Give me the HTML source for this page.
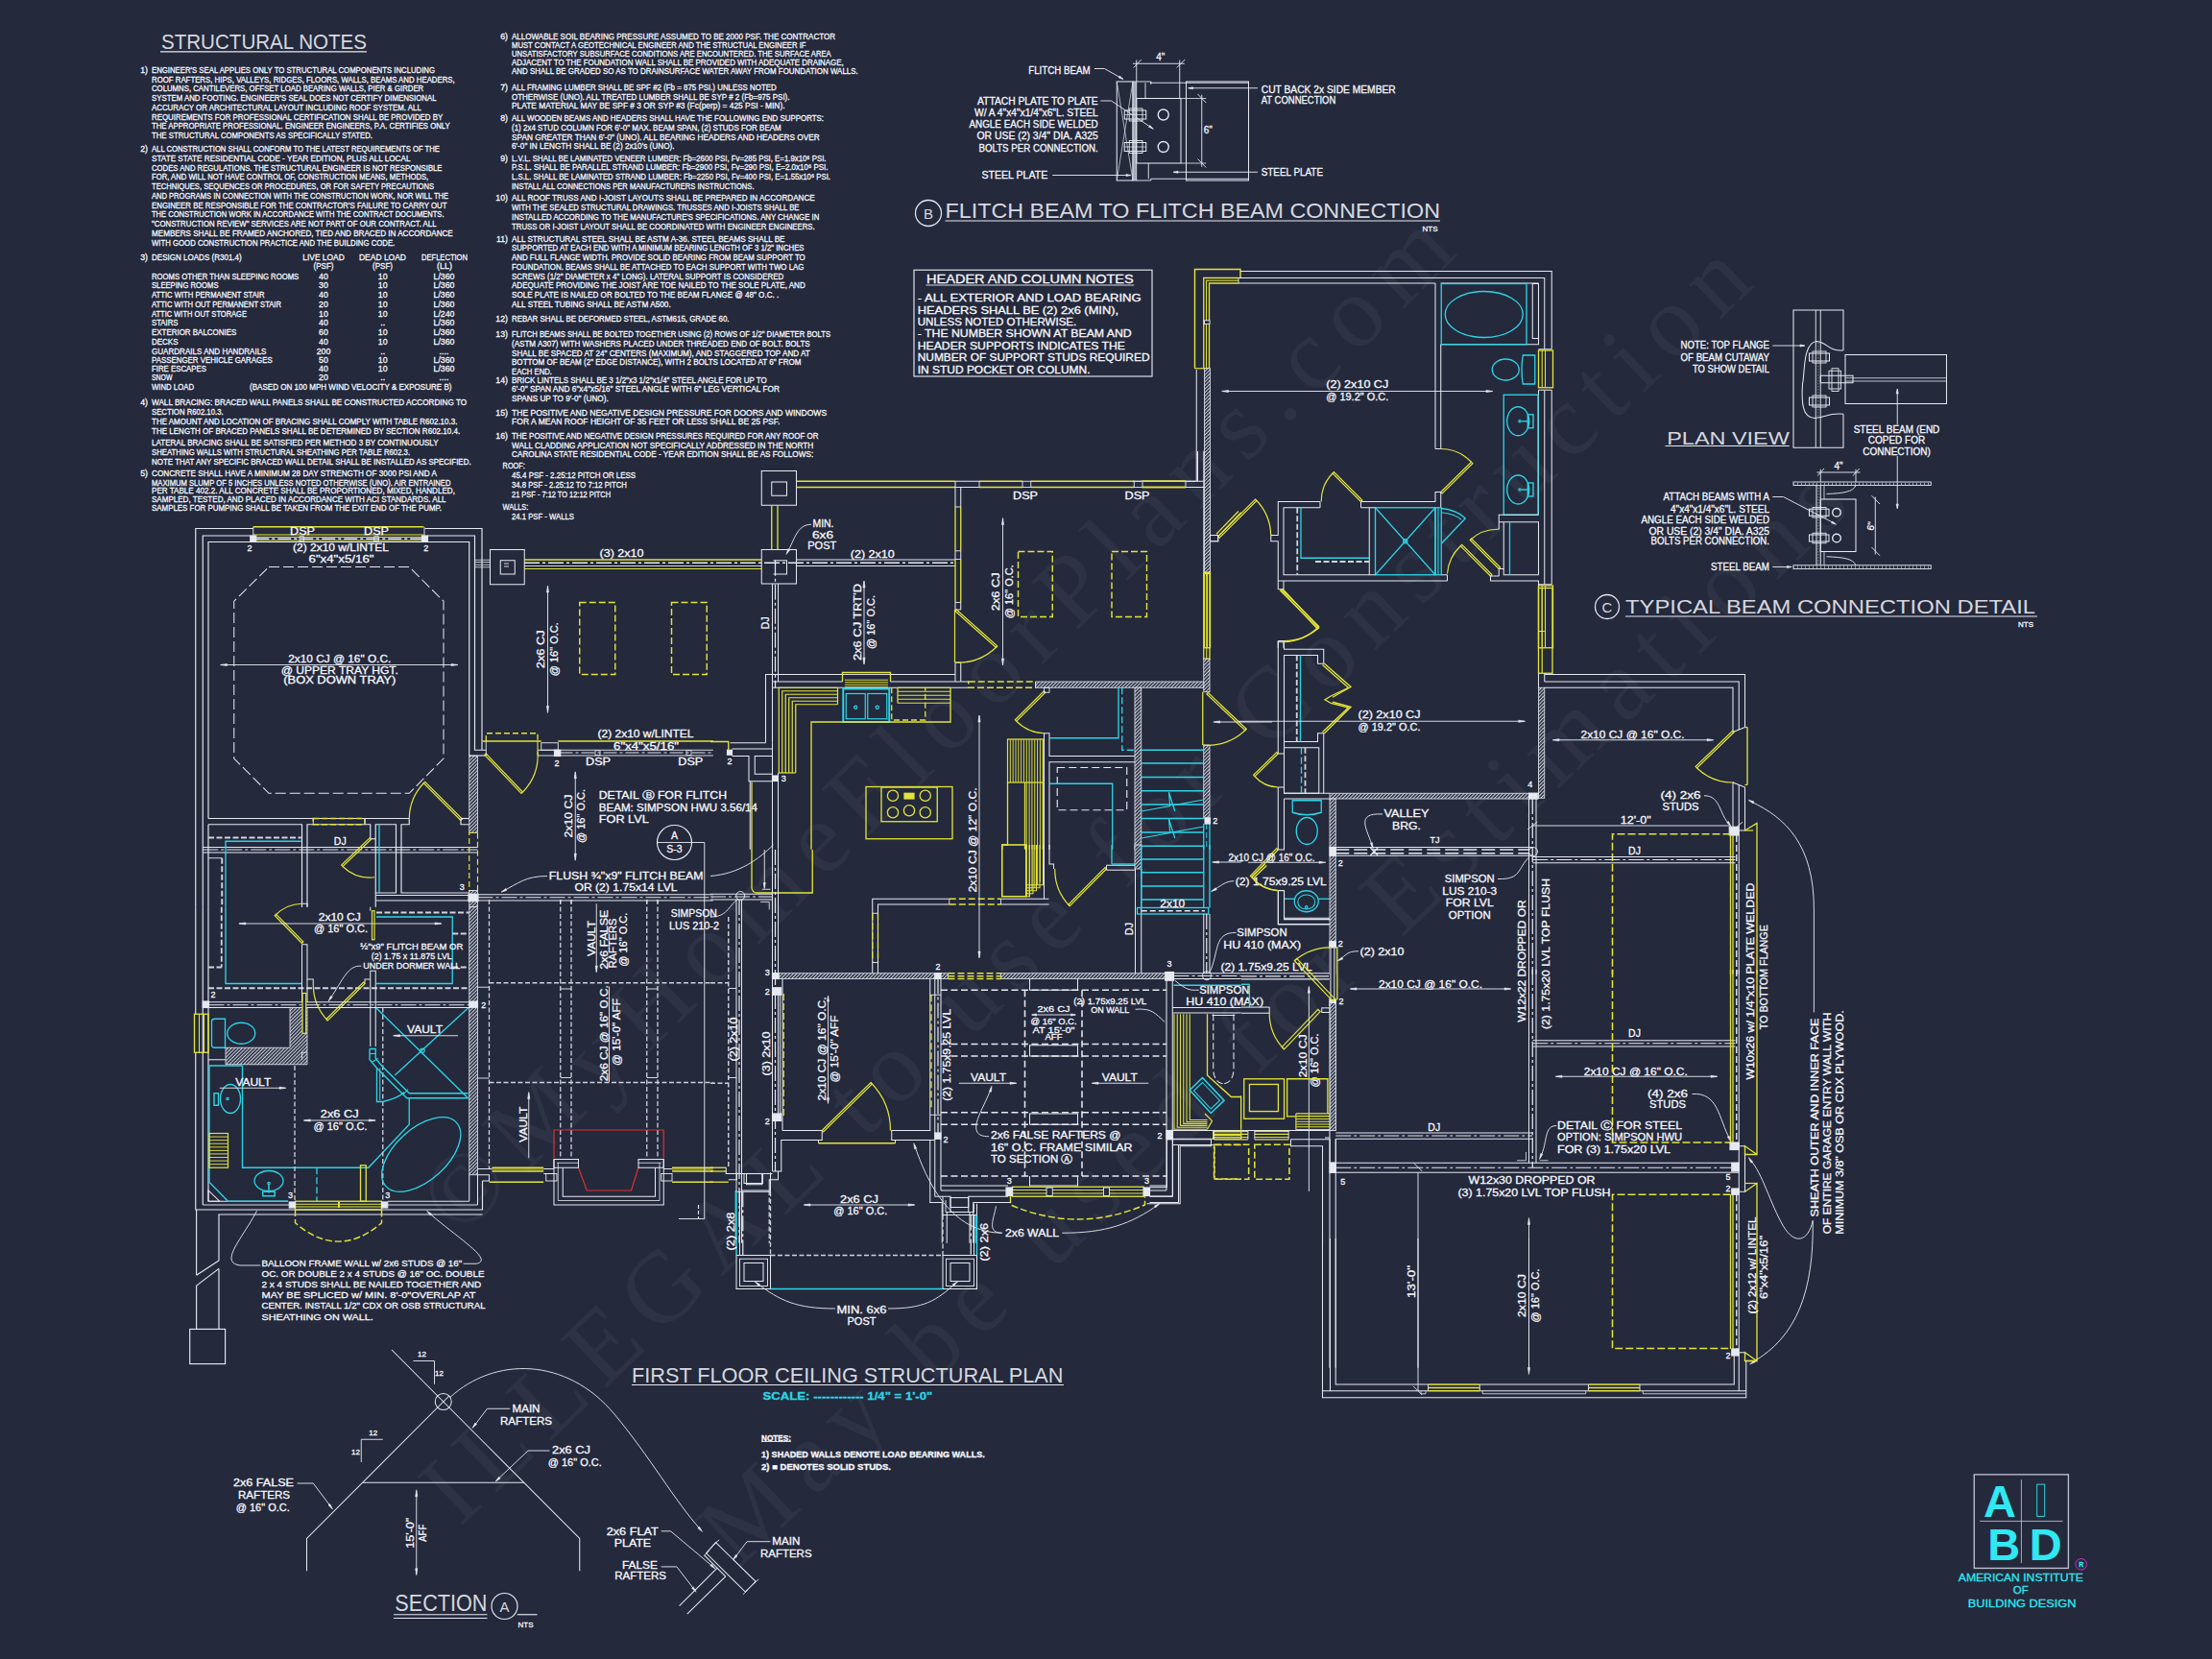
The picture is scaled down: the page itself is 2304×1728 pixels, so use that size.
<!DOCTYPE html>
<html><head><meta charset="utf-8"><title>First Floor Ceiling Structural Plan</title>
<style>
html,body{margin:0;padding:0;background:#24293c;}
body{width:2304px;height:1728px;overflow:hidden;}
svg{display:block;font-family:"Liberation Sans",sans-serif;}
svg line,svg polyline,svg polygon,svg rect,svg circle,svg ellipse,svg path{stroke-linecap:butt;}
</style></head><body>
<svg width="2304" height="1728" viewBox="0 0 2304 1728">
<defs><pattern id="h" width="2.6" height="2.6" patternUnits="userSpaceOnUse" patternTransform="rotate(-45)"><rect width="2.6" height="2.6" fill="#24293c"/><line x1="0" y1="1.3" x2="2.6" y2="1.3" stroke="#d4d8e2" stroke-width="1.05"/></pattern></defs>
<rect x="0" y="0" width="2304" height="1728" fill="#24293c"/>
<text x="479.6" y="1289.9" font-family="Liberation Serif,serif" font-size="106" fill="#ffffff" fill-opacity="0.042" textLength="1460" lengthAdjust="spacing" transform="rotate(-44.58 479.6 1289.9)">©MyHomeFloorPlans.com</text>
<text x="479.2" y="1591.3" font-family="Liberation Serif,serif" font-size="106" fill="#ffffff" fill-opacity="0.042" textLength="1870" lengthAdjust="spacing" transform="rotate(-43.79 479.2 1591.3)">ILLEGAL to use for Construction</text>
<text x="769.1" y="1635.3" font-family="Liberation Serif,serif" font-size="106" fill="#ffffff" fill-opacity="0.042" textLength="1602" lengthAdjust="spacing" transform="rotate(-43.61 769.1 1635.3)">May be used for Estimations</text>
<text x="1071.25" y="76.6" font-size="10" fill="#f7f8fc" stroke="#f7f8fc" stroke-width="0.28" textLength="64.25" lengthAdjust="spacingAndGlyphs">FLITCH BEAM</text>
<polyline points="1140,71.5 1150.5,71.5 1170,82.5" fill="none" stroke="#e6e9f0" stroke-width="0.92"/>
<polygon points="1170,82.5 1165.12,80.9526 1166.22,79.0474" fill="#e6e9f0" stroke="#e6e9f0" stroke-width="0.575"/>
<text x="1143.75" y="109.1" font-size="10" fill="#f7f8fc" stroke="#f7f8fc" stroke-width="0.28" text-anchor="end" textLength="125.75" lengthAdjust="spacingAndGlyphs">ATTACH PLATE TO PLATE</text>
<text x="1143.75" y="120.6" font-size="10" fill="#f7f8fc" stroke="#f7f8fc" stroke-width="0.28" text-anchor="end" textLength="128.75" lengthAdjust="spacingAndGlyphs">W/ A 4"x4"x1/4"x6"L. STEEL</text>
<text x="1143.75" y="132.6" font-size="10" fill="#f7f8fc" stroke="#f7f8fc" stroke-width="0.28" text-anchor="end" textLength="134.25" lengthAdjust="spacingAndGlyphs">ANGLE EACH SIDE WELDED</text>
<text x="1143.75" y="145.1" font-size="10" fill="#f7f8fc" stroke="#f7f8fc" stroke-width="0.28" text-anchor="end" textLength="126.25" lengthAdjust="spacingAndGlyphs">OR USE (2) 3/4" DIA. A325</text>
<text x="1143.75" y="157.85" font-size="10" fill="#f7f8fc" stroke="#f7f8fc" stroke-width="0.28" text-anchor="end" textLength="124.25" lengthAdjust="spacingAndGlyphs">BOLTS PER CONNECTION.</text>
<polyline points="1146.25,105 1157.5,105 1201.25,134.25" fill="none" stroke="#e6e9f0" stroke-width="0.92"/>
<polygon points="1201.25,134.25 1196.49,132.366 1197.72,130.542" fill="#e6e9f0" stroke="#e6e9f0" stroke-width="0.575"/>
<text x="1022.5" y="186.1" font-size="10" fill="#f7f8fc" stroke="#f7f8fc" stroke-width="0.28" textLength="68.75" lengthAdjust="spacingAndGlyphs">STEEL  PLATE</text>
<line x1="1096.25" y1="182.5" x2="1177.5" y2="182.5" stroke="#e6e9f0" stroke-width="0.92"/>
<polygon points="1178,182.5 1173,183.6 1173,181.4" fill="#e6e9f0" stroke="#e6e9f0" stroke-width="0.575"/>
<text x="1313.75" y="96.6" font-size="10" fill="#f7f8fc" stroke="#f7f8fc" stroke-width="0.28" textLength="140" lengthAdjust="spacingAndGlyphs">CUT BACK 2x  SIDE MEMBER</text>
<text x="1313.75" y="107.85" font-size="10" fill="#f7f8fc" stroke="#f7f8fc" stroke-width="0.28" textLength="77.5" lengthAdjust="spacingAndGlyphs">AT CONNECTION</text>
<line x1="1310" y1="91.75" x2="1238" y2="91.75" stroke="#e6e9f0" stroke-width="0.92"/>
<polygon points="1237.5,91.75 1242.5,90.65 1242.5,92.85" fill="#e6e9f0" stroke="#e6e9f0" stroke-width="0.575"/>
<text x="1313.75" y="182.6" font-size="10" fill="#f7f8fc" stroke="#f7f8fc" stroke-width="0.28" textLength="64.25" lengthAdjust="spacingAndGlyphs">STEEL PLATE</text>
<line x1="1310" y1="179.25" x2="1222.5" y2="179.25" stroke="#e6e9f0" stroke-width="0.92"/>
<polygon points="1222,179.25 1227,178.15 1227,180.35" fill="#e6e9f0" stroke="#e6e9f0" stroke-width="0.575"/>
<text x="1208.75" y="63.1" font-size="10" fill="#f7f8fc" stroke="#f7f8fc" stroke-width="0.28" text-anchor="middle">4"</text>
<line x1="1180" y1="66.25" x2="1233.75" y2="66.25" stroke="#e6e9f0" stroke-width="0.92"/>
<line x1="1183.75" y1="62.5" x2="1183.75" y2="85" stroke="#e6e9f0" stroke-width="0.92"/>
<line x1="1228.75" y1="62.5" x2="1228.75" y2="102.5" stroke="#e6e9f0" stroke-width="0.92"/>
<line x1="1180.75" y1="70.5" x2="1188.75" y2="62" stroke="#e6e9f0" stroke-width="0.92"/>
<line x1="1225.75" y1="70.5" x2="1234.25" y2="62" stroke="#e6e9f0" stroke-width="0.92"/>
<rect x="1163.25" y="85" width="16.75" height="103" fill="none" stroke="#e6e9f0" stroke-width="1.035"/>
<line x1="1163.25" y1="85" x2="1180" y2="188" stroke="#e6e9f0" stroke-width="0.69"/>
<line x1="1180" y1="85" x2="1163.25" y2="188" stroke="#e6e9f0" stroke-width="0.69"/>
<rect x="1180" y="85" width="3.75" height="103" fill="#a4a9b8" stroke="#e6e9f0" stroke-width="0.805"/>
<line x1="1181.75" y1="86.25" x2="1181.75" y2="187.5" stroke="#9aa0b0" stroke-width="1.6" stroke-dasharray="0.8 2.2"/>
<rect x="1183.75" y="102.5" width="46.25" height="67.5" fill="none" stroke="#e6e9f0" stroke-width="1.035"/>
<polyline points="1183.75,85 1198.75,85 1198.75,86.25 1300.5,86.25" fill="none" stroke="#e6e9f0" stroke-width="0.92"/>
<line x1="1193" y1="86.25" x2="1193" y2="102.5" stroke="#e6e9f0" stroke-width="0.92"/>
<line x1="1198.75" y1="85" x2="1198.75" y2="88" stroke="#e6e9f0" stroke-width="0.92"/>
<polyline points="1183.75,188 1198.75,188 1198.75,186.25 1300.5,186.25" fill="none" stroke="#e6e9f0" stroke-width="0.92"/>
<line x1="1196.25" y1="170" x2="1196.25" y2="186.25" stroke="#e6e9f0" stroke-width="0.92"/>
<line x1="1230" y1="102.5" x2="1256.25" y2="102.5" stroke="#e6e9f0" stroke-width="0.805"/>
<line x1="1230" y1="170" x2="1256.25" y2="170" stroke="#e6e9f0" stroke-width="0.805"/>
<rect x="1235.5" y="85" width="65" height="103" fill="none" stroke="#e6e9f0" stroke-width="1.035"/>
<circle cx="1211.75" cy="119.5" r="5.5" fill="none" stroke="#e6e9f0" stroke-width="1.38"/>
<rect x="1171.25" y="115" width="22.5" height="9" fill="none" stroke="#e6e9f0" stroke-width="1.035"/>
<rect x="1176.25" y="113" width="13.75" height="13" fill="none" stroke="#e6e9f0" stroke-width="0.92"/>
<line x1="1171.25" y1="119.5" x2="1193.75" y2="119.5" stroke="#e6e9f0" stroke-width="0.69"/>
<circle cx="1211.75" cy="153" r="5.5" fill="none" stroke="#e6e9f0" stroke-width="1.38"/>
<rect x="1171.25" y="148.5" width="22.5" height="9" fill="none" stroke="#e6e9f0" stroke-width="1.035"/>
<rect x="1176.25" y="146.5" width="13.75" height="13" fill="none" stroke="#e6e9f0" stroke-width="0.92"/>
<line x1="1171.25" y1="153" x2="1193.75" y2="153" stroke="#e6e9f0" stroke-width="0.69"/>
<line x1="1251.75" y1="98.75" x2="1251.75" y2="173.75" stroke="#e6e9f0" stroke-width="0.92"/>
<line x1="1247.5" y1="98" x2="1256.25" y2="107" stroke="#e6e9f0" stroke-width="0.92"/>
<line x1="1247.5" y1="165.5" x2="1256.25" y2="174.5" stroke="#e6e9f0" stroke-width="0.92"/>
<text x="1253.75" y="138.6" font-size="10" fill="#f7f8fc" stroke="#f7f8fc" stroke-width="0.28">6"</text>
<circle cx="967" cy="222" r="13.5" fill="none" stroke="#e6e9f0" stroke-width="1.265"/>
<text x="967" y="227.65" font-size="15" fill="#f7f8fc" fill-opacity="0.86" text-anchor="middle">B</text>
<text x="984.5" y="227" font-size="22.5" fill="#f7f8fc" fill-opacity="0.86" textLength="515.5" lengthAdjust="spacingAndGlyphs">FLITCH BEAM TO FLITCH BEAM CONNECTION</text>
<line x1="984.5" y1="230" x2="1500" y2="230" stroke="#e6e9f0" stroke-width="1.15"/>
<text x="1489.5" y="240.88" font-size="8" fill="#f7f8fc" stroke="#f7f8fc" stroke-width="0.28" text-anchor="middle">NTS</text>
<rect x="952" y="281.25" width="248" height="110.75" fill="none" stroke="#e6e9f0" stroke-width="1.15"/>
<text x="965" y="294.82" font-size="12" fill="#f7f8fc" stroke="#f7f8fc" stroke-width="0.28" textLength="215.75" lengthAdjust="spacingAndGlyphs">HEADER AND COLUMN NOTES</text>
<line x1="964.5" y1="297" x2="1181.25" y2="297" stroke="#e6e9f0" stroke-width="0.92"/>
<text x="955.75" y="314.458" font-size="10.3" fill="#f7f8fc" stroke="#f7f8fc" stroke-width="0.28" textLength="233" lengthAdjust="spacingAndGlyphs">- ALL EXTERIOR AND LOAD BEARING</text>
<text x="955.75" y="326.708" font-size="10.3" fill="#f7f8fc" stroke="#f7f8fc" stroke-width="0.28" textLength="209.25" lengthAdjust="spacingAndGlyphs">HEADERS SHALL BE (2) 2x6 (MIN),</text>
<text x="955.75" y="338.958" font-size="10.3" fill="#f7f8fc" stroke="#f7f8fc" stroke-width="0.28" textLength="165.5" lengthAdjust="spacingAndGlyphs">UNLESS NOTED OTHERWISE.</text>
<text x="955.75" y="351.458" font-size="10.3" fill="#f7f8fc" stroke="#f7f8fc" stroke-width="0.28" textLength="223" lengthAdjust="spacingAndGlyphs">- THE NUMBER SHOWN AT BEAM AND</text>
<text x="955.75" y="363.958" font-size="10.3" fill="#f7f8fc" stroke="#f7f8fc" stroke-width="0.28" textLength="216.25" lengthAdjust="spacingAndGlyphs">HEADER SUPPORTS INDICATES THE</text>
<text x="955.75" y="376.208" font-size="10.3" fill="#f7f8fc" stroke="#f7f8fc" stroke-width="0.28" textLength="241.75" lengthAdjust="spacingAndGlyphs">NUMBER OF SUPPORT STUDS REQUIRED</text>
<text x="955.75" y="388.708" font-size="10.3" fill="#f7f8fc" stroke="#f7f8fc" stroke-width="0.28" textLength="179.75" lengthAdjust="spacingAndGlyphs">IN STUD POCKET OR COLUMN.</text>
<text x="1843" y="363.1" font-size="10" fill="#f7f8fc" stroke="#f7f8fc" stroke-width="0.28" text-anchor="end" textLength="92.5" lengthAdjust="spacingAndGlyphs">NOTE: TOP FLANGE</text>
<text x="1843" y="375.6" font-size="10" fill="#f7f8fc" stroke="#f7f8fc" stroke-width="0.28" text-anchor="end" textLength="92.5" lengthAdjust="spacingAndGlyphs">OF BEAM CUTAWAY</text>
<text x="1843" y="388.1" font-size="10" fill="#f7f8fc" stroke="#f7f8fc" stroke-width="0.28" text-anchor="end" textLength="80" lengthAdjust="spacingAndGlyphs">TO SHOW DETAIL</text>
<line x1="1846.25" y1="360" x2="1879.5" y2="360" stroke="#e6e9f0" stroke-width="0.92"/>
<polygon points="1880,360 1875,361.1 1875,358.9" fill="#e6e9f0" stroke="#e6e9f0" stroke-width="0.575"/>
<polyline points="1920,365 1920,323 1868,323 1868,466.25 1920,466.25 1920,431.25" fill="none" stroke="#e6e9f0" stroke-width="1.035"/>
<line x1="1891.25" y1="323" x2="1891.25" y2="466.25" stroke="#e6e9f0" stroke-width="0.92"/>
<line x1="1896.25" y1="323" x2="1896.25" y2="466.25" stroke="#e6e9f0" stroke-width="0.92"/>
<path d="M1920.0,365.0 C1905.0,366.25 1902.5,356.25 1892.5,355.5 C1877.5,356.25 1880.0,390.0 1877.5,400.0 C1876.25,420.0 1877.5,435.0 1890.0,435.5 C1902.5,435.0 1902.5,430.0 1920.0,431.25" fill="none" stroke="#e6e9f0" stroke-width="1.035"/>
<line x1="1893.75" y1="357.5" x2="1893.75" y2="435" stroke="#9aa0b0" stroke-width="1.6" stroke-dasharray="0.8 2.2"/>
<rect x="1922" y="369.5" width="105.5" height="51" fill="none" stroke="#e6e9f0" stroke-width="1.035"/>
<line x1="1922" y1="393.75" x2="2027.5" y2="393.75" stroke="#e6e9f0" stroke-width="0.805"/>
<line x1="1922" y1="397" x2="2027.5" y2="397" stroke="#e6e9f0" stroke-width="0.805"/>
<rect x="1884.5" y="368" width="21" height="8" fill="none" stroke="#e6e9f0" stroke-width="1.035"/>
<rect x="1888" y="366" width="14" height="12" fill="none" stroke="#e6e9f0" stroke-width="0.92"/>
<rect x="1884.5" y="414" width="21" height="8" fill="none" stroke="#e6e9f0" stroke-width="1.035"/>
<rect x="1888" y="412" width="14" height="12" fill="none" stroke="#e6e9f0" stroke-width="0.92"/>
<rect x="1905" y="386.25" width="12.5" height="18.75" fill="none" stroke="#e6e9f0" stroke-width="0.92"/>
<rect x="1908" y="383.75" width="7" height="23.75" fill="none" stroke="#e6e9f0" stroke-width="0.92"/>
<rect x="1896.25" y="391.25" width="33.75" height="7.5" fill="none" stroke="#e6e9f0" stroke-width="1.035"/>
<text x="1736.25" y="462.5" font-size="19" fill="#f7f8fc" fill-opacity="0.86" textLength="127.5" lengthAdjust="spacingAndGlyphs">PLAN VIEW</text>
<line x1="1734.5" y1="464.5" x2="1863.75" y2="464.5" stroke="#e6e9f0" stroke-width="1.15"/>
<text x="1975.5" y="450.6" font-size="10" fill="#f7f8fc" stroke="#f7f8fc" stroke-width="0.28" text-anchor="middle">STEEL BEAM (END</text>
<text x="1975.5" y="462.35" font-size="10" fill="#f7f8fc" stroke="#f7f8fc" stroke-width="0.28" text-anchor="middle">COPED FOR</text>
<text x="1975.5" y="474.35" font-size="10" fill="#f7f8fc" stroke="#f7f8fc" stroke-width="0.28" text-anchor="middle">CONNECTION)</text>
<line x1="1976.25" y1="405.5" x2="1976.25" y2="442.5" stroke="#e6e9f0" stroke-width="0.92"/>
<polygon points="1976.25,405 1977.35,410 1975.15,410" fill="#e6e9f0" stroke="#e6e9f0" stroke-width="0.575"/>
<line x1="1976.25" y1="475" x2="1976.25" y2="529.5" stroke="#e6e9f0" stroke-width="0.92"/>
<polygon points="1976.25,530 1975.15,525 1977.35,525" fill="#e6e9f0" stroke="#e6e9f0" stroke-width="0.575"/>
<rect x="1868" y="502" width="143.25" height="3.5" fill="none" stroke="#e6e9f0" stroke-width="0.92"/>
<line x1="1868" y1="503.75" x2="2011.25" y2="503.75" stroke="#9aa0b0" stroke-width="2.4" stroke-dasharray="1 3"/>
<rect x="1868" y="588.75" width="143.25" height="3.75" fill="none" stroke="#e6e9f0" stroke-width="0.92"/>
<line x1="1868" y1="590.5" x2="2011.25" y2="590.5" stroke="#9aa0b0" stroke-width="2.4" stroke-dasharray="1 3"/>
<line x1="1892" y1="505.5" x2="1892" y2="588.75" stroke="#e6e9f0" stroke-width="1.035"/>
<line x1="1896.25" y1="505.5" x2="1896.25" y2="588.75" stroke="#e6e9f0" stroke-width="1.035"/>
<line x1="1894" y1="505.5" x2="1894" y2="588.75" stroke="#9aa0b0" stroke-width="1.6" stroke-dasharray="0.8 2.2"/>
<rect x="1896.25" y="520" width="36.75" height="54.5" fill="none" stroke="#e6e9f0" stroke-width="1.035"/>
<line x1="1900" y1="505.5" x2="1900" y2="520" stroke="#e6e9f0" stroke-width="0.805"/>
<line x1="1900" y1="574.5" x2="1900" y2="588.75" stroke="#e6e9f0" stroke-width="0.805"/>
<path d="M1933.0,505.5 C1930.0,512.5 1920.0,513.75 1902.5,514.5" fill="none" stroke="#e6e9f0" stroke-width="0.92"/>
<path d="M1933.0,588.75 C1930.0,581.75 1920.0,580.5 1902.5,579.75" fill="none" stroke="#e6e9f0" stroke-width="0.92"/>
<circle cx="1913" cy="533.75" r="4.3" fill="none" stroke="#e6e9f0" stroke-width="1.38"/>
<rect x="1884.5" y="530.25" width="20.5" height="7" fill="none" stroke="#e6e9f0" stroke-width="1.035"/>
<rect x="1888" y="528.5" width="14" height="10.5" fill="none" stroke="#e6e9f0" stroke-width="0.92"/>
<circle cx="1913" cy="560.5" r="4.3" fill="none" stroke="#e6e9f0" stroke-width="1.38"/>
<rect x="1884.5" y="557" width="20.5" height="7" fill="none" stroke="#e6e9f0" stroke-width="1.035"/>
<rect x="1888" y="555.25" width="14" height="10.5" fill="none" stroke="#e6e9f0" stroke-width="0.92"/>
<text x="1915" y="488.6" font-size="10" fill="#f7f8fc" stroke="#f7f8fc" stroke-width="0.28" text-anchor="middle">4"</text>
<line x1="1892.5" y1="492" x2="1937.5" y2="492" stroke="#e6e9f0" stroke-width="0.92"/>
<line x1="1896.25" y1="488.75" x2="1896.25" y2="502" stroke="#e6e9f0" stroke-width="0.92"/>
<line x1="1933" y1="488.75" x2="1933" y2="502" stroke="#e6e9f0" stroke-width="0.92"/>
<line x1="1893.25" y1="495.5" x2="1900" y2="488" stroke="#e6e9f0" stroke-width="0.92"/>
<line x1="1930" y1="495.5" x2="1936.75" y2="488" stroke="#e6e9f0" stroke-width="0.92"/>
<line x1="1953.25" y1="517.5" x2="1953.25" y2="577.5" stroke="#e6e9f0" stroke-width="0.92"/>
<line x1="1949.5" y1="516.25" x2="1958" y2="525" stroke="#e6e9f0" stroke-width="0.92"/>
<line x1="1949.5" y1="570" x2="1958" y2="578.75" stroke="#e6e9f0" stroke-width="0.92"/>
<text x="0" y="3.6" font-size="10" fill="#f7f8fc" stroke="#f7f8fc" stroke-width="0.28" text-anchor="middle" transform="translate(1948.5 548) rotate(-80)">6"</text>
<text x="1843" y="521.1" font-size="10" fill="#f7f8fc" stroke="#f7f8fc" stroke-width="0.28" text-anchor="end" textLength="110.5" lengthAdjust="spacingAndGlyphs">ATTACH BEAMS WITH A</text>
<text x="1843" y="533.6" font-size="10" fill="#f7f8fc" stroke="#f7f8fc" stroke-width="0.28" text-anchor="end" textLength="103" lengthAdjust="spacingAndGlyphs">4"x4"x1/4"x6"L. STEEL</text>
<text x="1843" y="544.85" font-size="10" fill="#f7f8fc" stroke="#f7f8fc" stroke-width="0.28" text-anchor="end" textLength="133.5" lengthAdjust="spacingAndGlyphs">ANGLE EACH SIDE WELDED</text>
<text x="1843" y="556.6" font-size="10" fill="#f7f8fc" stroke="#f7f8fc" stroke-width="0.28" text-anchor="end" textLength="125.5" lengthAdjust="spacingAndGlyphs">OR USE (2) 3/4" DIA. A325</text>
<text x="1843" y="567.35" font-size="10" fill="#f7f8fc" stroke="#f7f8fc" stroke-width="0.28" text-anchor="end" textLength="123.5" lengthAdjust="spacingAndGlyphs">BOLTS PER CONNECTION.</text>
<polyline points="1846.25,517.5 1857.5,517.5 1912,545.75" fill="none" stroke="#e6e9f0" stroke-width="0.92"/>
<polygon points="1912.5,546.25 1907.57,544.874 1908.6,542.931" fill="#e6e9f0" stroke="#e6e9f0" stroke-width="0.575"/>
<text x="1843" y="594.1" font-size="10" fill="#f7f8fc" stroke="#f7f8fc" stroke-width="0.28" text-anchor="end" textLength="61" lengthAdjust="spacingAndGlyphs">STEEL BEAM</text>
<line x1="1846.25" y1="590.5" x2="1865.75" y2="590.5" stroke="#e6e9f0" stroke-width="0.92"/>
<polygon points="1866.25,590.5 1861.25,591.6 1861.25,589.4" fill="#e6e9f0" stroke="#e6e9f0" stroke-width="0.575"/>
<circle cx="1674" cy="632" r="12.5" fill="none" stroke="#e6e9f0" stroke-width="1.265"/>
<text x="1674" y="637.9" font-size="15" fill="#f7f8fc" fill-opacity="0.86" text-anchor="middle">C</text>
<text x="1693" y="638.5" font-size="20.5" fill="#f7f8fc" fill-opacity="0.86" textLength="427" lengthAdjust="spacingAndGlyphs">TYPICAL BEAM CONNECTION DETAIL</text>
<line x1="1693" y1="642" x2="2122" y2="642" stroke="#e6e9f0" stroke-width="1.15"/>
<text x="2110" y="652.88" font-size="8" fill="#f7f8fc" stroke="#f7f8fc" stroke-width="0.28" text-anchor="middle">NTS</text>
<text x="168" y="51" font-size="22" fill="#f7f8fc" fill-opacity="0.86" textLength="214" lengthAdjust="spacingAndGlyphs">STRUCTURAL NOTES</text>
<line x1="167" y1="53.8" x2="382" y2="53.8" stroke="#e6e9f0" stroke-width="1.15"/>
<text x="158" y="75.918" font-size="8.8" fill="#f7f8fc" stroke="#f7f8fc" stroke-width="0.28" textLength="295" lengthAdjust="spacingAndGlyphs">ENGINEER'S SEAL APPLIES ONLY TO STRUCTURAL COMPONENTS INCLUDING</text>
<text x="154" y="75.918" font-size="8.8" fill="#f7f8fc" stroke="#f7f8fc" stroke-width="0.28" text-anchor="end">1)</text>
<text x="158" y="85.668" font-size="8.8" fill="#f7f8fc" stroke="#f7f8fc" stroke-width="0.28" textLength="315.75" lengthAdjust="spacingAndGlyphs">ROOF RAFTERS, HIPS, VALLEYS, RIDGES, FLOORS, WALLS, BEAMS AND HEADERS,</text>
<text x="158" y="95.418" font-size="8.8" fill="#f7f8fc" stroke="#f7f8fc" stroke-width="0.28" textLength="283.25" lengthAdjust="spacingAndGlyphs">COLUMNS, CANTILEVERS, OFFSET LOAD BEARING WALLS, PIER &amp; GIRDER</text>
<text x="158" y="105.168" font-size="8.8" fill="#f7f8fc" stroke="#f7f8fc" stroke-width="0.28" textLength="296.5" lengthAdjust="spacingAndGlyphs">SYSTEM AND FOOTING.  ENGINEER'S SEAL DOES NOT CERTIFY DIMENSIONAL</text>
<text x="158" y="114.918" font-size="8.8" fill="#f7f8fc" stroke="#f7f8fc" stroke-width="0.28" textLength="280.75" lengthAdjust="spacingAndGlyphs">ACCURACY OR ARCHITECTURAL LAYOUT INCLUDING ROOF SYSTEM. ALL</text>
<text x="158" y="124.918" font-size="8.8" fill="#f7f8fc" stroke="#f7f8fc" stroke-width="0.28" textLength="303.25" lengthAdjust="spacingAndGlyphs">REQUIREMENTS FOR PROFESSIONAL CERTIFICATION SHALL BE PROVIDED BY</text>
<text x="158" y="134.418" font-size="8.8" fill="#f7f8fc" stroke="#f7f8fc" stroke-width="0.28" textLength="310.75" lengthAdjust="spacingAndGlyphs">THE APPROPRIATE PROFESSIONAL. ENGINEER ENGINEERS, P.A. CERTIFIES ONLY</text>
<text x="158" y="143.918" font-size="8.8" fill="#f7f8fc" stroke="#f7f8fc" stroke-width="0.28" textLength="230" lengthAdjust="spacingAndGlyphs">THE STRUCTURAL COMPONENTS AS SPECIFICALLY STATED.</text>
<text x="158" y="158.168" font-size="8.8" fill="#f7f8fc" stroke="#f7f8fc" stroke-width="0.28" textLength="300" lengthAdjust="spacingAndGlyphs">ALL CONSTRUCTION SHALL CONFORM TO THE LATEST REQUIREMENTS OF THE</text>
<text x="154" y="158.168" font-size="8.8" fill="#f7f8fc" stroke="#f7f8fc" stroke-width="0.28" text-anchor="end">2)</text>
<text x="158" y="167.918" font-size="8.8" fill="#f7f8fc" stroke="#f7f8fc" stroke-width="0.28" textLength="269.5" lengthAdjust="spacingAndGlyphs">STATE STATE RESIDENTIAL CODE - YEAR EDITION, PLUS ALL LOCAL</text>
<text x="158" y="177.668" font-size="8.8" fill="#f7f8fc" stroke="#f7f8fc" stroke-width="0.28" textLength="302.5" lengthAdjust="spacingAndGlyphs">CODES AND REGULATIONS. THE STRUCTURAL ENGINEER IS NOT RESPONSIBLE</text>
<text x="158" y="187.418" font-size="8.8" fill="#f7f8fc" stroke="#f7f8fc" stroke-width="0.28" textLength="288.25" lengthAdjust="spacingAndGlyphs">FOR, AND WILL NOT HAVE CONTROL OF, CONSTRUCTION MEANS, METHODS,</text>
<text x="158" y="197.168" font-size="8.8" fill="#f7f8fc" stroke="#f7f8fc" stroke-width="0.28" textLength="294" lengthAdjust="spacingAndGlyphs">TECHNIQUES, SEQUENCES OR PROCEDURES, OR FOR SAFETY PRECAUTIONS</text>
<text x="158" y="206.918" font-size="8.8" fill="#f7f8fc" stroke="#f7f8fc" stroke-width="0.28" textLength="309" lengthAdjust="spacingAndGlyphs">AND PROGRAMS IN CONNECTION WITH THE CONSTRUCTION WORK, NOR WILL THE</text>
<text x="158" y="216.668" font-size="8.8" fill="#f7f8fc" stroke="#f7f8fc" stroke-width="0.28" textLength="307.5" lengthAdjust="spacingAndGlyphs">ENGINEER BE RESPONSIBLE FOR THE CONTRACTOR'S FAILURE TO CARRY OUT</text>
<text x="158" y="226.418" font-size="8.8" fill="#f7f8fc" stroke="#f7f8fc" stroke-width="0.28" textLength="304.5" lengthAdjust="spacingAndGlyphs">THE CONSTRUCTION WORK IN ACCORDANCE WITH THE CONTRACT DOCUMENTS.</text>
<text x="158" y="236.168" font-size="8.8" fill="#f7f8fc" stroke="#f7f8fc" stroke-width="0.28" textLength="296.5" lengthAdjust="spacingAndGlyphs">"CONSTRUCTION REVIEW" SERVICES ARE NOT PART OF OUR CONTRACT. ALL</text>
<text x="158" y="245.918" font-size="8.8" fill="#f7f8fc" stroke="#f7f8fc" stroke-width="0.28" textLength="313.75" lengthAdjust="spacingAndGlyphs">MEMBERS SHALL BE FRAMED ANCHORED, TIED AND BRACED IN ACCORDANCE</text>
<text x="158" y="255.668" font-size="8.8" fill="#f7f8fc" stroke="#f7f8fc" stroke-width="0.28" textLength="253.25" lengthAdjust="spacingAndGlyphs">WITH GOOD CONSTRUCTION PRACTICE AND THE BUILDING CODE.</text>
<text x="158" y="271.418" font-size="8.8" fill="#f7f8fc" stroke="#f7f8fc" stroke-width="0.28" textLength="93.75" lengthAdjust="spacingAndGlyphs">DESIGN LOADS (R301.4)</text>
<text x="154" y="271.418" font-size="8.8" fill="#f7f8fc" stroke="#f7f8fc" stroke-width="0.28" text-anchor="end">3)</text>
<text x="337" y="271.418" font-size="8.8" fill="#f7f8fc" stroke="#f7f8fc" stroke-width="0.28" text-anchor="middle" textLength="43.5" lengthAdjust="spacingAndGlyphs">LIVE LOAD</text>
<text x="398.5" y="271.418" font-size="8.8" fill="#f7f8fc" stroke="#f7f8fc" stroke-width="0.28" text-anchor="middle" textLength="49" lengthAdjust="spacingAndGlyphs">DEAD LOAD</text>
<text x="463" y="271.418" font-size="8.8" fill="#f7f8fc" stroke="#f7f8fc" stroke-width="0.28" text-anchor="middle" textLength="48" lengthAdjust="spacingAndGlyphs">DEFLECTION</text>
<text x="337" y="280.418" font-size="8.8" fill="#f7f8fc" stroke="#f7f8fc" stroke-width="0.28" text-anchor="middle" textLength="21" lengthAdjust="spacingAndGlyphs">(PSF)</text>
<text x="398.5" y="280.418" font-size="8.8" fill="#f7f8fc" stroke="#f7f8fc" stroke-width="0.28" text-anchor="middle" textLength="21" lengthAdjust="spacingAndGlyphs">(PSF)</text>
<text x="463" y="280.418" font-size="8.8" fill="#f7f8fc" stroke="#f7f8fc" stroke-width="0.28" text-anchor="middle" textLength="16" lengthAdjust="spacingAndGlyphs">(LL)</text>
<text x="158" y="290.668" font-size="8.8" fill="#f7f8fc" stroke="#f7f8fc" stroke-width="0.28" textLength="153.25" lengthAdjust="spacingAndGlyphs">ROOMS OTHER THAN SLEEPING ROOMS</text>
<text x="337" y="290.668" font-size="8.8" fill="#f7f8fc" stroke="#f7f8fc" stroke-width="0.28" text-anchor="middle">40</text>
<text x="398.75" y="290.668" font-size="8.8" fill="#f7f8fc" stroke="#f7f8fc" stroke-width="0.28" text-anchor="middle">10</text>
<text x="462.5" y="290.668" font-size="8.8" fill="#f7f8fc" stroke="#f7f8fc" stroke-width="0.28" text-anchor="middle">L/360</text>
<text x="158" y="300.418" font-size="8.8" fill="#f7f8fc" stroke="#f7f8fc" stroke-width="0.28" textLength="69.5" lengthAdjust="spacingAndGlyphs">SLEEPING ROOMS</text>
<text x="337" y="300.418" font-size="8.8" fill="#f7f8fc" stroke="#f7f8fc" stroke-width="0.28" text-anchor="middle">30</text>
<text x="398.75" y="300.418" font-size="8.8" fill="#f7f8fc" stroke="#f7f8fc" stroke-width="0.28" text-anchor="middle">10</text>
<text x="462.5" y="300.418" font-size="8.8" fill="#f7f8fc" stroke="#f7f8fc" stroke-width="0.28" text-anchor="middle">L/360</text>
<text x="158" y="310.168" font-size="8.8" fill="#f7f8fc" stroke="#f7f8fc" stroke-width="0.28" textLength="117.5" lengthAdjust="spacingAndGlyphs">ATTIC WITH PERMANENT STAIR</text>
<text x="337" y="310.168" font-size="8.8" fill="#f7f8fc" stroke="#f7f8fc" stroke-width="0.28" text-anchor="middle">40</text>
<text x="398.75" y="310.168" font-size="8.8" fill="#f7f8fc" stroke="#f7f8fc" stroke-width="0.28" text-anchor="middle">10</text>
<text x="462.5" y="310.168" font-size="8.8" fill="#f7f8fc" stroke="#f7f8fc" stroke-width="0.28" text-anchor="middle">L/360</text>
<text x="158" y="319.918" font-size="8.8" fill="#f7f8fc" stroke="#f7f8fc" stroke-width="0.28" textLength="135" lengthAdjust="spacingAndGlyphs">ATTIC WITH OUT PERMANENT STAIR</text>
<text x="337" y="319.918" font-size="8.8" fill="#f7f8fc" stroke="#f7f8fc" stroke-width="0.28" text-anchor="middle">20</text>
<text x="398.75" y="319.918" font-size="8.8" fill="#f7f8fc" stroke="#f7f8fc" stroke-width="0.28" text-anchor="middle">10</text>
<text x="462.5" y="319.918" font-size="8.8" fill="#f7f8fc" stroke="#f7f8fc" stroke-width="0.28" text-anchor="middle">L/360</text>
<text x="158" y="329.668" font-size="8.8" fill="#f7f8fc" stroke="#f7f8fc" stroke-width="0.28" textLength="99" lengthAdjust="spacingAndGlyphs">ATTIC WITH OUT STORAGE</text>
<text x="337" y="329.668" font-size="8.8" fill="#f7f8fc" stroke="#f7f8fc" stroke-width="0.28" text-anchor="middle">10</text>
<text x="398.75" y="329.668" font-size="8.8" fill="#f7f8fc" stroke="#f7f8fc" stroke-width="0.28" text-anchor="middle">10</text>
<text x="462.5" y="329.668" font-size="8.8" fill="#f7f8fc" stroke="#f7f8fc" stroke-width="0.28" text-anchor="middle">L/240</text>
<text x="158" y="339.418" font-size="8.8" fill="#f7f8fc" stroke="#f7f8fc" stroke-width="0.28" textLength="27.5" lengthAdjust="spacingAndGlyphs">STAIRS</text>
<text x="337" y="339.418" font-size="8.8" fill="#f7f8fc" stroke="#f7f8fc" stroke-width="0.28" text-anchor="middle">40</text>
<text x="398.75" y="339.418" font-size="8.8" fill="#f7f8fc" stroke="#f7f8fc" stroke-width="0.28" text-anchor="middle">..</text>
<text x="462.5" y="339.418" font-size="8.8" fill="#f7f8fc" stroke="#f7f8fc" stroke-width="0.28" text-anchor="middle">L/360</text>
<text x="158" y="349.418" font-size="8.8" fill="#f7f8fc" stroke="#f7f8fc" stroke-width="0.28" textLength="88.25" lengthAdjust="spacingAndGlyphs">EXTERIOR BALCONIES</text>
<text x="337" y="349.418" font-size="8.8" fill="#f7f8fc" stroke="#f7f8fc" stroke-width="0.28" text-anchor="middle">60</text>
<text x="398.75" y="349.418" font-size="8.8" fill="#f7f8fc" stroke="#f7f8fc" stroke-width="0.28" text-anchor="middle">10</text>
<text x="462.5" y="349.418" font-size="8.8" fill="#f7f8fc" stroke="#f7f8fc" stroke-width="0.28" text-anchor="middle">L/360</text>
<text x="158" y="359.418" font-size="8.8" fill="#f7f8fc" stroke="#f7f8fc" stroke-width="0.28" textLength="27.5" lengthAdjust="spacingAndGlyphs">DECKS</text>
<text x="337" y="359.418" font-size="8.8" fill="#f7f8fc" stroke="#f7f8fc" stroke-width="0.28" text-anchor="middle">40</text>
<text x="398.75" y="359.418" font-size="8.8" fill="#f7f8fc" stroke="#f7f8fc" stroke-width="0.28" text-anchor="middle">10</text>
<text x="462.5" y="359.418" font-size="8.8" fill="#f7f8fc" stroke="#f7f8fc" stroke-width="0.28" text-anchor="middle">L/360</text>
<text x="158" y="369.418" font-size="8.8" fill="#f7f8fc" stroke="#f7f8fc" stroke-width="0.28" textLength="119.5" lengthAdjust="spacingAndGlyphs">GUARDRAILS AND HANDRAILS</text>
<text x="337" y="369.418" font-size="8.8" fill="#f7f8fc" stroke="#f7f8fc" stroke-width="0.28" text-anchor="middle">200</text>
<text x="398.75" y="369.418" font-size="8.8" fill="#f7f8fc" stroke="#f7f8fc" stroke-width="0.28" text-anchor="middle">..</text>
<text x="462.5" y="369.418" font-size="8.8" fill="#f7f8fc" stroke="#f7f8fc" stroke-width="0.28" text-anchor="middle">....</text>
<text x="158" y="378.168" font-size="8.8" fill="#f7f8fc" stroke="#f7f8fc" stroke-width="0.28" textLength="125.75" lengthAdjust="spacingAndGlyphs">PASSENGER VEHICLE GARAGES</text>
<text x="337" y="378.168" font-size="8.8" fill="#f7f8fc" stroke="#f7f8fc" stroke-width="0.28" text-anchor="middle">50</text>
<text x="398.75" y="378.168" font-size="8.8" fill="#f7f8fc" stroke="#f7f8fc" stroke-width="0.28" text-anchor="middle">10</text>
<text x="462.5" y="378.168" font-size="8.8" fill="#f7f8fc" stroke="#f7f8fc" stroke-width="0.28" text-anchor="middle">L/360</text>
<text x="158" y="386.918" font-size="8.8" fill="#f7f8fc" stroke="#f7f8fc" stroke-width="0.28" textLength="57" lengthAdjust="spacingAndGlyphs">FIRE ESCAPES</text>
<text x="337" y="386.918" font-size="8.8" fill="#f7f8fc" stroke="#f7f8fc" stroke-width="0.28" text-anchor="middle">40</text>
<text x="398.75" y="386.918" font-size="8.8" fill="#f7f8fc" stroke="#f7f8fc" stroke-width="0.28" text-anchor="middle">10</text>
<text x="462.5" y="386.918" font-size="8.8" fill="#f7f8fc" stroke="#f7f8fc" stroke-width="0.28" text-anchor="middle">L/360</text>
<text x="158" y="396.418" font-size="8.8" fill="#f7f8fc" stroke="#f7f8fc" stroke-width="0.28" textLength="21.5" lengthAdjust="spacingAndGlyphs">SNOW</text>
<text x="337" y="396.418" font-size="8.8" fill="#f7f8fc" stroke="#f7f8fc" stroke-width="0.28" text-anchor="middle">20</text>
<text x="398.75" y="396.418" font-size="8.8" fill="#f7f8fc" stroke="#f7f8fc" stroke-width="0.28" text-anchor="middle">..</text>
<text x="462.5" y="396.418" font-size="8.8" fill="#f7f8fc" stroke="#f7f8fc" stroke-width="0.28" text-anchor="middle">....</text>
<text x="158" y="405.668" font-size="8.8" fill="#f7f8fc" stroke="#f7f8fc" stroke-width="0.28" textLength="44" lengthAdjust="spacingAndGlyphs">WIND LOAD</text>
<text x="260" y="405.668" font-size="8.8" fill="#f7f8fc" stroke="#f7f8fc" stroke-width="0.28" textLength="210.5" lengthAdjust="spacingAndGlyphs">(BASED ON 100 MPH WIND VELOCITY &amp; EXPOSURE B)</text>
<text x="158" y="421.918" font-size="8.8" fill="#f7f8fc" stroke="#f7f8fc" stroke-width="0.28" textLength="328.111" lengthAdjust="spacingAndGlyphs">WALL BRACING:  BRACED WALL PANELS SHALL BE CONSTRUCTED ACCORDING TO</text>
<text x="154" y="421.918" font-size="8.8" fill="#f7f8fc" stroke="#f7f8fc" stroke-width="0.28" text-anchor="end">4)</text>
<text x="158" y="431.987" font-size="8.8" fill="#f7f8fc" stroke="#f7f8fc" stroke-width="0.28" textLength="74.6389" lengthAdjust="spacingAndGlyphs">SECTION R602.10.3.</text>
<text x="158" y="442.404" font-size="8.8" fill="#f7f8fc" stroke="#f7f8fc" stroke-width="0.28" textLength="318.389" lengthAdjust="spacingAndGlyphs">THE AMOUNT AND LOCATION OF BRACING SHALL COMPLY WITH TABLE R602.10.3.</text>
<text x="158" y="452.126" font-size="8.8" fill="#f7f8fc" stroke="#f7f8fc" stroke-width="0.28" textLength="321.167" lengthAdjust="spacingAndGlyphs">THE LENGTH OF BRACED PANELS SHALL BE DETERMINED BY SECTION R602.10.4.</text>
<text x="158" y="463.585" font-size="8.8" fill="#f7f8fc" stroke="#f7f8fc" stroke-width="0.28" textLength="298.597" lengthAdjust="spacingAndGlyphs">LATERAL BRACING SHALL BE SATISFIED PER METHOD 3 BY CONTINUOUSLY</text>
<text x="158" y="473.654" font-size="8.8" fill="#f7f8fc" stroke="#f7f8fc" stroke-width="0.28" textLength="269.083" lengthAdjust="spacingAndGlyphs">SHEATHING WALLS WITH STRUCTURAL SHEATHING PER TABLE R602.3.</text>
<text x="158" y="483.724" font-size="8.8" fill="#f7f8fc" stroke="#f7f8fc" stroke-width="0.28" textLength="332.625" lengthAdjust="spacingAndGlyphs">NOTE THAT ANY SPECIFIC BRACED WALL DETAIL SHALL BE INSTALLED AS SPECIFIED.</text>
<text x="158" y="496.224" font-size="8.8" fill="#f7f8fc" stroke="#f7f8fc" stroke-width="0.28" textLength="296.861" lengthAdjust="spacingAndGlyphs">CONCRETE SHALL HAVE A MINIMUM 28 DAY STRENGTH OF 3000 PSI AND A</text>
<text x="154" y="496.224" font-size="8.8" fill="#f7f8fc" stroke="#f7f8fc" stroke-width="0.28" text-anchor="end">5)</text>
<text x="158" y="505.599" font-size="8.8" fill="#f7f8fc" stroke="#f7f8fc" stroke-width="0.28" textLength="311.444" lengthAdjust="spacingAndGlyphs">MAXIMUM SLUMP OF 5 INCHES UNLESS NOTED OTHERWISE (UNO). AIR ENTRAINED</text>
<text x="158" y="514.279" font-size="8.8" fill="#f7f8fc" stroke="#f7f8fc" stroke-width="0.28" textLength="315.958" lengthAdjust="spacingAndGlyphs">PER TABLE 402.2. ALL CONCRETE SHALL BE PROPORTIONED, MIXED, HANDLED,</text>
<text x="158" y="522.96" font-size="8.8" fill="#f7f8fc" stroke="#f7f8fc" stroke-width="0.28" textLength="306.583" lengthAdjust="spacingAndGlyphs">SAMPLED, TESTED, AND PLACED IN ACCORDANCE WITH ACI STANDARDS. ALL</text>
<text x="158" y="531.987" font-size="8.8" fill="#f7f8fc" stroke="#f7f8fc" stroke-width="0.28" textLength="302.069" lengthAdjust="spacingAndGlyphs">SAMPLES FOR PUMPING SHALL BE TAKEN FROM THE EXIT END OF THE PUMP.</text>
<text x="533" y="41.418" font-size="8.8" fill="#f7f8fc" stroke="#f7f8fc" stroke-width="0.28" textLength="337" lengthAdjust="spacingAndGlyphs">ALLOWABLE SOIL BEARING PRESSURE ASSUMED TO BE 2000 PSF. THE CONTRACTOR</text>
<text x="529" y="41.418" font-size="8.8" fill="#f7f8fc" stroke="#f7f8fc" stroke-width="0.28" text-anchor="end">6)</text>
<text x="533" y="50.168" font-size="8.8" fill="#f7f8fc" stroke="#f7f8fc" stroke-width="0.28" textLength="306.5" lengthAdjust="spacingAndGlyphs">MUST CONTACT A GEOTECHNICAL ENGINEER AND THE STRUCTUAL ENGINEER IF</text>
<text x="533" y="59.168" font-size="8.8" fill="#f7f8fc" stroke="#f7f8fc" stroke-width="0.28" textLength="332.75" lengthAdjust="spacingAndGlyphs">UNSATISFACTORY SUBSURFACE CONDITIONS ARE ENCOUNTERED. THE SURFACE AREA</text>
<text x="533" y="68.168" font-size="8.8" fill="#f7f8fc" stroke="#f7f8fc" stroke-width="0.28" textLength="345.75" lengthAdjust="spacingAndGlyphs">ADJACENT TO THE FOUNDATION WALL SHALL BE PROVIDED WITH ADEQUATE DRAINAGE,</text>
<text x="533" y="76.918" font-size="8.8" fill="#f7f8fc" stroke="#f7f8fc" stroke-width="0.28" textLength="360.75" lengthAdjust="spacingAndGlyphs">AND SHALL BE GRADED SO AS TO DRAINSURFACE WATER AWAY FROM FOUNDATION WALLS.</text>
<text x="533" y="93.918" font-size="8.8" fill="#f7f8fc" stroke="#f7f8fc" stroke-width="0.28" textLength="275.75" lengthAdjust="spacingAndGlyphs">ALL FRAMING LUMBER SHALL BE SPF #2 (Fb = 875 PSI.) UNLESS NOTED</text>
<text x="529" y="93.918" font-size="8.8" fill="#f7f8fc" stroke="#f7f8fc" stroke-width="0.28" text-anchor="end">7)</text>
<text x="533" y="103.918" font-size="8.8" fill="#f7f8fc" stroke="#f7f8fc" stroke-width="0.28" textLength="289.5" lengthAdjust="spacingAndGlyphs">OTHERWISE (UNO). ALL TREATED LUMBER SHALL BE SYP # 2 (Fb=975 PSI).</text>
<text x="533" y="113.168" font-size="8.8" fill="#f7f8fc" stroke="#f7f8fc" stroke-width="0.28" textLength="284.5" lengthAdjust="spacingAndGlyphs">PLATE MATERIAL MAY BE SPF # 3 OR SYP #3 (Fc(perp) = 425 PSI - MIN).</text>
<text x="533" y="126.418" font-size="8.8" fill="#f7f8fc" stroke="#f7f8fc" stroke-width="0.28" textLength="325" lengthAdjust="spacingAndGlyphs">ALL WOODEN BEAMS AND HEADERS SHALL HAVE THE FOLLOWING END SUPPORTS:</text>
<text x="529" y="126.418" font-size="8.8" fill="#f7f8fc" stroke="#f7f8fc" stroke-width="0.28" text-anchor="end">8)</text>
<text x="533" y="135.918" font-size="8.8" fill="#f7f8fc" stroke="#f7f8fc" stroke-width="0.28" textLength="280.75" lengthAdjust="spacingAndGlyphs">(1) 2x4 STUD COLUMN FOR 6'-0" MAX. BEAM SPAN, (2) STUDS FOR BEAM</text>
<text x="533" y="145.918" font-size="8.8" fill="#f7f8fc" stroke="#f7f8fc" stroke-width="0.28" textLength="320.75" lengthAdjust="spacingAndGlyphs">SPAN GREATER THAN 6'-0" (UNO).  ALL BEARING HEADERS AND HEADERS OVER</text>
<text x="533" y="155.418" font-size="8.8" fill="#f7f8fc" stroke="#f7f8fc" stroke-width="0.28" textLength="169.5" lengthAdjust="spacingAndGlyphs">6'-0" IN LENGTH SHALL BE (2) 2x10's (UNO).</text>
<text x="533" y="168.168" font-size="8.8" fill="#f7f8fc" stroke="#f7f8fc" stroke-width="0.28" textLength="327.5" lengthAdjust="spacingAndGlyphs">L.V.L.  SHALL BE LAMINATED VENEER LUMBER: Fb=2600 PSI, Fv=285 PSI, E=1.9x10⁶ PSI.</text>
<text x="529" y="168.168" font-size="8.8" fill="#f7f8fc" stroke="#f7f8fc" stroke-width="0.28" text-anchor="end">9)</text>
<text x="533" y="177.418" font-size="8.8" fill="#f7f8fc" stroke="#f7f8fc" stroke-width="0.28" textLength="329.5" lengthAdjust="spacingAndGlyphs">P.S.L.  SHALL BE PARALLEL STRAND LUMBER: Fb=2900 PSI, Fv=290 PSI, E=2.0x10⁶ PSI.</text>
<text x="533" y="186.918" font-size="8.8" fill="#f7f8fc" stroke="#f7f8fc" stroke-width="0.28" textLength="332" lengthAdjust="spacingAndGlyphs">L.S.L.  SHALL BE LAMINATED STRAND LUMBER: Fb=2250 PSI, Fv=400 PSI, E=1.55x10⁶ PSI.</text>
<text x="533" y="196.918" font-size="8.8" fill="#f7f8fc" stroke="#f7f8fc" stroke-width="0.28" textLength="252.5" lengthAdjust="spacingAndGlyphs">INSTALL ALL CONNECTIONS PER MANUFACTURERS INSTRUCTIONS.</text>
<text x="533" y="209.168" font-size="8.8" fill="#f7f8fc" stroke="#f7f8fc" stroke-width="0.28" textLength="315.75" lengthAdjust="spacingAndGlyphs">ALL ROOF TRUSS AND I-JOIST LAYOUTS SHALL BE PREPARED IN ACCORDANCE</text>
<text x="529" y="209.168" font-size="8.8" fill="#f7f8fc" stroke="#f7f8fc" stroke-width="0.28" text-anchor="end">10)</text>
<text x="533" y="218.918" font-size="8.8" fill="#f7f8fc" stroke="#f7f8fc" stroke-width="0.28" textLength="299.5" lengthAdjust="spacingAndGlyphs">WITH THE SEALED STRUCTURAL DRAWINGS. TRUSSES AND I-JOISTS SHALL BE</text>
<text x="533" y="228.918" font-size="8.8" fill="#f7f8fc" stroke="#f7f8fc" stroke-width="0.28" textLength="320.25" lengthAdjust="spacingAndGlyphs">INSTALLED ACCORDING TO THE MANUFACTURE'S SPECIFICATIONS. ANY CHANGE IN</text>
<text x="533" y="238.668" font-size="8.8" fill="#f7f8fc" stroke="#f7f8fc" stroke-width="0.28" textLength="315.75" lengthAdjust="spacingAndGlyphs">TRUSS OR I-JOIST LAYOUT SHALL BE COORDINATED WITH ENGINEER ENGINEERS.</text>
<text x="533" y="251.668" font-size="8.8" fill="#f7f8fc" stroke="#f7f8fc" stroke-width="0.28" textLength="284.5" lengthAdjust="spacingAndGlyphs">ALL STRUCTURAL STEEL SHALL BE ASTM A-36. STEEL BEAMS SHALL BE</text>
<text x="529" y="251.668" font-size="8.8" fill="#f7f8fc" stroke="#f7f8fc" stroke-width="0.28" text-anchor="end">11)</text>
<text x="533" y="261.168" font-size="8.8" fill="#f7f8fc" stroke="#f7f8fc" stroke-width="0.28" textLength="304.5" lengthAdjust="spacingAndGlyphs">SUPPORTED AT EACH END WITH A MINIMUM BEARING LENGTH OF 3 1/2" INCHES</text>
<text x="533" y="271.168" font-size="8.8" fill="#f7f8fc" stroke="#f7f8fc" stroke-width="0.28" textLength="305.75" lengthAdjust="spacingAndGlyphs">AND FULL FLANGE WIDTH. PROVIDE SOLID BEARING FROM BEAM SUPPORT TO</text>
<text x="533" y="280.918" font-size="8.8" fill="#f7f8fc" stroke="#f7f8fc" stroke-width="0.28" textLength="304.5" lengthAdjust="spacingAndGlyphs">FOUNDATION.  BEAMS SHALL BE ATTACHED TO EACH SUPPORT WITH TWO LAG</text>
<text x="533" y="290.668" font-size="8.8" fill="#f7f8fc" stroke="#f7f8fc" stroke-width="0.28" textLength="283.25" lengthAdjust="spacingAndGlyphs">SCREWS (1/2" DIAMETER x 4" LONG). LATERAL SUPPORT IS CONSIDERED</text>
<text x="533" y="300.418" font-size="8.8" fill="#f7f8fc" stroke="#f7f8fc" stroke-width="0.28" textLength="305.75" lengthAdjust="spacingAndGlyphs">ADEQUATE PROVIDING THE JOIST ARE TOE NAILED TO THE SOLE PLATE, AND</text>
<text x="533" y="310.168" font-size="8.8" fill="#f7f8fc" stroke="#f7f8fc" stroke-width="0.28" textLength="278.25" lengthAdjust="spacingAndGlyphs">SOLE PLATE IS NAILED OR BOLTED TO THE BEAM FLANGE @ 48" O.C. .</text>
<text x="533" y="319.918" font-size="8.8" fill="#f7f8fc" stroke="#f7f8fc" stroke-width="0.28" textLength="165.75" lengthAdjust="spacingAndGlyphs">ALL STEEL TUBING SHALL BE ASTM A500.</text>
<text x="533" y="335.418" font-size="8.8" fill="#f7f8fc" stroke="#f7f8fc" stroke-width="0.28" textLength="226.5" lengthAdjust="spacingAndGlyphs">REBAR SHALL BE DEFORMED STEEL, ASTM615, GRADE 60.</text>
<text x="529" y="335.418" font-size="8.8" fill="#f7f8fc" stroke="#f7f8fc" stroke-width="0.28" text-anchor="end">12)</text>
<text x="533" y="351.168" font-size="8.8" fill="#f7f8fc" stroke="#f7f8fc" stroke-width="0.28" textLength="332" lengthAdjust="spacingAndGlyphs">FLITCH BEAMS SHALL BE BOLTED TOGETHER USING (2) ROWS OF 1/2" DIAMETER BOLTS</text>
<text x="529" y="351.168" font-size="8.8" fill="#f7f8fc" stroke="#f7f8fc" stroke-width="0.28" text-anchor="end">13)</text>
<text x="533" y="360.918" font-size="8.8" fill="#f7f8fc" stroke="#f7f8fc" stroke-width="0.28" textLength="310.75" lengthAdjust="spacingAndGlyphs">(ASTM A307) WITH WASHERS PLACED UNDER THREADED END OF BOLT.  BOLTS</text>
<text x="533" y="370.668" font-size="8.8" fill="#f7f8fc" stroke="#f7f8fc" stroke-width="0.28" textLength="310.75" lengthAdjust="spacingAndGlyphs">SHALL BE SPACED AT 24" CENTERS (MAXIMUM), AND STAGGERED TOP AND AT</text>
<text x="533" y="380.418" font-size="8.8" fill="#f7f8fc" stroke="#f7f8fc" stroke-width="0.28" textLength="301.5" lengthAdjust="spacingAndGlyphs">BOTTOM OF BEAM (2" EDGE DISTANCE), WITH 2 BOLTS LOCATED AT 6" FROM</text>
<text x="533" y="390.168" font-size="8.8" fill="#f7f8fc" stroke="#f7f8fc" stroke-width="0.28" textLength="42" lengthAdjust="spacingAndGlyphs">EACH END.</text>
<text x="533" y="398.918" font-size="8.8" fill="#f7f8fc" stroke="#f7f8fc" stroke-width="0.28" textLength="265.75" lengthAdjust="spacingAndGlyphs">BRICK LINTELS SHALL BE 3 1/2"x3 1/2"x1/4" STEEL ANGLE FOR UP TO</text>
<text x="529" y="398.918" font-size="8.8" fill="#f7f8fc" stroke="#f7f8fc" stroke-width="0.28" text-anchor="end">14)</text>
<text x="533" y="408.418" font-size="8.8" fill="#f7f8fc" stroke="#f7f8fc" stroke-width="0.28" textLength="279" lengthAdjust="spacingAndGlyphs">6'-0" SPAN AND 6"x4"x5/16" STEEL ANGLE WITH 6" LEG VERTICAL FOR</text>
<text x="533" y="418.446" font-size="8.8" fill="#f7f8fc" stroke="#f7f8fc" stroke-width="0.28" textLength="100.681" lengthAdjust="spacingAndGlyphs">SPANS UP TO 9'-0" (UNO).</text>
<text x="533" y="432.682" font-size="8.8" fill="#f7f8fc" stroke="#f7f8fc" stroke-width="0.28" textLength="328.111" lengthAdjust="spacingAndGlyphs">THE POSITIVE AND NEGATIVE DESIGN PRESSURE FOR DOORS AND WINDOWS</text>
<text x="529" y="432.682" font-size="8.8" fill="#f7f8fc" stroke="#f7f8fc" stroke-width="0.28" text-anchor="end">15)</text>
<text x="533" y="441.71" font-size="8.8" fill="#f7f8fc" stroke="#f7f8fc" stroke-width="0.28" textLength="279.5" lengthAdjust="spacingAndGlyphs">FOR A MEAN ROOF HEIGHT OF 35 FEET OR LESS SHALL BE 25 PSF.</text>
<text x="533" y="457.335" font-size="8.8" fill="#f7f8fc" stroke="#f7f8fc" stroke-width="0.28" textLength="319.431" lengthAdjust="spacingAndGlyphs">THE POSITIVE AND NEGATIVE DESIGN PRESSURES REQUIRED FOR ANY ROOF OR</text>
<text x="529" y="457.335" font-size="8.8" fill="#f7f8fc" stroke="#f7f8fc" stroke-width="0.28" text-anchor="end">16)</text>
<text x="533" y="466.71" font-size="8.8" fill="#f7f8fc" stroke="#f7f8fc" stroke-width="0.28" textLength="314.222" lengthAdjust="spacingAndGlyphs">WALL CLADDING APPLICATION NOT SPECIFICALLY ADDRESSED IN THE NORTH</text>
<text x="533" y="476.085" font-size="8.8" fill="#f7f8fc" stroke="#f7f8fc" stroke-width="0.28" textLength="314.222" lengthAdjust="spacingAndGlyphs">CAROLINA STATE RESIDENTIAL CODE - YEAR EDITION SHALL BE AS FOLLOWS:</text>
<text x="523.6" y="488.237" font-size="8.8" fill="#f7f8fc" stroke="#f7f8fc" stroke-width="0.28" textLength="23.275" lengthAdjust="spacingAndGlyphs">ROOF:</text>
<text x="533" y="497.96" font-size="8.8" fill="#f7f8fc" stroke="#f7f8fc" stroke-width="0.28" textLength="129.153" lengthAdjust="spacingAndGlyphs">45.4 PSF - 2.25:12 PITCH OR LESS</text>
<text x="533" y="507.682" font-size="8.8" fill="#f7f8fc" stroke="#f7f8fc" stroke-width="0.28" textLength="119.778" lengthAdjust="spacingAndGlyphs">34.8 PSF - 2.25:12 TO 7:12 PITCH</text>
<text x="533" y="517.751" font-size="8.8" fill="#f7f8fc" stroke="#f7f8fc" stroke-width="0.28" textLength="103.111" lengthAdjust="spacingAndGlyphs">21 PSF - 7:12 TO 12:12 PITCH</text>
<text x="523.6" y="530.599" font-size="8.8" fill="#f7f8fc" stroke="#f7f8fc" stroke-width="0.28" textLength="26.7472" lengthAdjust="spacingAndGlyphs">WALLS:</text>
<text x="533" y="541.015" font-size="8.8" fill="#f7f8fc" stroke="#f7f8fc" stroke-width="0.28" textLength="64.9167" lengthAdjust="spacingAndGlyphs">24.1 PSF - WALLS</text>
<polyline points="263.75,550.5 203.75,550.5 203.75,944.75" fill="none" stroke="#e6e9f0" stroke-width="1.15"/>
<polyline points="442.5,550.5 502,550.5 502,781.25" fill="none" stroke="#e6e9f0" stroke-width="1.15"/>
<polyline points="261.25,558 211.25,558 211.25,944.75" fill="none" stroke="#e6e9f0" stroke-width="1.15"/>
<polyline points="445,558 494.5,558 494.5,781.25 506.25,781.25" fill="none" stroke="#e6e9f0" stroke-width="1.15"/>
<polyline points="217,852.5 217,564.5 488.75,564.5 488.75,787.5" fill="none" stroke="#e6e9f0" stroke-width="1.15"/>
<line x1="488.75" y1="787" x2="506.25" y2="787" stroke="#e6e9f0" stroke-width="1.15"/>
<line x1="263.75" y1="548.75" x2="441.25" y2="548.75" stroke="#e2e43a" stroke-width="1.44"/>
<line x1="263.75" y1="557" x2="441.25" y2="557" stroke="#e2e43a" stroke-width="1.2"/>
<line x1="266.25" y1="559.5" x2="440" y2="559.5" stroke="#e2e43a" stroke-width="0.96"/>
<line x1="266.25" y1="563" x2="440" y2="563" stroke="#e2e43a" stroke-width="0.96"/>
<line x1="266.25" y1="561.25" x2="440" y2="561.25" stroke="#e6e9f0" stroke-width="1.5525" stroke-dasharray="14 3 3 3"/>
<rect x="260.75" y="558" width="6" height="6" fill="#e6e9f0" stroke="#e6e9f0" stroke-width="1.15"/>
<rect x="439.5" y="558" width="6" height="6" fill="#e6e9f0" stroke="#e6e9f0" stroke-width="1.15"/>
<rect x="312" y="558.75" width="4.5" height="5" fill="none" stroke="#e6e9f0" stroke-width="0.805"/>
<rect x="389.75" y="558.75" width="4.5" height="5" fill="none" stroke="#e6e9f0" stroke-width="0.805"/>
<line x1="263.75" y1="548.75" x2="263.75" y2="558" stroke="#e6e9f0" stroke-width="0.92"/>
<line x1="442" y1="548.75" x2="442" y2="558" stroke="#e6e9f0" stroke-width="0.92"/>
<text x="315" y="557.03" font-size="10.5" fill="#f7f8fc" stroke="#f7f8fc" stroke-width="0.28" text-anchor="middle" textLength="26" lengthAdjust="spacingAndGlyphs">DSP</text>
<text x="392" y="557.03" font-size="10.5" fill="#f7f8fc" stroke="#f7f8fc" stroke-width="0.28" text-anchor="middle" textLength="26" lengthAdjust="spacingAndGlyphs">DSP</text>
<text x="260" y="573.99" font-size="9" fill="#f7f8fc" stroke="#f7f8fc" stroke-width="0.28" text-anchor="middle">2</text>
<text x="443.75" y="573.99" font-size="9" fill="#f7f8fc" stroke="#f7f8fc" stroke-width="0.28" text-anchor="middle">2</text>
<text x="355" y="573.78" font-size="10.5" fill="#f7f8fc" stroke="#f7f8fc" stroke-width="0.28" text-anchor="middle" textLength="100" lengthAdjust="spacingAndGlyphs">(2) 2x10 w/LINTEL</text>
<text x="355.5" y="586.28" font-size="10.5" fill="#f7f8fc" stroke="#f7f8fc" stroke-width="0.28" text-anchor="middle" textLength="68" lengthAdjust="spacingAndGlyphs">6"x4"x5/16"</text>
<polygon points="280,590.5 426.25,590.5 462,626.25 462,790 426.25,826.25 280,826.25 243.75,790 243.75,626.25" fill="none" stroke="#e6e9f0" stroke-width="1.035" stroke-dasharray="11 4"/>
<line x1="230" y1="692.5" x2="476.5" y2="692.5" stroke="#e6e9f0" stroke-width="0.92"/>
<polygon points="229.5,692.5 236.5,691.4 236.5,693.6" fill="#e6e9f0" stroke="#e6e9f0" stroke-width="0.575"/>
<polygon points="477,692.5 470,693.6 470,691.4" fill="#e6e9f0" stroke="#e6e9f0" stroke-width="0.575"/>
<text x="353.75" y="690.03" font-size="10.5" fill="#f7f8fc" stroke="#f7f8fc" stroke-width="0.28" text-anchor="middle" textLength="107" lengthAdjust="spacingAndGlyphs">2x10 CJ @ 16" O.C.</text>
<text x="353.75" y="701.78" font-size="10.5" fill="#f7f8fc" stroke="#f7f8fc" stroke-width="0.28" text-anchor="middle" textLength="122" lengthAdjust="spacingAndGlyphs">@ UPPER TRAY HGT.</text>
<text x="353.75" y="712.28" font-size="10.5" fill="#f7f8fc" stroke="#f7f8fc" stroke-width="0.28" text-anchor="middle" textLength="117" lengthAdjust="spacingAndGlyphs">(BOX DOWN TRAY)</text>
<polyline points="217,852.5 426.25,852.5" fill="none" stroke="#e6e9f0" stroke-width="1.15"/>
<polyline points="217,858.75 314.5,858.75 314.5,944.75" fill="none" stroke="#e6e9f0" stroke-width="1.15"/>
<line x1="217" y1="858.75" x2="217" y2="944.75" stroke="#e6e9f0" stroke-width="1.15"/>
<polyline points="320,944.75 320,858.75 385.75,858.75 385.75,873.75" fill="none" stroke="#e6e9f0" stroke-width="1.15"/>
<polyline points="391.25,944.75 391.25,858.75 412.5,858.75 412.5,930 391.25,930" fill="none" stroke="#e6e9f0" stroke-width="1.15"/>
<polyline points="426.25,852.5 426.25,858.75 418,858.75 418,930 488.75,930" fill="none" stroke="#e6e9f0" stroke-width="1.15"/>
<line x1="385.75" y1="873.75" x2="391.25" y2="873.75" stroke="#e6e9f0" stroke-width="1.15"/>
<rect x="326.25" y="852.5" width="53.75" height="6.25" fill="none" stroke="#e2e43a" stroke-width="1.32" stroke-dasharray="6 3"/>
<line x1="326.25" y1="852.5" x2="326.25" y2="858.75" stroke="#e6e9f0" stroke-width="0.92"/>
<line x1="380" y1="852.5" x2="380" y2="858.75" stroke="#e6e9f0" stroke-width="0.92"/>
<text x="354.25" y="879.53" font-size="10.5" fill="#f7f8fc" stroke="#f7f8fc" stroke-width="0.28" text-anchor="middle">DJ</text>
<line x1="211.25" y1="882.5" x2="497.5" y2="882.5" stroke="#e6e9f0" stroke-width="1.035"/>
<line x1="211.25" y1="888" x2="497.5" y2="888" stroke="#e6e9f0" stroke-width="1.035"/>
<line x1="211.25" y1="885" x2="497.5" y2="885" stroke="#e6e9f0" stroke-width="1.242" stroke-dasharray="16 3 3 3"/>
<line x1="217" y1="872.5" x2="313.75" y2="872.5" stroke="#cfd3dd" stroke-width="1.92" stroke-dasharray="6 2.5"/>
<polyline points="313.75,876.25 235,876.25 235,944.75" fill="none" stroke="#2cd6e6" stroke-width="1.32"/>
<line x1="231.25" y1="893.75" x2="231.25" y2="944.75" stroke="#cfd3dd" stroke-width="1.92" stroke-dasharray="6 2.5"/>
<line x1="217" y1="893.75" x2="231.25" y2="893.75" stroke="#e6e9f0" stroke-width="0.92"/>
<line x1="395" y1="858.75" x2="395" y2="930" stroke="#2cd6e6" stroke-width="1.32"/>
<polygon points="480,854.5 441.25,815.75 442.664,814.336 481.414,853.086" fill="none" stroke="#e2e43a" stroke-width="1.2"/>
<path d="M441.25,815.75 A54.8008,54.8008 0 0 0 426.25,852.5" fill="none" stroke="#e2e43a" stroke-width="1.2"/>
<polyline points="480,852.5 488.75,852.5" fill="none" stroke="#e6e9f0" stroke-width="1.15"/>
<polyline points="480,852.5 480,858.75 488.75,858.75" fill="none" stroke="#e6e9f0" stroke-width="1.15"/>
<polygon points="386.25,874.5 357,902.5 355.617,901.055 384.867,873.055" fill="none" stroke="#e2e43a" stroke-width="1.2"/>
<path d="M357,902.5 A40.4915,40.4915 0 0 0 390,913.75" fill="none" stroke="#e2e43a" stroke-width="1.2"/>
<rect x="488.75" y="787.5" width="8.75" height="80" fill="url(#h)" stroke="#e6e9f0" stroke-width="0.805"/>
<rect x="488.75" y="867.5" width="8.75" height="60" fill="none" stroke="#e2e43a" stroke-width="1.2" stroke-dasharray="6 3"/>
<rect x="488.75" y="927.5" width="8.75" height="17.25" fill="url(#h)" stroke="#e6e9f0" stroke-width="0.805"/>
<rect x="488" y="931.25" width="10" height="7.5" fill="#e6e9f0" stroke="#e6e9f0" stroke-width="1.15"/>
<text x="481.25" y="926.99" font-size="9" fill="#f7f8fc" stroke="#f7f8fc" stroke-width="0.28" text-anchor="middle">3</text>
<rect x="510.5" y="572.5" width="35.75" height="36.25" fill="none" stroke="#e6e9f0" stroke-width="1.035"/>
<rect x="521.25" y="583.75" width="15" height="14.25" fill="none" stroke="#e6e9f0" stroke-width="1.035"/>
<line x1="525" y1="587" x2="530" y2="587" stroke="#e6e9f0" stroke-width="0.92"/>
<line x1="525" y1="590" x2="530" y2="590" stroke="#e6e9f0" stroke-width="0.92"/>
<line x1="494.5" y1="583.25" x2="510.5" y2="583.25" stroke="#e6e9f0" stroke-width="0.805"/>
<line x1="494.5" y1="585.5" x2="510.5" y2="585.5" stroke="#e6e9f0" stroke-width="0.805"/>
<line x1="494.5" y1="588.25" x2="510.5" y2="588.25" stroke="#e6e9f0" stroke-width="0.805"/>
<line x1="494.5" y1="590.75" x2="510.5" y2="590.75" stroke="#e6e9f0" stroke-width="0.805"/>
<text x="647.5" y="580.03" font-size="10.5" fill="#f7f8fc" stroke="#f7f8fc" stroke-width="0.28" text-anchor="middle" textLength="46" lengthAdjust="spacingAndGlyphs">(3) 2x10</text>
<line x1="570.5" y1="610.5" x2="570.5" y2="742" stroke="#e6e9f0" stroke-width="0.92"/>
<polygon points="570.5,610 571.6,617 569.4,617" fill="#e6e9f0" stroke="#e6e9f0" stroke-width="0.575"/>
<polygon points="570.5,742.5 569.4,735.5 571.6,735.5" fill="#e6e9f0" stroke="#e6e9f0" stroke-width="0.575"/>
<text x="0" y="3.78" font-size="10.5" fill="#f7f8fc" stroke="#f7f8fc" stroke-width="0.28" text-anchor="middle" transform="translate(563.5 676.25) rotate(-90)" textLength="40" lengthAdjust="spacingAndGlyphs">2x6 CJ</text>
<text x="0" y="3.78" font-size="10.5" fill="#f7f8fc" stroke="#f7f8fc" stroke-width="0.28" text-anchor="middle" transform="translate(576.75 676.25) rotate(-90)" textLength="56" lengthAdjust="spacingAndGlyphs">@ 16" O.C.</text>
<rect x="603.75" y="627.5" width="37" height="75" fill="none" stroke="#e2e43a" stroke-width="1.44" stroke-dasharray="7 3"/>
<rect x="699.5" y="627.5" width="36.75" height="75" fill="none" stroke="#e2e43a" stroke-width="1.44" stroke-dasharray="7 3"/>
<polyline points="506.25,772 506.25,763.75 560,763.75 560,772" fill="none" stroke="#e2e43a" stroke-width="1.32" stroke-dasharray="6 3"/>
<line x1="502.5" y1="772" x2="563.75" y2="772" stroke="#e2e43a" stroke-width="1.32"/>
<polygon points="506.25,785 544.5,825 543.055,826.382 504.805,786.382" fill="none" stroke="#e2e43a" stroke-width="1.2"/>
<path d="M544.5,825 A55.3449,55.3449 0 0 0 560,782.5" fill="none" stroke="#e2e43a" stroke-width="1.2"/>
<line x1="506.25" y1="772" x2="506.25" y2="787" stroke="#e6e9f0" stroke-width="0.92"/>
<line x1="560" y1="772" x2="560" y2="787" stroke="#e2e43a" stroke-width="1.08"/>
<rect x="563.75" y="773.75" width="17.5" height="7.5" fill="none" stroke="#e6e9f0" stroke-width="0.92"/>
<line x1="560" y1="781.25" x2="742.75" y2="781.25" stroke="#e6e9f0" stroke-width="0.92"/>
<line x1="560" y1="787" x2="742.75" y2="787" stroke="#e6e9f0" stroke-width="0.92"/>
<line x1="581.25" y1="772" x2="742.75" y2="772" stroke="#e2e43a" stroke-width="1.32"/>
<line x1="582.5" y1="784" x2="742.75" y2="784" stroke="#e6e9f0" stroke-width="1.242" stroke-dasharray="14 3 3 3"/>
<rect x="577.5" y="781.25" width="6.25" height="6.25" fill="#e6e9f0" stroke="#e6e9f0" stroke-width="1.15"/>
<rect x="620" y="781.75" width="5" height="5" fill="none" stroke="#e6e9f0" stroke-width="0.805"/>
<rect x="715" y="781.75" width="5" height="5" fill="none" stroke="#e6e9f0" stroke-width="0.805"/>
<text x="672.5" y="768.28" font-size="10.5" fill="#f7f8fc" stroke="#f7f8fc" stroke-width="0.28" text-anchor="middle" textLength="100" lengthAdjust="spacingAndGlyphs">(2) 2x10 w/LINTEL</text>
<text x="673" y="781.28" font-size="10.5" fill="#f7f8fc" stroke="#f7f8fc" stroke-width="0.28" text-anchor="middle" textLength="68" lengthAdjust="spacingAndGlyphs">6"x4"x5/16"</text>
<text x="580" y="797.74" font-size="9" fill="#f7f8fc" stroke="#f7f8fc" stroke-width="0.28" text-anchor="middle">2</text>
<text x="623" y="797.03" font-size="10.5" fill="#f7f8fc" stroke="#f7f8fc" stroke-width="0.28" text-anchor="middle" textLength="26" lengthAdjust="spacingAndGlyphs">DSP</text>
<text x="719.25" y="797.03" font-size="10.5" fill="#f7f8fc" stroke="#f7f8fc" stroke-width="0.28" text-anchor="middle" textLength="26" lengthAdjust="spacingAndGlyphs">DSP</text>
<line x1="599.25" y1="804.25" x2="599.25" y2="895.75" stroke="#e6e9f0" stroke-width="0.92"/>
<polygon points="599.25,803.75 600.35,810.75 598.15,810.75" fill="#e6e9f0" stroke="#e6e9f0" stroke-width="0.575"/>
<polygon points="599.25,896.25 598.15,889.25 600.35,889.25" fill="#e6e9f0" stroke="#e6e9f0" stroke-width="0.575"/>
<text x="0" y="3.78" font-size="10.5" fill="#f7f8fc" stroke="#f7f8fc" stroke-width="0.28" text-anchor="middle" transform="translate(592.5 850) rotate(-90)" textLength="45" lengthAdjust="spacingAndGlyphs">2x10 CJ</text>
<text x="0" y="3.78" font-size="10.5" fill="#f7f8fc" stroke="#f7f8fc" stroke-width="0.28" text-anchor="middle" transform="translate(605.5 850) rotate(-90)" textLength="56" lengthAdjust="spacingAndGlyphs">@ 16" O.C.</text>
<text x="623.75" y="831.78" font-size="10.5" fill="#f7f8fc" stroke="#f7f8fc" stroke-width="0.28" textLength="133.25" lengthAdjust="spacingAndGlyphs">DETAIL Ⓑ FOR FLITCH</text>
<text x="623.75" y="844.53" font-size="10.5" fill="#f7f8fc" stroke="#f7f8fc" stroke-width="0.28" textLength="165.25" lengthAdjust="spacingAndGlyphs">BEAM: SIMPSON HWU 3.56/14</text>
<text x="623.75" y="857.03" font-size="10.5" fill="#f7f8fc" stroke="#f7f8fc" stroke-width="0.28" textLength="52" lengthAdjust="spacingAndGlyphs">FOR LVL</text>
<circle cx="702.5" cy="877.5" r="18" fill="none" stroke="#e6e9f0" stroke-width="1.15"/>
<polyline points="684.5,877.5 733.75,877.5 733.75,944.75" fill="none" stroke="#e6e9f0" stroke-width="0.92"/>
<text x="702.5" y="874.28" font-size="10.5" fill="#f7f8fc" stroke="#f7f8fc" stroke-width="0.28" text-anchor="middle">A</text>
<text x="702.5" y="888.28" font-size="10.5" fill="#f7f8fc" stroke="#f7f8fc" stroke-width="0.28" text-anchor="middle">S-3</text>
<text x="571.75" y="915.78" font-size="10.5" fill="#f7f8fc" stroke="#f7f8fc" stroke-width="0.28" textLength="160.75" lengthAdjust="spacingAndGlyphs">FLUSH ¾"x9" FLITCH BEAM</text>
<text x="652" y="928.28" font-size="10.5" fill="#f7f8fc" stroke="#f7f8fc" stroke-width="0.28" text-anchor="middle" textLength="107" lengthAdjust="spacingAndGlyphs">OR (2) 1.75x14 LVL</text>
<path d="M570.0,912.5 C547.5,912.5 540.0,920.0 523.75,928.25" fill="none" stroke="#e6e9f0" stroke-width="0.92"/>
<polygon points="522,929.25 526.781,925.462 527.814,927.404" fill="#e6e9f0" stroke="#e6e9f0" stroke-width="0.575"/>
<line x1="392" y1="932.5" x2="488.75" y2="932.5" stroke="#e6e9f0" stroke-width="1.15"/>
<line x1="392" y1="938" x2="488.75" y2="938" stroke="#e6e9f0" stroke-width="1.15"/>
<line x1="497.5" y1="931.75" x2="742.75" y2="931.75" stroke="#e6e9f0" stroke-width="1.035"/>
<line x1="497.5" y1="938" x2="742.75" y2="938" stroke="#e6e9f0" stroke-width="1.035"/>
<line x1="497.5" y1="934.75" x2="742.75" y2="934.75" stroke="#e6e9f0" stroke-width="1.242" stroke-dasharray="16 3 3 3"/>
<rect x="793.25" y="490.5" width="36.25" height="35.75" fill="none" stroke="#e6e9f0" stroke-width="1.035"/>
<rect x="803.75" y="502" width="15.75" height="14.25" fill="none" stroke="#e6e9f0" stroke-width="1.035"/>
<rect x="793.25" y="572.5" width="36.25" height="35.5" fill="none" stroke="#e6e9f0" stroke-width="1.035"/>
<polyline points="805.5,583.75 819.5,583.75 819.5,598 805.5,598" fill="none" stroke="#e6e9f0" stroke-width="1.035"/>
<line x1="803.75" y1="526.25" x2="803.75" y2="572.5" stroke="#e2e43a" stroke-width="1.32"/>
<line x1="810" y1="526.25" x2="810" y2="572.5" stroke="#e2e43a" stroke-width="1.32"/>
<line x1="829.5" y1="501.25" x2="995" y2="501.25" stroke="#e2e43a" stroke-width="1.32"/>
<line x1="995" y1="501.25" x2="1020" y2="501.25" stroke="#e6e9f0" stroke-width="1.035"/>
<line x1="1020" y1="501.25" x2="1065" y2="501.25" stroke="#e2e43a" stroke-width="1.32"/>
<line x1="1073.75" y1="501.25" x2="1181.25" y2="501.25" stroke="#e2e43a" stroke-width="1.32"/>
<line x1="1190" y1="501.25" x2="1235" y2="501.25" stroke="#e2e43a" stroke-width="1.32"/>
<line x1="1235" y1="501.25" x2="1253.75" y2="501.25" stroke="#e6e9f0" stroke-width="1.035"/>
<line x1="829.5" y1="507.5" x2="995" y2="507.5" stroke="#e2e43a" stroke-width="1.32"/>
<line x1="995" y1="507.5" x2="1020" y2="507.5" stroke="#e6e9f0" stroke-width="1.035"/>
<line x1="1020" y1="507.5" x2="1065" y2="507.5" stroke="#e2e43a" stroke-width="1.32"/>
<line x1="1073.75" y1="507.5" x2="1181.25" y2="507.5" stroke="#e2e43a" stroke-width="1.32"/>
<line x1="1190" y1="507.5" x2="1235" y2="507.5" stroke="#e2e43a" stroke-width="1.32"/>
<line x1="1235" y1="507.5" x2="1253.75" y2="507.5" stroke="#e6e9f0" stroke-width="1.035"/>
<rect x="1065" y="501.25" width="8.75" height="6.25" fill="none" stroke="#e6e9f0" stroke-width="0.92"/>
<rect x="1181.25" y="501.25" width="8.75" height="6.25" fill="none" stroke="#e6e9f0" stroke-width="0.92"/>
<line x1="1020" y1="501.25" x2="1020" y2="507.5" stroke="#e6e9f0" stroke-width="0.92"/>
<line x1="1235" y1="501.25" x2="1235" y2="507.5" stroke="#e6e9f0" stroke-width="0.92"/>
<line x1="546" y1="583" x2="793.25" y2="583" stroke="#e2e43a" stroke-width="1.32"/>
<line x1="546" y1="592.5" x2="793.25" y2="592.5" stroke="#e2e43a" stroke-width="1.2"/>
<line x1="546" y1="586.25" x2="995" y2="586.25" stroke="#e6e9f0" stroke-width="1.39725" stroke-dasharray="16 3 3 3"/>
<line x1="546" y1="589.5" x2="793.25" y2="589.5" stroke="#e6e9f0" stroke-width="0.92"/>
<line x1="829.5" y1="583" x2="995" y2="583" stroke="#e6e9f0" stroke-width="1.035"/>
<line x1="829.5" y1="589.5" x2="995" y2="589.5" stroke="#e6e9f0" stroke-width="1.035"/>
<line x1="804.5" y1="608" x2="804.5" y2="710" stroke="#e6e9f0" stroke-width="1.035"/>
<line x1="810.5" y1="608" x2="810.5" y2="710" stroke="#e6e9f0" stroke-width="1.035"/>
<line x1="807.5" y1="583.75" x2="807.5" y2="716.25" stroke="#e6e9f0" stroke-width="1.242" stroke-dasharray="16 3 3 3"/>
<text x="0" y="3.78" font-size="10.5" fill="#f7f8fc" stroke="#f7f8fc" stroke-width="0.28" text-anchor="middle" transform="translate(797.5 648.75) rotate(-90)">DJ</text>
<text x="857.5" y="548.78" font-size="10.5" fill="#f7f8fc" stroke="#f7f8fc" stroke-width="0.28" text-anchor="middle" textLength="22" lengthAdjust="spacingAndGlyphs">MIN.</text>
<text x="857" y="560.53" font-size="10.5" fill="#f7f8fc" stroke="#f7f8fc" stroke-width="0.28" text-anchor="middle" textLength="22" lengthAdjust="spacingAndGlyphs">6x6</text>
<text x="856.25" y="572.03" font-size="10.5" fill="#f7f8fc" stroke="#f7f8fc" stroke-width="0.28" text-anchor="middle" textLength="30" lengthAdjust="spacingAndGlyphs">POST</text>
<path d="M845.0,546.25 C830.0,546.25 827.5,562.5 820.0,575.5" fill="none" stroke="#e6e9f0" stroke-width="0.92"/>
<polygon points="819,577.5 820.846,571.686 822.788,572.719" fill="#e6e9f0" stroke="#e6e9f0" stroke-width="0.575"/>
<text x="908.75" y="580.53" font-size="10.5" fill="#f7f8fc" stroke="#f7f8fc" stroke-width="0.28" text-anchor="middle" textLength="46" lengthAdjust="spacingAndGlyphs">(2) 2x10</text>
<line x1="995" y1="501.25" x2="995" y2="528" stroke="#e6e9f0" stroke-width="1.035"/>
<line x1="995" y1="528" x2="995" y2="573.75" stroke="#e2e43a" stroke-width="1.32"/>
<line x1="995" y1="573.75" x2="995" y2="582.5" stroke="#e6e9f0" stroke-width="1.035"/>
<line x1="995" y1="582.5" x2="995" y2="627.5" stroke="#e2e43a" stroke-width="1.32"/>
<line x1="995" y1="627.5" x2="995" y2="635" stroke="#e6e9f0" stroke-width="1.035"/>
<line x1="995" y1="690" x2="995" y2="710" stroke="#e6e9f0" stroke-width="1.035"/>
<line x1="1000.75" y1="507.5" x2="1000.75" y2="528" stroke="#e6e9f0" stroke-width="1.035"/>
<line x1="1000.75" y1="528" x2="1000.75" y2="573.75" stroke="#e2e43a" stroke-width="1.32"/>
<line x1="1000.75" y1="573.75" x2="1000.75" y2="582.5" stroke="#e6e9f0" stroke-width="1.035"/>
<line x1="1000.75" y1="582.5" x2="1000.75" y2="627.5" stroke="#e2e43a" stroke-width="1.32"/>
<line x1="1000.75" y1="627.5" x2="1000.75" y2="635" stroke="#e6e9f0" stroke-width="1.035"/>
<line x1="1000.75" y1="690" x2="1000.75" y2="710" stroke="#e6e9f0" stroke-width="1.035"/>
<line x1="995" y1="528" x2="1000.75" y2="528" stroke="#e6e9f0" stroke-width="0.92"/>
<line x1="995" y1="573.75" x2="1000.75" y2="573.75" stroke="#e6e9f0" stroke-width="0.92"/>
<line x1="995" y1="582.5" x2="1000.75" y2="582.5" stroke="#e6e9f0" stroke-width="0.92"/>
<line x1="995" y1="627.5" x2="1000.75" y2="627.5" stroke="#e6e9f0" stroke-width="0.92"/>
<line x1="995" y1="635" x2="1000.75" y2="635" stroke="#e6e9f0" stroke-width="0.92"/>
<line x1="995" y1="690" x2="1000.75" y2="690" stroke="#e6e9f0" stroke-width="0.92"/>
<polygon points="996.25,635 1038.75,673 1037.42,674.491 994.917,636.491" fill="none" stroke="#e2e43a" stroke-width="1.2"/>
<path d="M1038.75,673 A57.011,57.011 0 0 1 995,690" fill="none" stroke="#e2e43a" stroke-width="1.2"/>
<line x1="994.5" y1="635" x2="994.5" y2="690" stroke="#e2e43a" stroke-width="1.2"/>
<line x1="900" y1="605.5" x2="900" y2="691.5" stroke="#e6e9f0" stroke-width="0.92"/>
<polygon points="900,605 901.1,612 898.9,612" fill="#e6e9f0" stroke="#e6e9f0" stroke-width="0.575"/>
<polygon points="900,692 898.9,685 901.1,685" fill="#e6e9f0" stroke="#e6e9f0" stroke-width="0.575"/>
<text x="0" y="3.78" font-size="10.5" fill="#f7f8fc" stroke="#f7f8fc" stroke-width="0.28" text-anchor="middle" transform="translate(893 648) rotate(-90)" textLength="80" lengthAdjust="spacingAndGlyphs">2x6 CJ TRT'D</text>
<text x="0" y="3.78" font-size="10.5" fill="#f7f8fc" stroke="#f7f8fc" stroke-width="0.28" text-anchor="middle" transform="translate(906.75 648) rotate(-90)" textLength="56" lengthAdjust="spacingAndGlyphs">@ 16" O.C.</text>
<text x="1068" y="520.03" font-size="10.5" fill="#f7f8fc" stroke="#f7f8fc" stroke-width="0.28" text-anchor="middle" textLength="26" lengthAdjust="spacingAndGlyphs">DSP</text>
<text x="1184.5" y="519.53" font-size="10.5" fill="#f7f8fc" stroke="#f7f8fc" stroke-width="0.28" text-anchor="middle" textLength="26" lengthAdjust="spacingAndGlyphs">DSP</text>
<line x1="1044.5" y1="540" x2="1044.5" y2="692.5" stroke="#e6e9f0" stroke-width="0.92"/>
<polygon points="1044.5,539.5 1045.6,546.5 1043.4,546.5" fill="#e6e9f0" stroke="#e6e9f0" stroke-width="0.575"/>
<polygon points="1044.5,693 1043.4,686 1045.6,686" fill="#e6e9f0" stroke="#e6e9f0" stroke-width="0.575"/>
<text x="0" y="3.78" font-size="10.5" fill="#f7f8fc" stroke="#f7f8fc" stroke-width="0.28" text-anchor="middle" transform="translate(1037.5 616.25) rotate(-90)" textLength="40" lengthAdjust="spacingAndGlyphs">2x6 CJ</text>
<text x="0" y="3.78" font-size="10.5" fill="#f7f8fc" stroke="#f7f8fc" stroke-width="0.28" text-anchor="middle" transform="translate(1051.25 616.25) rotate(-90)" textLength="56" lengthAdjust="spacingAndGlyphs">@ 16" O.C.</text>
<rect x="1060.5" y="574.5" width="35.75" height="68" fill="none" stroke="#e2e43a" stroke-width="1.44" stroke-dasharray="7 3"/>
<rect x="1158" y="574.5" width="36.5" height="68" fill="none" stroke="#e2e43a" stroke-width="1.44" stroke-dasharray="7 3"/>
<rect x="1253.75" y="470" width="6.25" height="127.5" fill="url(#h)" stroke="#e6e9f0" stroke-width="0.805"/>
<rect x="1253.75" y="597.5" width="6.25" height="88.75" fill="none" stroke="#e2e43a" stroke-width="1.32"/>
<line x1="1256.75" y1="597.5" x2="1256.75" y2="686.25" stroke="#e2e43a" stroke-width="1.08"/>
<rect x="1253.75" y="686.25" width="6.25" height="34.5" fill="url(#h)" stroke="#e6e9f0" stroke-width="0.805"/>
<rect x="1253.75" y="776" width="6.25" height="76" fill="url(#h)" stroke="#e6e9f0" stroke-width="0.805"/>
<line x1="1253.75" y1="858" x2="1253.75" y2="884.75" stroke="#2cd6e6" stroke-width="1.32"/>
<line x1="1260" y1="858" x2="1260" y2="884.75" stroke="#2cd6e6" stroke-width="1.32"/>
<line x1="1256.75" y1="858" x2="1256.75" y2="884.75" stroke="#2cd6e6" stroke-width="0.96" stroke-dasharray="6 3"/>
<polyline points="797.5,773.75 797.5,702.5 877.5,702.5" fill="none" stroke="#e6e9f0" stroke-width="1.035"/>
<polyline points="804.5,773.75 804.5,710 877.5,710" fill="none" stroke="#e6e9f0" stroke-width="1.035"/>
<line x1="927.5" y1="702.5" x2="995" y2="702.5" stroke="#e6e9f0" stroke-width="1.035"/>
<line x1="927.5" y1="710" x2="1000.75" y2="710" stroke="#e6e9f0" stroke-width="1.035"/>
<polyline points="877.5,710 877.5,700.5 927.5,700.5 927.5,710" fill="none" stroke="#e2e43a" stroke-width="1.32"/>
<line x1="877.5" y1="702.5" x2="927.5" y2="702.5" stroke="#e6e9f0" stroke-width="0.92"/>
<line x1="880" y1="708.25" x2="925" y2="708.25" stroke="#e2e43a" stroke-width="0.96"/>
<line x1="880" y1="710.75" x2="925" y2="710.75" stroke="#e2e43a" stroke-width="0.96"/>
<line x1="880" y1="713.25" x2="925" y2="713.25" stroke="#e2e43a" stroke-width="0.96"/>
<line x1="880" y1="715.75" x2="925" y2="715.75" stroke="#e2e43a" stroke-width="0.96"/>
<line x1="804.5" y1="716.25" x2="1008.75" y2="716.25" stroke="#e6e9f0" stroke-width="1.035"/>
<line x1="1000.75" y1="710" x2="1008.75" y2="710" stroke="#e6e9f0" stroke-width="1.035"/>
<rect x="1008.75" y="710" width="70" height="6.25" fill="none" stroke="#e2e43a" stroke-width="1.44" stroke-dasharray="7 3"/>
<rect x="1078.75" y="710" width="175" height="6.25" fill="url(#h)" stroke="#e6e9f0" stroke-width="0.805"/>
<polyline points="811.25,805 811.25,716.25 872.5,716.25" fill="none" stroke="#e2e43a" stroke-width="1.2"/>
<polyline points="814.75,805 814.75,719.75 872.5,719.75" fill="none" stroke="#e2e43a" stroke-width="1.2"/>
<polyline points="818.25,805 818.25,723.25 872.5,723.25" fill="none" stroke="#e2e43a" stroke-width="1.2"/>
<polyline points="821.75,805 821.75,726.75 872.5,726.75" fill="none" stroke="#e2e43a" stroke-width="1.2"/>
<polyline points="825.25,805 825.25,730.25 872.5,730.25" fill="none" stroke="#e2e43a" stroke-width="1.2"/>
<polyline points="828.75,805 828.75,733.75 872.5,733.75" fill="none" stroke="#e2e43a" stroke-width="1.2"/>
<line x1="811.25" y1="805" x2="828.75" y2="805" stroke="#e2e43a" stroke-width="1.2"/>
<line x1="872.5" y1="716.25" x2="872.5" y2="733.75" stroke="#e2e43a" stroke-width="1.2"/>
<rect x="878.25" y="717.5" width="48" height="34.5" fill="none" stroke="#2cd6e6" stroke-width="1.92"/>
<rect x="881.25" y="722.5" width="20" height="26.25" fill="none" stroke="#2cd6e6" stroke-width="1.2"/>
<rect x="903.75" y="722.5" width="20" height="26.25" fill="none" stroke="#2cd6e6" stroke-width="1.2"/>
<circle cx="891.25" cy="736.75" r="1.6" fill="none" stroke="#2cd6e6" stroke-width="1.2"/>
<circle cx="913.75" cy="736.75" r="1.6" fill="none" stroke="#2cd6e6" stroke-width="1.2"/>
<line x1="935" y1="716.25" x2="990" y2="716.25" stroke="#e2e43a" stroke-width="1.2"/>
<line x1="935" y1="720.25" x2="990" y2="720.25" stroke="#e2e43a" stroke-width="1.2"/>
<line x1="935" y1="724.25" x2="990" y2="724.25" stroke="#e2e43a" stroke-width="1.2"/>
<line x1="935" y1="728.25" x2="990" y2="728.25" stroke="#e2e43a" stroke-width="1.2"/>
<line x1="935" y1="732.25" x2="990" y2="732.25" stroke="#e2e43a" stroke-width="1.2"/>
<line x1="935" y1="716.25" x2="935" y2="732.5" stroke="#e2e43a" stroke-width="1.2"/>
<polyline points="928.75,716.25 928.75,750 963.75,750 963.75,716.25" fill="none" stroke="#e2e43a" stroke-width="1.32" stroke-dasharray="6 3"/>
<polyline points="990,716.25 990,752 845,752 845,884.75" fill="none" stroke="#e2e43a" stroke-width="1.32"/>
<rect x="902" y="819.5" width="90" height="54.25" fill="none" stroke="#e2e43a" stroke-width="1.32"/>
<rect x="918" y="820" width="58.25" height="35.75" fill="none" stroke="#e2e43a" stroke-width="1.32"/>
<circle cx="930" cy="828.75" r="5.6" fill="none" stroke="#e2e43a" stroke-width="1.32"/>
<circle cx="963.75" cy="828.75" r="5.6" fill="none" stroke="#e2e43a" stroke-width="1.32"/>
<circle cx="930" cy="846.25" r="5.6" fill="none" stroke="#e2e43a" stroke-width="1.32"/>
<circle cx="947" cy="844.25" r="5.6" fill="none" stroke="#e2e43a" stroke-width="1.32"/>
<circle cx="963.75" cy="846.25" r="5.6" fill="none" stroke="#e2e43a" stroke-width="1.32"/>
<rect x="942" y="826.25" width="10" height="5.75" fill="#e2e43a" stroke="#e2e43a" stroke-width="1.2"/>
<line x1="1020" y1="745.5" x2="1020" y2="884.75" stroke="#e6e9f0" stroke-width="0.92"/>
<polygon points="1020,745 1021.1,752 1018.9,752" fill="#e6e9f0" stroke="#e6e9f0" stroke-width="0.575"/>
<text x="0" y="3.78" font-size="10.5" fill="#f7f8fc" stroke="#f7f8fc" stroke-width="0.28" text-anchor="middle" transform="translate(1013 875) rotate(-90)" textLength="109" lengthAdjust="spacingAndGlyphs">2x10 CJ @ 12" O.C.</text>
<polygon points="1088.75,721.25 1058.75,751.25 1057.34,749.836 1087.34,719.836" fill="none" stroke="#e2e43a" stroke-width="1.2"/>
<path d="M1058.75,751.25 A42.4264,42.4264 0 0 0 1087.5,763.75" fill="none" stroke="#e2e43a" stroke-width="1.2"/>
<rect x="1087.5" y="716.25" width="5.5" height="5" fill="none" stroke="#e6e9f0" stroke-width="0.92"/>
<polyline points="1087.5,884.75 1087.5,763.75 1093,763.75 1093,787.5 1182,787.5" fill="none" stroke="#e6e9f0" stroke-width="1.035"/>
<polyline points="1093,884.75 1093,793.75 1182,793.75" fill="none" stroke="#e6e9f0" stroke-width="1.035"/>
<rect x="1101.25" y="799.5" width="72.5" height="44.25" fill="none" stroke="#e6e9f0" stroke-width="1.15" stroke-dasharray="8 4"/>
<polyline points="1093,768.75 1165,768.75 1165,716.25" fill="none" stroke="#2cd6e6" stroke-width="1.32"/>
<polyline points="1168.75,716.25 1168.75,781.25 1182,781.25" fill="none" stroke="#2cd6e6" stroke-width="1.32" stroke-dasharray="7 3"/>
<polyline points="1093,816.25 1158.75,816.25 1158.75,884.75" fill="none" stroke="#2cd6e6" stroke-width="1.32"/>
<rect x="1049.5" y="770" width="36.75" height="45" fill="none" stroke="#e2e43a" stroke-width="1.2"/>
<line x1="1052.33" y1="770" x2="1052.33" y2="815" stroke="#e2e43a" stroke-width="0.96"/>
<line x1="1055.15" y1="770" x2="1055.15" y2="815" stroke="#e2e43a" stroke-width="0.96"/>
<line x1="1057.97" y1="770" x2="1057.97" y2="815" stroke="#e2e43a" stroke-width="0.96"/>
<line x1="1060.8" y1="770" x2="1060.8" y2="815" stroke="#e2e43a" stroke-width="0.96"/>
<line x1="1063.62" y1="770" x2="1063.62" y2="815" stroke="#e2e43a" stroke-width="0.96"/>
<line x1="1066.45" y1="770" x2="1066.45" y2="815" stroke="#e2e43a" stroke-width="0.96"/>
<line x1="1069.28" y1="770" x2="1069.28" y2="815" stroke="#e2e43a" stroke-width="0.96"/>
<line x1="1072.1" y1="770" x2="1072.1" y2="815" stroke="#e2e43a" stroke-width="0.96"/>
<line x1="1074.92" y1="770" x2="1074.92" y2="815" stroke="#e2e43a" stroke-width="0.96"/>
<line x1="1077.75" y1="770" x2="1077.75" y2="815" stroke="#e2e43a" stroke-width="0.96"/>
<line x1="1080.58" y1="770" x2="1080.58" y2="815" stroke="#e2e43a" stroke-width="0.96"/>
<line x1="1083.4" y1="770" x2="1083.4" y2="815" stroke="#e2e43a" stroke-width="0.96"/>
<polyline points="1049.5,815 1049.5,880 1043.75,880 1043.75,884.75" fill="none" stroke="#e2e43a" stroke-width="1.32"/>
<line x1="1069.28" y1="815" x2="1069.28" y2="884.75" stroke="#e2e43a" stroke-width="0.96"/>
<line x1="1072.1" y1="815" x2="1072.1" y2="884.75" stroke="#e2e43a" stroke-width="0.96"/>
<line x1="1074.92" y1="815" x2="1074.92" y2="884.75" stroke="#e2e43a" stroke-width="0.96"/>
<line x1="1077.75" y1="815" x2="1077.75" y2="884.75" stroke="#e2e43a" stroke-width="0.96"/>
<line x1="1080.58" y1="815" x2="1080.58" y2="884.75" stroke="#e2e43a" stroke-width="0.96"/>
<line x1="1083.4" y1="815" x2="1083.4" y2="884.75" stroke="#e2e43a" stroke-width="0.96"/>
<polyline points="1067.5,815 1067.5,884.75" fill="none" stroke="#e2e43a" stroke-width="1.32"/>
<line x1="1086.25" y1="815" x2="1086.25" y2="884.75" stroke="#e2e43a" stroke-width="1.32"/>
<rect x="1182" y="716.25" width="6.75" height="168.5" fill="url(#h)" stroke="#e6e9f0" stroke-width="0.805"/>
<line x1="1188.75" y1="781.25" x2="1253.75" y2="781.25" stroke="#2cd6e6" stroke-width="1.32"/>
<line x1="1188.75" y1="795" x2="1253.75" y2="795" stroke="#2cd6e6" stroke-width="1.32"/>
<line x1="1188.75" y1="809.5" x2="1253.75" y2="809.5" stroke="#2cd6e6" stroke-width="1.32"/>
<line x1="1188.75" y1="823.75" x2="1253.75" y2="823.75" stroke="#2cd6e6" stroke-width="1.32"/>
<line x1="1188.75" y1="838" x2="1253.75" y2="838" stroke="#2cd6e6" stroke-width="1.32"/>
<line x1="1188.75" y1="852.5" x2="1253.75" y2="852.5" stroke="#2cd6e6" stroke-width="1.32"/>
<line x1="1188.75" y1="867" x2="1253.75" y2="867" stroke="#2cd6e6" stroke-width="1.32"/>
<line x1="1188.75" y1="881.25" x2="1253.75" y2="881.25" stroke="#2cd6e6" stroke-width="1.32"/>
<polyline points="1188.75,845 1218.75,839.5 1217.5,825 1223.75,845 1222,838.75 1253.75,833" fill="none" stroke="#2cd6e6" stroke-width="1.2"/>
<polyline points="1188.75,873 1218.75,867.5 1217.5,853 1223.75,873 1222,866.75 1253.75,861" fill="none" stroke="#2cd6e6" stroke-width="1.2"/>
<polygon points="1258.25,721.5 1298.25,759.25 1296.88,760.705 1256.88,722.955" fill="none" stroke="#e2e43a" stroke-width="1.2"/>
<path d="M1298.25,759.25 A55.0006,55.0006 0 0 1 1252.75,776" fill="none" stroke="#e2e43a" stroke-width="1.2"/>
<line x1="1252.75" y1="720.75" x2="1252.75" y2="776" stroke="#e2e43a" stroke-width="1.32"/>
<line x1="1265" y1="752" x2="1325" y2="752" stroke="#e6e9f0" stroke-width="0.92"/>
<polygon points="1263.75,752 1270.75,750.9 1270.75,753.1" fill="#e6e9f0" stroke="#e6e9f0" stroke-width="0.575"/>
<line x1="1270" y1="557.5" x2="1292.75" y2="533.75" stroke="#e2e43a" stroke-width="1.32"/>
<line x1="1267" y1="556.25" x2="1290" y2="532.5" stroke="#e2e43a" stroke-width="1.32"/>
<rect x="1260" y="557.5" width="8.75" height="6.25" fill="none" stroke="#e6e9f0" stroke-width="0.92"/>
<line x1="1247.5" y1="470" x2="1247.5" y2="501.25" stroke="#e6e9f0" stroke-width="1.035"/>
<rect x="1255" y="852" width="5.5" height="6" fill="#e6e9f0" stroke="#e6e9f0" stroke-width="1.15"/>
<text x="1265.75" y="858.24" font-size="9" fill="#f7f8fc" stroke="#f7f8fc" stroke-width="0.28" text-anchor="middle">2</text>
<rect x="757.5" y="781.25" width="5" height="5" fill="#e6e9f0" stroke="#e6e9f0" stroke-width="1.15"/>
<text x="760" y="796.49" font-size="9" fill="#f7f8fc" stroke="#f7f8fc" stroke-width="0.28" text-anchor="middle">2</text>
<rect x="804.5" y="808" width="5.5" height="5.5" fill="#e6e9f0" stroke="#e6e9f0" stroke-width="1.15"/>
<text x="816.25" y="814.49" font-size="9" fill="#f7f8fc" stroke="#f7f8fc" stroke-width="0.28" text-anchor="middle">3</text>
<rect x="786.25" y="787.5" width="18.25" height="18.75" fill="none" stroke="#e6e9f0" stroke-width="1.035"/>
<polyline points="740,772.5 758.75,772.5 758.75,781.25" fill="none" stroke="#e2e43a" stroke-width="1.32"/>
<polyline points="760.5,773.75 797.5,773.75" fill="none" stroke="#e6e9f0" stroke-width="1.035"/>
<line x1="762.5" y1="780" x2="804.5" y2="780" stroke="#e6e9f0" stroke-width="1.035"/>
<polyline points="762.5,787.5 780,787.5 780,813.75 804.5,813.75" fill="none" stroke="#e6e9f0" stroke-width="1.035"/>
<line x1="781.25" y1="813.75" x2="781.25" y2="884.75" stroke="#e6e9f0" stroke-width="1.035"/>
<line x1="804.5" y1="773.75" x2="804.5" y2="884.75" stroke="#e6e9f0" stroke-width="1.035"/>
<line x1="810.5" y1="805" x2="810.5" y2="884.75" stroke="#e6e9f0" stroke-width="1.035"/>
<polyline points="203.75,944.75 203.75,1056.25" fill="none" stroke="#e6e9f0" stroke-width="1.15"/>
<polyline points="203.75,1096.25 203.75,1260 502.5,1260 502.5,1230" fill="none" stroke="#e6e9f0" stroke-width="1.15"/>
<line x1="211.25" y1="944.75" x2="211.25" y2="1255" stroke="#e6e9f0" stroke-width="1.15"/>
<line x1="217" y1="944.75" x2="217" y2="1251.25" stroke="#e6e9f0" stroke-width="1.15"/>
<polyline points="217,1251.25 300,1251.25" fill="none" stroke="#e6e9f0" stroke-width="1.15"/>
<polyline points="403.75,1251.25 488.75,1251.25" fill="none" stroke="#e6e9f0" stroke-width="1.15"/>
<line x1="211.25" y1="1255" x2="301.25" y2="1255" stroke="#e6e9f0" stroke-width="0.92"/>
<line x1="403.75" y1="1255" x2="497.5" y2="1255" stroke="#e6e9f0" stroke-width="0.92"/>
<polyline points="502.5,1265 227.5,1265" fill="none" stroke="#e6e9f0" stroke-width="1.15"/>
<line x1="204.6" y1="1260" x2="204.6" y2="1328.3" stroke="#e6e9f0" stroke-width="1.15"/>
<line x1="204.6" y1="1339.1" x2="204.6" y2="1384.4" stroke="#e6e9f0" stroke-width="1.15"/>
<line x1="228" y1="1265" x2="228" y2="1313" stroke="#e6e9f0" stroke-width="1.15"/>
<line x1="228" y1="1321.4" x2="228" y2="1384.4" stroke="#e6e9f0" stroke-width="1.15"/>
<line x1="228" y1="1313" x2="204.6" y2="1328.3" stroke="#e6e9f0" stroke-width="1.15"/>
<line x1="228" y1="1321.4" x2="204.6" y2="1339.1" stroke="#e6e9f0" stroke-width="1.15"/>
<rect x="197.7" y="1384.4" width="36.9" height="36.2" fill="none" stroke="#e6e9f0" stroke-width="1.15"/>
<polyline points="235,944.75 235,1024.5 314.5,1024.5" fill="none" stroke="#2cd6e6" stroke-width="1.32"/>
<line x1="230.75" y1="944.75" x2="230.75" y2="1007.5" stroke="#cfd3dd" stroke-width="1.8" stroke-dasharray="6 2.5"/>
<line x1="217" y1="1007.5" x2="230.75" y2="1007.5" stroke="#cfd3dd" stroke-width="1.8" stroke-dasharray="6 2.5"/>
<line x1="217" y1="1029.25" x2="488.75" y2="1029.25" stroke="#cfd3dd" stroke-width="1.8" stroke-dasharray="6 2.5"/>
<polyline points="314.5,944.75 314.5,941.25 320,941.25 320,944.75" fill="none" stroke="#e6e9f0" stroke-width="1.035"/>
<polyline points="314.5,983.75 320,983.75 320,1020 326.25,1020 326.25,1025" fill="none" stroke="#e6e9f0" stroke-width="1.035"/>
<line x1="314.5" y1="983.75" x2="314.5" y2="1043.75" stroke="#e6e9f0" stroke-width="1.035"/>
<line x1="320" y1="1020" x2="320" y2="1043.75" stroke="#e6e9f0" stroke-width="1.035"/>
<polygon points="314.5,982.5 286.25,953.75 287.677,952.348 315.927,981.098" fill="none" stroke="#e2e43a" stroke-width="1.2"/>
<path d="M286.25,953.75 A40.3066,40.3066 0 0 1 314.5,941.25" fill="none" stroke="#e2e43a" stroke-width="1.2"/>
<line x1="249.25" y1="962" x2="459.5" y2="962" stroke="#e6e9f0" stroke-width="0.92"/>
<polygon points="248.75,962 255.75,960.9 255.75,963.1" fill="#e6e9f0" stroke="#e6e9f0" stroke-width="0.575"/>
<polygon points="460,962 453,963.1 453,960.9" fill="#e6e9f0" stroke="#e6e9f0" stroke-width="0.575"/>
<text x="353.75" y="958.78" font-size="10.5" fill="#f7f8fc" stroke="#f7f8fc" stroke-width="0.28" text-anchor="middle" textLength="44" lengthAdjust="spacingAndGlyphs">2x10 CJ</text>
<text x="355" y="971.28" font-size="10.5" fill="#f7f8fc" stroke="#f7f8fc" stroke-width="0.28" text-anchor="middle" textLength="56" lengthAdjust="spacingAndGlyphs">@ 16" O.C.</text>
<rect x="387.5" y="948.75" width="2.5" height="30" fill="none" stroke="#e2e43a" stroke-width="1.2"/>
<line x1="392" y1="950.5" x2="488.75" y2="950.5" stroke="#cfd3dd" stroke-width="1.8" stroke-dasharray="6 2.5"/>
<polyline points="392,955 471.25,955 471.25,1024.5 392,1024.5" fill="none" stroke="#2cd6e6" stroke-width="1.32"/>
<line x1="471.25" y1="972.5" x2="488.75" y2="972.5" stroke="#cfd3dd" stroke-width="1.8" stroke-dasharray="6 2.5"/>
<line x1="471.25" y1="1007.5" x2="488.75" y2="1007.5" stroke="#cfd3dd" stroke-width="1.8" stroke-dasharray="6 2.5"/>
<polyline points="385.75,944.75 385.75,948.75" fill="none" stroke="#e6e9f0" stroke-width="1.035"/>
<polyline points="385.75,1090 385.75,1011.25 391.25,1011.25 391.25,1090" fill="none" stroke="#e6e9f0" stroke-width="1.035"/>
<polyline points="385.75,1020 380,1020 380,1024.5" fill="none" stroke="#e6e9f0" stroke-width="1.035"/>
<text x="428.75" y="989.49" font-size="9" fill="#f7f8fc" stroke="#f7f8fc" stroke-width="0.28" text-anchor="middle" textLength="107" lengthAdjust="spacingAndGlyphs">½"x9" FLITCH BEAM OR</text>
<text x="428.75" y="998.99" font-size="9" fill="#f7f8fc" stroke="#f7f8fc" stroke-width="0.28" text-anchor="middle" textLength="84" lengthAdjust="spacingAndGlyphs">(2) 1.75 x 11.875 LVL</text>
<text x="428.75" y="1009.49" font-size="9" fill="#f7f8fc" stroke="#f7f8fc" stroke-width="0.28" text-anchor="middle" textLength="101" lengthAdjust="spacingAndGlyphs">UNDER DORMER WALL</text>
<path d="M376.25,1006.25 C362.5,1005.0 357.5,1020.0 343.75,1040.5" fill="none" stroke="#e6e9f0" stroke-width="0.92"/>
<polygon points="342,1043 344.443,1037.41 346.267,1038.64" fill="#e6e9f0" stroke="#e6e9f0" stroke-width="0.575"/>
<polygon points="380,1024.5 341.25,1063 339.84,1061.58 378.59,1023.08" fill="none" stroke="#e2e43a" stroke-width="1.2"/>
<path d="M341.25,1063 A54.6243,54.6243 0 0 1 326.25,1025" fill="none" stroke="#e2e43a" stroke-width="1.2"/>
<line x1="211.25" y1="1043.75" x2="497.5" y2="1043.75" stroke="#e6e9f0" stroke-width="1.035"/>
<line x1="211.25" y1="1049.5" x2="497.5" y2="1049.5" stroke="#e6e9f0" stroke-width="1.035"/>
<line x1="217.5" y1="1046.75" x2="488.75" y2="1046.75" stroke="#e6e9f0" stroke-width="1.242" stroke-dasharray="16 3 3 3"/>
<rect x="211.25" y="1043" width="6.25" height="6.5" fill="#e6e9f0" stroke="#e6e9f0" stroke-width="1.15"/>
<rect x="488.75" y="1043" width="8.75" height="6.5" fill="#e6e9f0" stroke="#e6e9f0" stroke-width="1.15"/>
<text x="222" y="1039.49" font-size="9" fill="#f7f8fc" stroke="#f7f8fc" stroke-width="0.28" text-anchor="middle">2</text>
<text x="503.75" y="1050.24" font-size="9" fill="#f7f8fc" stroke="#f7f8fc" stroke-width="0.28" text-anchor="middle">2</text>
<rect x="202.5" y="1056.25" width="14.5" height="40" fill="none" stroke="#e2e43a" stroke-width="1.32"/>
<line x1="207.5" y1="1056.25" x2="207.5" y2="1096.25" stroke="#e2e43a" stroke-width="1.08"/>
<line x1="212.5" y1="1056.25" x2="212.5" y2="1096.25" stroke="#e2e43a" stroke-width="1.08"/>
<path d="M220.5,1063.75 Q220.5,1061.25 223.75,1061.25 L234.5,1061.25 L234.5,1091.25 L223.75,1091.25 Q220.5,1091.25 220.5,1088.75 Z" fill="none" stroke="#2cd6e6" stroke-width="1.32"/>
<ellipse cx="251.25" cy="1076.25" rx="14.5" ry="11" fill="none" stroke="#2cd6e6" stroke-width="1.32"/>
<polygon points="302,1049.5 302,1091.25 235,1091.25 235,1108.75 320,1108.75 320,1049.5" fill="url(#h)" stroke="#e6e9f0" stroke-width="0.805"/>
<line x1="217" y1="1103.75" x2="235" y2="1103.75" stroke="#e6e9f0" stroke-width="1.035"/>
<rect x="315" y="1034.5" width="3.75" height="41.75" fill="#24293c" stroke="#e2e43a" stroke-width="1.2"/>
<polyline points="314.5,1103.75 314.5,1096.25 320,1096.25" fill="none" stroke="#e6e9f0" stroke-width="0.805"/>
<polyline points="252.5,1110 252.5,1216.25 383.75,1216.25 426.25,1171.25 426.25,1143.75" fill="none" stroke="#2cd6e6" stroke-width="1.32"/>
<polyline points="252.5,1110 218,1110 218,1231.25 237.5,1251.25 300,1251.25" fill="none" stroke="#2cd6e6" stroke-width="1.32"/>
<ellipse cx="240" cy="1144.5" rx="10.5" ry="15" fill="none" stroke="#2cd6e6" stroke-width="1.32"/>
<ellipse cx="280" cy="1230" rx="15" ry="10.5" fill="none" stroke="#2cd6e6" stroke-width="1.32"/>
<rect x="223" y="1138.75" width="4.5" height="12.5" fill="none" stroke="#2cd6e6" stroke-width="1.44"/>
<circle cx="237" cy="1144.5" r="1.2" fill="none" stroke="#2cd6e6" stroke-width="1.2"/>
<rect x="273.75" y="1241.25" width="12.5" height="4.5" fill="none" stroke="#2cd6e6" stroke-width="1.44"/>
<circle cx="280" cy="1232.5" r="1.2" fill="none" stroke="#2cd6e6" stroke-width="1.2"/>
<line x1="280" y1="1233.75" x2="280" y2="1242.5" stroke="#2cd6e6" stroke-width="1.44"/>
<rect x="218" y="1180.5" width="19.5" height="35.75" fill="none" stroke="#e2e43a" stroke-width="1.2"/>
<line x1="218" y1="1184.08" x2="237.5" y2="1184.08" stroke="#e2e43a" stroke-width="0.96"/>
<line x1="218" y1="1187.65" x2="237.5" y2="1187.65" stroke="#e2e43a" stroke-width="0.96"/>
<line x1="218" y1="1191.22" x2="237.5" y2="1191.22" stroke="#e2e43a" stroke-width="0.96"/>
<line x1="218" y1="1194.8" x2="237.5" y2="1194.8" stroke="#e2e43a" stroke-width="0.96"/>
<line x1="218" y1="1198.38" x2="237.5" y2="1198.38" stroke="#e2e43a" stroke-width="0.96"/>
<line x1="218" y1="1201.95" x2="237.5" y2="1201.95" stroke="#e2e43a" stroke-width="0.96"/>
<line x1="218" y1="1205.53" x2="237.5" y2="1205.53" stroke="#e2e43a" stroke-width="0.96"/>
<line x1="218" y1="1209.1" x2="237.5" y2="1209.1" stroke="#e2e43a" stroke-width="0.96"/>
<line x1="218" y1="1212.67" x2="237.5" y2="1212.67" stroke="#e2e43a" stroke-width="0.96"/>
<polygon points="217,1240 217,1251.25 228.75,1251.25" fill="none" stroke="#e6e9f0" stroke-width="1.035"/>
<text x="263.75" y="1130.78" font-size="10.5" fill="#f7f8fc" stroke="#f7f8fc" stroke-width="0.28" text-anchor="middle" textLength="37" lengthAdjust="spacingAndGlyphs">VAULT</text>
<line x1="228.75" y1="1133.25" x2="297" y2="1133.25" stroke="#e6e9f0" stroke-width="0.92"/>
<polygon points="298,1133.25 291,1134.35 291,1132.15" fill="#e6e9f0" stroke="#e6e9f0" stroke-width="0.575"/>
<line x1="307" y1="1110" x2="307" y2="1251.25" stroke="#cfd3dd" stroke-width="1.32" stroke-dasharray="5 2.5"/>
<line x1="398.75" y1="1049.5" x2="398.75" y2="1251.25" stroke="#cfd3dd" stroke-width="1.32" stroke-dasharray="5 2.5"/>
<text x="353.75" y="1164.28" font-size="10.5" fill="#f7f8fc" stroke="#f7f8fc" stroke-width="0.28" text-anchor="middle" textLength="40" lengthAdjust="spacingAndGlyphs">2x6 CJ</text>
<text x="354.5" y="1177.03" font-size="10.5" fill="#f7f8fc" stroke="#f7f8fc" stroke-width="0.28" text-anchor="middle" textLength="56" lengthAdjust="spacingAndGlyphs">@ 16" O.C.</text>
<line x1="316.75" y1="1167" x2="390.75" y2="1167" stroke="#e6e9f0" stroke-width="0.92"/>
<polygon points="316.25,1167 323.25,1165.9 323.25,1168.1" fill="#e6e9f0" stroke="#e6e9f0" stroke-width="0.575"/>
<polygon points="391.25,1167 384.25,1168.1 384.25,1165.9" fill="#e6e9f0" stroke="#e6e9f0" stroke-width="0.575"/>
<line x1="330" y1="1216.25" x2="330" y2="1251.25" stroke="#2cd6e6" stroke-width="1.32" stroke-dasharray="7 3"/>
<rect x="375.5" y="1213.75" width="5.75" height="37.5" fill="none" stroke="#e2e43a" stroke-width="1.32"/>
<line x1="392" y1="1050" x2="487.5" y2="1143.75" stroke="#2cd6e6" stroke-width="1.32"/>
<line x1="487.5" y1="1050" x2="411.25" y2="1120" stroke="#2cd6e6" stroke-width="1.32"/>
<circle cx="440" cy="1094.25" r="2.2" fill="none" stroke="#2cd6e6" stroke-width="1.2"/>
<text x="442.5" y="1076.28" font-size="10.5" fill="#f7f8fc" stroke="#f7f8fc" stroke-width="0.28" text-anchor="middle" textLength="37" lengthAdjust="spacingAndGlyphs">VAULT</text>
<line x1="410.5" y1="1078.75" x2="477" y2="1078.75" stroke="#e6e9f0" stroke-width="0.92"/>
<polygon points="409.5,1078.75 416.5,1077.65 416.5,1079.85" fill="#e6e9f0" stroke="#e6e9f0" stroke-width="0.575"/>
<polyline points="385,1092.5 391.25,1092.5 391.25,1102.5 397.5,1110 426.25,1138.75 487.5,1138.75" fill="none" stroke="#2cd6e6" stroke-width="1.32"/>
<polyline points="385,1092.5 385,1103.75 392.5,1112.5 423.75,1143.75 487.5,1143.75" fill="none" stroke="#2cd6e6" stroke-width="1.32"/>
<polyline points="392.5,1112.5 392.5,1147.5 398.75,1147.5" fill="none" stroke="#2cd6e6" stroke-width="1.32"/>
<path d="M398.75,1147.5 Q415.0,1143.75 421.25,1137.5" fill="none" stroke="#2cd6e6" stroke-width="1.32"/>
<line x1="395.75" y1="1112.5" x2="395.75" y2="1146.25" stroke="#2cd6e6" stroke-width="1.08"/>
<line x1="385" y1="1097.5" x2="391.25" y2="1097.5" stroke="#2cd6e6" stroke-width="1.08"/>
<line x1="387.5" y1="1106.25" x2="393.75" y2="1102.5" stroke="#2cd6e6" stroke-width="1.08"/>
<line x1="420" y1="1140" x2="425" y2="1134.5" stroke="#2cd6e6" stroke-width="1.08"/>
<ellipse cx="438.75" cy="1202.5" rx="49.5" ry="27" fill="none" stroke="#2cd6e6" stroke-width="1.32" transform="rotate(-42 438.75 1202.5)"/>
<rect x="488.75" y="944.75" width="8.75" height="98.25" fill="url(#h)" stroke="#e6e9f0" stroke-width="0.805"/>
<rect x="488.75" y="1049.5" width="8.75" height="174.25" fill="url(#h)" stroke="#e6e9f0" stroke-width="0.805"/>
<polyline points="488.75,1223.75 488.75,1251.25" fill="none" stroke="#e6e9f0" stroke-width="1.035"/>
<polyline points="497.5,1223.75 497.5,1255" fill="none" stroke="#e6e9f0" stroke-width="1.035"/>
<rect x="307.5" y="1251.25" width="90" height="8.75" fill="none" stroke="#e2e43a" stroke-width="1.32"/>
<line x1="307.5" y1="1254.25" x2="397.5" y2="1254.25" stroke="#e2e43a" stroke-width="1.2"/>
<line x1="307.5" y1="1257" x2="397.5" y2="1257" stroke="#e2e43a" stroke-width="1.2"/>
<line x1="353" y1="1252" x2="353" y2="1258" stroke="#e2e43a" stroke-width="1.92"/>
<rect x="301.25" y="1252" width="6.25" height="6" fill="#e6e9f0" stroke="#e6e9f0" stroke-width="1.15"/>
<rect x="397.5" y="1252" width="6.25" height="6" fill="#e6e9f0" stroke="#e6e9f0" stroke-width="1.15"/>
<text x="302.5" y="1248.24" font-size="9" fill="#f7f8fc" stroke="#f7f8fc" stroke-width="0.28" text-anchor="middle">3</text>
<text x="403.75" y="1248.24" font-size="9" fill="#f7f8fc" stroke="#f7f8fc" stroke-width="0.28" text-anchor="middle">3</text>
<path d="M307.5,1260.0 L307.5,1273.75 Q352.5,1312.5 397.5,1273.75 L397.5,1260.0" fill="none" stroke="#e2e43a" stroke-width="1.44" stroke-dasharray="7 3"/>
<text x="272.5" y="1318.86" font-size="9.6" fill="#f7f8fc" stroke="#f7f8fc" stroke-width="0.28" textLength="208.75" lengthAdjust="spacingAndGlyphs">BALLOON FRAME WALL w/ 2x6 STUDS @ 16"</text>
<text x="272.5" y="1330.01" font-size="9.6" fill="#f7f8fc" stroke="#f7f8fc" stroke-width="0.28" textLength="232" lengthAdjust="spacingAndGlyphs">OC. OR DOUBLE 2 x 4 STUDS @ 16" OC. DOUBLE</text>
<text x="272.5" y="1341.16" font-size="9.6" fill="#f7f8fc" stroke="#f7f8fc" stroke-width="0.28" textLength="228.75" lengthAdjust="spacingAndGlyphs">2 x 4 STUDS SHALL BE NAILED TOGETHER AND</text>
<text x="272.5" y="1352.31" font-size="9.6" fill="#f7f8fc" stroke="#f7f8fc" stroke-width="0.28" textLength="223" lengthAdjust="spacingAndGlyphs">MAY BE SPLICED w/ MIN. 8'-0"OVERLAP AT</text>
<text x="272.5" y="1363.46" font-size="9.6" fill="#f7f8fc" stroke="#f7f8fc" stroke-width="0.28" textLength="233" lengthAdjust="spacingAndGlyphs">CENTER. INSTALL 1/2" CDX OR OSB STRUCTURAL</text>
<text x="272.5" y="1374.61" font-size="9.6" fill="#f7f8fc" stroke="#f7f8fc" stroke-width="0.28" textLength="116.25" lengthAdjust="spacingAndGlyphs">SHEATHING ON WALL.</text>
<path d="M271.25,1318.0 L250.0,1318.0 C227.5,1315.0 252.5,1290.0 267.5,1261.25" fill="none" stroke="#e6e9f0" stroke-width="0.92"/>
<path d="M482.5,1316.25 L496.25,1316.25 C515.0,1312.5 477.5,1290.0 446.25,1263.0" fill="none" stroke="#e6e9f0" stroke-width="0.92"/>
<polygon points="444.5,1261.25 449.695,1264.45 448.223,1266.08" fill="#e6e9f0" stroke="#e6e9f0" stroke-width="0.575"/>
<line x1="509.5" y1="937" x2="509.5" y2="1217.5" stroke="#cfd3dd" stroke-width="1.32" stroke-dasharray="5 2.5"/>
<line x1="583.75" y1="937" x2="583.75" y2="1207.5" stroke="#cfd3dd" stroke-width="1.32" stroke-dasharray="5 2.5"/>
<line x1="595" y1="937" x2="595" y2="1207.5" stroke="#cfd3dd" stroke-width="1.32" stroke-dasharray="5 2.5"/>
<line x1="673.75" y1="937" x2="673.75" y2="1207.5" stroke="#cfd3dd" stroke-width="1.32" stroke-dasharray="5 2.5"/>
<line x1="685" y1="937" x2="685" y2="1207.5" stroke="#cfd3dd" stroke-width="1.32" stroke-dasharray="5 2.5"/>
<line x1="509.5" y1="1023.75" x2="742.75" y2="1023.75" stroke="#cfd3dd" stroke-width="1.32" stroke-dasharray="5 2.5"/>
<line x1="497.5" y1="1028.25" x2="509.5" y2="1028.25" stroke="#e6e9f0" stroke-width="0.92"/>
<polyline points="583.75,1030 595,1030" fill="none" stroke="#e6e9f0" stroke-width="0.92"/>
<polyline points="673.75,1030 685,1030" fill="none" stroke="#e6e9f0" stroke-width="0.92"/>
<line x1="509.5" y1="1127.5" x2="742.75" y2="1127.5" stroke="#cfd3dd" stroke-width="1.32" stroke-dasharray="5 2.5"/>
<line x1="497.5" y1="1123" x2="509.5" y2="1123" stroke="#e6e9f0" stroke-width="0.92"/>
<polyline points="583.75,1122.5 595,1122.5" fill="none" stroke="#e6e9f0" stroke-width="0.92"/>
<polyline points="673.75,1122.5 685,1122.5" fill="none" stroke="#e6e9f0" stroke-width="0.92"/>
<line x1="583.75" y1="937" x2="583.75" y2="941.25" stroke="#e6e9f0" stroke-width="0.92"/>
<line x1="595" y1="937" x2="595" y2="941.25" stroke="#e6e9f0" stroke-width="0.92"/>
<line x1="673.75" y1="937" x2="673.75" y2="941.25" stroke="#e6e9f0" stroke-width="0.92"/>
<line x1="685" y1="937" x2="685" y2="941.25" stroke="#e6e9f0" stroke-width="0.92"/>
<text x="0" y="3.78" font-size="10.5" fill="#f7f8fc" stroke="#f7f8fc" stroke-width="0.28" text-anchor="middle" transform="translate(616.25 977.5) rotate(-90)" textLength="37" lengthAdjust="spacingAndGlyphs">VAULT</text>
<line x1="621.25" y1="941.25" x2="621.25" y2="1012" stroke="#e6e9f0" stroke-width="0.92"/>
<polygon points="621.25,1013 620.15,1006 622.35,1006" fill="#e6e9f0" stroke="#e6e9f0" stroke-width="0.575"/>
<text x="0" y="3.78" font-size="10.5" fill="#f7f8fc" stroke="#f7f8fc" stroke-width="0.28" text-anchor="middle" transform="translate(629.25 978.75) rotate(-90)" textLength="62" lengthAdjust="spacingAndGlyphs">2x6 FALSE</text>
<text x="0" y="3.78" font-size="10.5" fill="#f7f8fc" stroke="#f7f8fc" stroke-width="0.28" text-anchor="middle" transform="translate(638.25 982.5) rotate(-90)" textLength="52" lengthAdjust="spacingAndGlyphs">RAFTERS</text>
<text x="0" y="3.78" font-size="10.5" fill="#f7f8fc" stroke="#f7f8fc" stroke-width="0.28" text-anchor="middle" transform="translate(649.25 978.75) rotate(-90)" textLength="56" lengthAdjust="spacingAndGlyphs">@ 16" O.C.</text>
<text x="0" y="3.78" font-size="10.5" fill="#f7f8fc" stroke="#f7f8fc" stroke-width="0.28" text-anchor="middle" transform="translate(629.25 1076.25) rotate(-90)" textLength="100" lengthAdjust="spacingAndGlyphs">2x6 CJ @ 16" O.C.</text>
<text x="0" y="3.78" font-size="10.5" fill="#f7f8fc" stroke="#f7f8fc" stroke-width="0.28" text-anchor="middle" transform="translate(641.75 1075) rotate(-90)" textLength="70" lengthAdjust="spacingAndGlyphs">@ 15'-0" AFF</text>
<line x1="634.5" y1="1027.5" x2="634.5" y2="1127" stroke="#e6e9f0" stroke-width="0.92"/>
<text x="0" y="3.78" font-size="10.5" fill="#f7f8fc" stroke="#f7f8fc" stroke-width="0.28" text-anchor="middle" transform="translate(545 1171.25) rotate(-90)" textLength="37" lengthAdjust="spacingAndGlyphs">VAULT</text>
<line x1="550.75" y1="1138.5" x2="550.75" y2="1206.25" stroke="#e6e9f0" stroke-width="0.92"/>
<polygon points="550.75,1137.5 551.85,1144.5 549.65,1144.5" fill="#e6e9f0" stroke="#e6e9f0" stroke-width="0.575"/>
<text x="698.75" y="955.03" font-size="10.5" fill="#f7f8fc" stroke="#f7f8fc" stroke-width="0.28" textLength="48" lengthAdjust="spacingAndGlyphs">SIMPSON</text>
<text x="697" y="967.53" font-size="10.5" fill="#f7f8fc" stroke="#f7f8fc" stroke-width="0.28" textLength="52" lengthAdjust="spacingAndGlyphs">LUS 210-2</text>
<polyline points="577,1206.25 577,1177 691.25,1177 691.25,1206.25" fill="none" stroke="#e03030" stroke-width="1.2"/>
<polyline points="602.5,1216.25 611.25,1240 657.5,1240 665,1216.25" fill="none" stroke="#e03030" stroke-width="1.2"/>
<polyline points="577,1207.5 577,1255 691.25,1255 691.25,1207.5" fill="none" stroke="#e6e9f0" stroke-width="1.035"/>
<polyline points="586.25,1216.25 586.25,1246.25 682.5,1246.25 682.5,1216.25" fill="none" stroke="#e6e9f0" stroke-width="1.035"/>
<polyline points="581.25,1211.25 581.25,1250.5 687,1250.5 687,1211.25" fill="none" stroke="#e6e9f0" stroke-width="0.805"/>
<rect x="577" y="1207.5" width="25.5" height="8.75" fill="none" stroke="#e6e9f0" stroke-width="1.035"/>
<rect x="665" y="1207.5" width="26.25" height="8.75" fill="none" stroke="#e6e9f0" stroke-width="1.035"/>
<line x1="580" y1="1211.25" x2="602.5" y2="1211.25" stroke="#e6e9f0" stroke-width="0.805"/>
<line x1="665" y1="1211.25" x2="688.75" y2="1211.25" stroke="#e6e9f0" stroke-width="0.805"/>
<rect x="568.75" y="1222.5" width="11.25" height="7.5" fill="none" stroke="#e6e9f0" stroke-width="0.92"/>
<rect x="688.75" y="1222.5" width="11.25" height="7.5" fill="none" stroke="#e6e9f0" stroke-width="0.92"/>
<polyline points="497.5,1217.5 512.5,1217.5" fill="none" stroke="#e6e9f0" stroke-width="1.035"/>
<polyline points="497.5,1223.75 509.5,1223.75 509.5,1230 502.5,1230" fill="none" stroke="#e6e9f0" stroke-width="1.035"/>
<line x1="512.5" y1="1216.25" x2="566.25" y2="1216.25" stroke="#e2e43a" stroke-width="1.32"/>
<line x1="512.5" y1="1220" x2="566.25" y2="1220" stroke="#e2e43a" stroke-width="1.32"/>
<line x1="509.5" y1="1231.25" x2="566.25" y2="1231.25" stroke="#e2e43a" stroke-width="1.32"/>
<line x1="512.5" y1="1218" x2="566.25" y2="1218" stroke="#e2e43a" stroke-width="0.96"/>
<line x1="700" y1="1216.25" x2="742.75" y2="1216.25" stroke="#e2e43a" stroke-width="1.32"/>
<line x1="700" y1="1220" x2="742.75" y2="1220" stroke="#e2e43a" stroke-width="1.32"/>
<line x1="700" y1="1231.25" x2="742.75" y2="1231.25" stroke="#e2e43a" stroke-width="1.32"/>
<line x1="700" y1="1218" x2="742.75" y2="1218" stroke="#e2e43a" stroke-width="0.96"/>
<line x1="566.25" y1="1217.5" x2="577" y2="1217.5" stroke="#e6e9f0" stroke-width="1.035"/>
<line x1="566.25" y1="1222.5" x2="577" y2="1222.5" stroke="#e6e9f0" stroke-width="1.035"/>
<line x1="691.25" y1="1217.5" x2="700" y2="1217.5" stroke="#e6e9f0" stroke-width="1.035"/>
<polyline points="707,1269.5 733.75,1269.5 733.75,944.75" fill="none" stroke="#e6e9f0" stroke-width="0.92"/>
<line x1="727.5" y1="1255" x2="727.5" y2="1269.5" stroke="#e6e9f0" stroke-width="1.08675" stroke-dasharray="4 2"/>
<path d="M783.0,814.5 L783.0,925.0 Q783.75,930.0 788.75,930.0 L846.25,930.0 L846.25,885.0" fill="none" stroke="#e2e43a" stroke-width="1.32"/>
<line x1="804.5" y1="885" x2="804.5" y2="1015" stroke="#e6e9f0" stroke-width="1.035"/>
<line x1="810.5" y1="885" x2="810.5" y2="1015" stroke="#e6e9f0" stroke-width="1.035"/>
<line x1="807.5" y1="885" x2="807.5" y2="1220" stroke="#e6e9f0" stroke-width="1.242" stroke-dasharray="16 3 3 3"/>
<path d="M740.0,912.5 C770.0,910.0 790.0,895.0 805.5,880.0" fill="none" stroke="#e6e9f0" stroke-width="0.92"/>
<line x1="796.25" y1="885" x2="796.25" y2="924.5" stroke="#e6e9f0" stroke-width="0.92"/>
<polygon points="796.25,925.5 795.15,919.5 797.35,919.5" fill="#e6e9f0" stroke="#e6e9f0" stroke-width="0.575"/>
<line x1="793.75" y1="926.25" x2="802.5" y2="926.25" stroke="#e6e9f0" stroke-width="0.92"/>
<circle cx="771.25" cy="933" r="4.5" fill="none" stroke="#e6e9f0" stroke-width="0.92"/>
<line x1="740" y1="931.25" x2="804.5" y2="931.25" stroke="#e6e9f0" stroke-width="1.035"/>
<line x1="740" y1="937" x2="804.5" y2="937" stroke="#e6e9f0" stroke-width="1.035"/>
<line x1="740" y1="934" x2="804.5" y2="934" stroke="#e6e9f0" stroke-width="1.242" stroke-dasharray="16 3 3 3"/>
<line x1="767" y1="937" x2="767" y2="1222.5" stroke="#e6e9f0" stroke-width="1.035"/>
<line x1="772.5" y1="937" x2="772.5" y2="1222.5" stroke="#e6e9f0" stroke-width="1.035"/>
<line x1="770" y1="937" x2="770" y2="1294.75" stroke="#e6e9f0" stroke-width="1.242" stroke-dasharray="16 3 3 3"/>
<text x="0" y="3.78" font-size="10.5" fill="#f7f8fc" stroke="#f7f8fc" stroke-width="0.28" text-anchor="middle" transform="translate(763.75 1082.5) rotate(-90)" textLength="46" lengthAdjust="spacingAndGlyphs">(2) 2x10</text>
<line x1="758.75" y1="955" x2="758.75" y2="1215" stroke="#cfd3dd" stroke-width="1.44" stroke-dasharray="5 2.5"/>
<line x1="740" y1="1023.75" x2="758.75" y2="1023.75" stroke="#cfd3dd" stroke-width="1.44" stroke-dasharray="5 2.5"/>
<line x1="740" y1="1128.25" x2="758.75" y2="1128.25" stroke="#cfd3dd" stroke-width="1.44" stroke-dasharray="5 2.5"/>
<line x1="758.75" y1="1029.5" x2="767" y2="1029.5" stroke="#e6e9f0" stroke-width="0.92"/>
<line x1="758.75" y1="1122.5" x2="767" y2="1122.5" stroke="#e6e9f0" stroke-width="0.92"/>
<path d="M740.0,955.0 C757.5,955.0 757.5,945.0 768.0,937.0" fill="none" stroke="#e6e9f0" stroke-width="0.92"/>
<text x="0" y="3.78" font-size="10.5" fill="#f7f8fc" stroke="#f7f8fc" stroke-width="0.28" text-anchor="middle" transform="translate(798 1097.5) rotate(-90)" textLength="46" lengthAdjust="spacingAndGlyphs">(3) 2x10</text>
<line x1="792" y1="939.5" x2="801.25" y2="939.5" stroke="#e6e9f0" stroke-width="0.805"/>
<line x1="801.25" y1="939.5" x2="801.25" y2="947.5" stroke="#e6e9f0" stroke-width="0.805"/>
<line x1="804.5" y1="1020" x2="804.5" y2="1220" stroke="#e6e9f0" stroke-width="1.035"/>
<line x1="810.5" y1="1036.25" x2="810.5" y2="1160" stroke="#e6e9f0" stroke-width="1.035"/>
<line x1="815" y1="1020" x2="815" y2="1177.5" stroke="#e6e9f0" stroke-width="1.035"/>
<line x1="816.25" y1="1035" x2="816.25" y2="1162.5" stroke="#e2e43a" stroke-width="1.32" stroke-dasharray="7 3"/>
<line x1="812.5" y1="1036.25" x2="812.5" y2="1160" stroke="#e6e9f0" stroke-width="0.92"/>
<rect x="804.5" y="1028.75" width="9.25" height="7.5" fill="#e6e9f0" stroke="#e6e9f0" stroke-width="1.15"/>
<rect x="804.5" y="1160" width="9.25" height="7.5" fill="#e6e9f0" stroke="#e6e9f0" stroke-width="1.15"/>
<text x="799.25" y="1035.74" font-size="9" fill="#f7f8fc" stroke="#f7f8fc" stroke-width="0.28" text-anchor="middle">2</text>
<text x="799.25" y="1170.74" font-size="9" fill="#f7f8fc" stroke="#f7f8fc" stroke-width="0.28" text-anchor="middle">2</text>
<text x="799.25" y="1015.74" font-size="9" fill="#f7f8fc" stroke="#f7f8fc" stroke-width="0.28" text-anchor="middle">3</text>
<rect x="804.5" y="1013.75" width="183" height="5.75" fill="url(#h)" stroke="#e6e9f0" stroke-width="0.805"/>
<rect x="1042.5" y="1013.75" width="180" height="5.75" fill="url(#h)" stroke="#e6e9f0" stroke-width="0.805"/>
<line x1="987.5" y1="1013.75" x2="1042.5" y2="1013.75" stroke="#e2e43a" stroke-width="1.32" stroke-dasharray="7 3"/>
<line x1="987.5" y1="1016.75" x2="1042.5" y2="1016.75" stroke="#e2e43a" stroke-width="1.32" stroke-dasharray="7 3"/>
<line x1="987.5" y1="1019.5" x2="1042.5" y2="1019.5" stroke="#e2e43a" stroke-width="1.32" stroke-dasharray="7 3"/>
<rect x="804.5" y="1013.75" width="6.75" height="5.75" fill="#e6e9f0" stroke="#e6e9f0" stroke-width="1.15"/>
<rect x="973.75" y="1013.75" width="6.25" height="5.75" fill="#e6e9f0" stroke="#e6e9f0" stroke-width="1.15"/>
<rect x="1213.75" y="1012.5" width="8.75" height="8.75" fill="#e6e9f0" stroke="#e6e9f0" stroke-width="1.15"/>
<text x="977" y="1010.24" font-size="9" fill="#f7f8fc" stroke="#f7f8fc" stroke-width="0.28" text-anchor="middle">2</text>
<text x="1218" y="1007.49" font-size="9" fill="#f7f8fc" stroke="#f7f8fc" stroke-width="0.28" text-anchor="middle">3</text>
<polyline points="815,1177.5 856.25,1177.5 856.25,1187.5 852.5,1187.5 852.5,1190.75" fill="none" stroke="#e6e9f0" stroke-width="1.035"/>
<polyline points="968.75,1020 968.75,1177.5 928.75,1177.5 928.75,1187.5 932.5,1187.5 932.5,1190.75" fill="none" stroke="#e6e9f0" stroke-width="1.035"/>
<polyline points="804.5,1220 813.75,1220 813.75,1187.5 852.5,1187.5" fill="none" stroke="#e6e9f0" stroke-width="1.035"/>
<line x1="932.5" y1="1187.5" x2="973.75" y2="1187.5" stroke="#e6e9f0" stroke-width="1.035"/>
<line x1="970" y1="1036.25" x2="970" y2="1155" stroke="#e2e43a" stroke-width="1.32" stroke-dasharray="7 3"/>
<line x1="968.75" y1="1036.25" x2="980" y2="1036.25" stroke="#e6e9f0" stroke-width="0.92"/>
<line x1="968.75" y1="1161.25" x2="980" y2="1161.25" stroke="#e6e9f0" stroke-width="0.92"/>
<polygon points="856.25,1177.5 907,1127.5 908.404,1128.92 857.654,1178.92" fill="none" stroke="#e2e43a" stroke-width="1.2"/>
<path d="M907,1127.5 A71.243,71.243 0 0 1 927.5,1177.5" fill="none" stroke="#e2e43a" stroke-width="1.2"/>
<line x1="852.5" y1="1190.75" x2="932.5" y2="1190.75" stroke="#e2e43a" stroke-width="1.32"/>
<text x="0" y="3.78" font-size="10.5" fill="#f7f8fc" stroke="#f7f8fc" stroke-width="0.28" text-anchor="middle" transform="translate(856.25 1092.5) rotate(-90)" textLength="108" lengthAdjust="spacingAndGlyphs">2x10 CJ @ 16" O.C.</text>
<text x="0" y="3.78" font-size="10.5" fill="#f7f8fc" stroke="#f7f8fc" stroke-width="0.28" text-anchor="middle" transform="translate(869.25 1092.5) rotate(-90)" textLength="70" lengthAdjust="spacingAndGlyphs">@ 15'-0" AFF</text>
<line x1="862.5" y1="1037.5" x2="862.5" y2="1148.75" stroke="#e6e9f0" stroke-width="0.92"/>
<polygon points="862.5,1037 863.6,1043 861.4,1043" fill="#e6e9f0" stroke="#e6e9f0" stroke-width="0.575"/>
<polygon points="862.5,1149.5 861.4,1143.5 863.6,1143.5" fill="#e6e9f0" stroke="#e6e9f0" stroke-width="0.575"/>
<line x1="973.75" y1="1019.5" x2="973.75" y2="1246.25" stroke="#e6e9f0" stroke-width="1.035"/>
<line x1="980" y1="1019.5" x2="980" y2="1240" stroke="#e6e9f0" stroke-width="1.035"/>
<line x1="977" y1="1019.5" x2="977" y2="1180" stroke="#e6e9f0" stroke-width="1.242" stroke-dasharray="16 3 3 3"/>
<text x="0" y="3.78" font-size="10.5" fill="#f7f8fc" stroke="#f7f8fc" stroke-width="0.28" text-anchor="middle" transform="translate(986.25 1098.75) rotate(-90)" textLength="96" lengthAdjust="spacingAndGlyphs">(2) 1.75x9.25 LVL</text>
<line x1="980" y1="1031.25" x2="1215" y2="1031.25" stroke="#e6e9f0" stroke-width="1.5525" stroke-dasharray="7 3.5"/>
<line x1="980" y1="1087.5" x2="1215" y2="1087.5" stroke="#e6e9f0" stroke-width="1.5525" stroke-dasharray="7 3.5"/>
<line x1="980" y1="1100" x2="1215" y2="1100" stroke="#e6e9f0" stroke-width="1.5525" stroke-dasharray="7 3.5"/>
<line x1="980" y1="1158.75" x2="1215" y2="1158.75" stroke="#e6e9f0" stroke-width="1.5525" stroke-dasharray="7 3.5"/>
<line x1="980" y1="1171.25" x2="1215" y2="1171.25" stroke="#e6e9f0" stroke-width="1.5525" stroke-dasharray="7 3.5"/>
<line x1="980" y1="1225" x2="1215" y2="1225" stroke="#e6e9f0" stroke-width="1.5525" stroke-dasharray="7 3.5"/>
<line x1="1067.5" y1="1031.25" x2="1067.5" y2="1225" stroke="#e6e9f0" stroke-width="1.5525" stroke-dasharray="7 3.5"/>
<line x1="1127" y1="1031.25" x2="1127" y2="1225" stroke="#e6e9f0" stroke-width="1.5525" stroke-dasharray="7 3.5"/>
<polyline points="1072.5,1020 1072.5,1031.25 1122.5,1031.25 1122.5,1020" fill="none" stroke="#e6e9f0" stroke-width="1.035"/>
<polygon points="1072.5,1088.75 1072.5,1100 1122.5,1100 1122.5,1088.75" fill="none" stroke="#e6e9f0" stroke-width="1.035"/>
<polygon points="1072.5,1160 1072.5,1171.25 1122.5,1171.25 1122.5,1160" fill="none" stroke="#e6e9f0" stroke-width="1.035"/>
<polyline points="1072.5,1225 1072.5,1235 1122.5,1235 1122.5,1225" fill="none" stroke="#e6e9f0" stroke-width="1.035"/>
<text x="1097.5" y="1054.49" font-size="9" fill="#f7f8fc" stroke="#f7f8fc" stroke-width="0.28" text-anchor="middle" textLength="34" lengthAdjust="spacingAndGlyphs">2x6 CJ</text>
<line x1="1075" y1="1057" x2="1120" y2="1057" stroke="#e6e9f0" stroke-width="0.92"/>
<polygon points="1074.5,1057 1079.5,1055.9 1079.5,1058.1" fill="#e6e9f0" stroke="#e6e9f0" stroke-width="0.575"/>
<polygon points="1120.5,1057 1115.5,1058.1 1115.5,1055.9" fill="#e6e9f0" stroke="#e6e9f0" stroke-width="0.575"/>
<text x="1097.5" y="1066.99" font-size="9" fill="#f7f8fc" stroke="#f7f8fc" stroke-width="0.28" text-anchor="middle" textLength="48" lengthAdjust="spacingAndGlyphs">@ 16" O.C.</text>
<text x="1097.5" y="1075.74" font-size="9" fill="#f7f8fc" stroke="#f7f8fc" stroke-width="0.28" text-anchor="middle" textLength="44" lengthAdjust="spacingAndGlyphs">AT 15'-0"</text>
<text x="1097.5" y="1083.24" font-size="9" fill="#f7f8fc" stroke="#f7f8fc" stroke-width="0.28" text-anchor="middle" textLength="18" lengthAdjust="spacingAndGlyphs">AFF</text>
<text x="1156.25" y="1045.74" font-size="9" fill="#f7f8fc" stroke="#f7f8fc" stroke-width="0.28" text-anchor="middle" textLength="76" lengthAdjust="spacingAndGlyphs">(2) 1.75x9.25 LVL</text>
<text x="1156.25" y="1055.24" font-size="9" fill="#f7f8fc" stroke="#f7f8fc" stroke-width="0.28" text-anchor="middle" textLength="40" lengthAdjust="spacingAndGlyphs">ON WALL</text>
<path d="M1182.5,1051.25 C1200.0,1050.0 1202.5,1055.0 1213.25,1064.5" fill="none" stroke="#e6e9f0" stroke-width="0.92"/>
<text x="1029.5" y="1125.53" font-size="10.5" fill="#f7f8fc" stroke="#f7f8fc" stroke-width="0.28" text-anchor="middle" textLength="37" lengthAdjust="spacingAndGlyphs">VAULT</text>
<line x1="998.75" y1="1128.25" x2="1058" y2="1128.25" stroke="#e6e9f0" stroke-width="0.92"/>
<polygon points="1059,1128.25 1052,1129.35 1052,1127.15" fill="#e6e9f0" stroke="#e6e9f0" stroke-width="0.575"/>
<text x="1166.25" y="1125.53" font-size="10.5" fill="#f7f8fc" stroke="#f7f8fc" stroke-width="0.28" text-anchor="middle" textLength="37" lengthAdjust="spacingAndGlyphs">VAULT</text>
<line x1="1138" y1="1128.25" x2="1196.25" y2="1128.25" stroke="#e6e9f0" stroke-width="0.92"/>
<polygon points="1137,1128.25 1144,1127.15 1144,1129.35" fill="#e6e9f0" stroke="#e6e9f0" stroke-width="0.575"/>
<path d="M1030.0,1183.75 C1002.5,1183.75 1025.0,1155.0 1032.5,1133.0" fill="none" stroke="#e6e9f0" stroke-width="0.92"/>
<polygon points="1033,1131.25 1032.51,1137.33 1030.38,1136.76" fill="#e6e9f0" stroke="#e6e9f0" stroke-width="0.575"/>
<text x="1032" y="1186.28" font-size="10.5" fill="#f7f8fc" stroke="#f7f8fc" stroke-width="0.28" textLength="135.5" lengthAdjust="spacingAndGlyphs">2x6 FALSE RAFTERS @</text>
<text x="1032" y="1198.78" font-size="10.5" fill="#f7f8fc" stroke="#f7f8fc" stroke-width="0.28" textLength="147.5" lengthAdjust="spacingAndGlyphs">16" O.C. FRAME SIMILAR</text>
<text x="1032" y="1211.28" font-size="10.5" fill="#f7f8fc" stroke="#f7f8fc" stroke-width="0.28" textLength="85.5" lengthAdjust="spacingAndGlyphs">TO SECTION Ⓐ</text>
<line x1="1215" y1="1021.25" x2="1215" y2="1240" stroke="#e6e9f0" stroke-width="1.035"/>
<line x1="1221.25" y1="1021.25" x2="1221.25" y2="1235" stroke="#e6e9f0" stroke-width="1.035"/>
<rect x="1215" y="1177.5" width="6.25" height="8.75" fill="#e6e9f0" stroke="#e6e9f0" stroke-width="1.15"/>
<rect x="973.75" y="1180" width="6.25" height="6.25" fill="#e6e9f0" stroke="#e6e9f0" stroke-width="1.15"/>
<text x="1208" y="1185.74" font-size="9" fill="#f7f8fc" stroke="#f7f8fc" stroke-width="0.28" text-anchor="middle">2</text>
<text x="985" y="1190.24" font-size="9" fill="#f7f8fc" stroke="#f7f8fc" stroke-width="0.28" text-anchor="middle">2</text>
<line x1="980" y1="1235" x2="1050" y2="1235" stroke="#e6e9f0" stroke-width="1.035"/>
<line x1="980" y1="1240" x2="1050" y2="1240" stroke="#e6e9f0" stroke-width="1.035"/>
<line x1="1197.5" y1="1235" x2="1215" y2="1235" stroke="#e6e9f0" stroke-width="1.035"/>
<line x1="1197.5" y1="1240" x2="1215" y2="1240" stroke="#e6e9f0" stroke-width="1.035"/>
<rect x="1054.5" y="1236.25" width="136.75" height="10" fill="none" stroke="#e2e43a" stroke-width="1.32"/>
<line x1="1054.5" y1="1239.5" x2="1191.25" y2="1239.5" stroke="#e2e43a" stroke-width="1.2"/>
<line x1="1054.5" y1="1243" x2="1191.25" y2="1243" stroke="#e2e43a" stroke-width="1.2"/>
<rect x="1090" y="1237" width="6.25" height="8.5" fill="#24293c" stroke="#e6e9f0" stroke-width="0.92"/>
<rect x="1149.5" y="1237" width="6" height="8.5" fill="#24293c" stroke="#e6e9f0" stroke-width="0.92"/>
<rect x="1048" y="1237" width="6.5" height="8.5" fill="#e6e9f0" stroke="#e6e9f0" stroke-width="1.15"/>
<rect x="1191.25" y="1237" width="6.25" height="8.5" fill="#e6e9f0" stroke="#e6e9f0" stroke-width="1.15"/>
<text x="1051.25" y="1232.74" font-size="9" fill="#f7f8fc" stroke="#f7f8fc" stroke-width="0.28" text-anchor="middle">3</text>
<text x="1194.5" y="1232.74" font-size="9" fill="#f7f8fc" stroke="#f7f8fc" stroke-width="0.28" text-anchor="middle">3</text>
<path d="M1052.5,1246.25 L1052.5,1255.0 Q1122.5,1285.0 1192.5,1255.0 L1192.5,1246.25" fill="none" stroke="#e2e43a" stroke-width="1.44" stroke-dasharray="7 3"/>
<polyline points="1221.25,1186.25 1263.75,1186.25 1263.75,1177.5" fill="none" stroke="#e6e9f0" stroke-width="1.035"/>
<polyline points="1221.25,1192.5 1227.5,1192.5 1227.5,1252.5 1197.5,1252.5" fill="none" stroke="#e6e9f0" stroke-width="1.035"/>
<polyline points="1221.25,1235 1221.25,1246.25 1197.5,1246.25" fill="none" stroke="#e6e9f0" stroke-width="1.035"/>
<line x1="1227.5" y1="1192.5" x2="1263.75" y2="1192.5" stroke="#e6e9f0" stroke-width="1.035"/>
<polyline points="973.75,1246.25 990,1246.25 990,1262.5 1008.75,1262.5 1008.75,1246.25 1050,1246.25" fill="none" stroke="#e6e9f0" stroke-width="1.035"/>
<polyline points="968.75,1187.5 968.75,1252.5 981.25,1252.5 981.25,1294.75" fill="none" stroke="#e6e9f0" stroke-width="1.035"/>
<polyline points="1013.75,1294.75 1013.75,1252.5 1052.5,1252.5" fill="none" stroke="#e6e9f0" stroke-width="1.035"/>
<line x1="986.25" y1="1262.5" x2="986.25" y2="1294.75" stroke="#e6e9f0" stroke-width="1.035"/>
<line x1="1010" y1="1262.5" x2="1010" y2="1294.75" stroke="#e6e9f0" stroke-width="1.035"/>
<line x1="1016.25" y1="1265" x2="1016.25" y2="1294.75" stroke="#2cd6e6" stroke-width="1.32"/>
<text x="1075" y="1288.03" font-size="10.5" fill="#f7f8fc" stroke="#f7f8fc" stroke-width="0.28" text-anchor="middle" textLength="56" lengthAdjust="spacingAndGlyphs">2x6 WALL</text>
<path d="M1043.75,1284.25 C1027.5,1284.25 1035.0,1270.0 1037.5,1256.25" fill="none" stroke="#e6e9f0" stroke-width="0.92"/>
<path d="M1106.25,1284.25 C1152.5,1284.25 1177.5,1275.0 1207.0,1254.5" fill="none" stroke="#e6e9f0" stroke-width="0.92"/>
<polygon points="1208,1253.5 1203.72,1257.84 1202.45,1256.04" fill="#e6e9f0" stroke="#e6e9f0" stroke-width="0.575"/>
<path d="M1043.75,1284.25 C990.0,1284.25 965.0,1230.0 952.5,1192.5" fill="none" stroke="#e6e9f0" stroke-width="0.92"/>
<polygon points="951.75,1190.75 954.65,1196.12 952.558,1196.8" fill="#e6e9f0" stroke="#e6e9f0" stroke-width="0.575"/>
<text x="895" y="1252.53" font-size="10.5" fill="#f7f8fc" stroke="#f7f8fc" stroke-width="0.28" text-anchor="middle" textLength="40" lengthAdjust="spacingAndGlyphs">2x6 CJ</text>
<text x="896.25" y="1265.03" font-size="10.5" fill="#f7f8fc" stroke="#f7f8fc" stroke-width="0.28" text-anchor="middle" textLength="56" lengthAdjust="spacingAndGlyphs">@ 16" O.C.</text>
<line x1="838" y1="1255" x2="952" y2="1255" stroke="#e6e9f0" stroke-width="0.92"/>
<polygon points="837,1255 844,1253.9 844,1256.1" fill="#e6e9f0" stroke="#e6e9f0" stroke-width="0.575"/>
<polygon points="953,1255 946,1256.1 946,1253.9" fill="#e6e9f0" stroke="#e6e9f0" stroke-width="0.575"/>
<line x1="740" y1="1216.25" x2="756.25" y2="1216.25" stroke="#e2e43a" stroke-width="1.32"/>
<line x1="740" y1="1220" x2="756.25" y2="1220" stroke="#e2e43a" stroke-width="1.32"/>
<line x1="740" y1="1231.25" x2="758.75" y2="1231.25" stroke="#e2e43a" stroke-width="1.32"/>
<polyline points="756.25,1216.25 756.25,1222.5 804.5,1222.5" fill="none" stroke="#e6e9f0" stroke-width="1.035"/>
<polyline points="758.75,1228.75 767.5,1228.75 767.5,1222.5" fill="none" stroke="#e6e9f0" stroke-width="1.035"/>
<rect x="777.5" y="1222.5" width="16.25" height="11.25" fill="none" stroke="#e6e9f0" stroke-width="1.035"/>
<polyline points="772.5,1222.5 772.5,1240 801.25,1240 801.25,1228.75 810.5,1228.75 810.5,1220" fill="none" stroke="#e6e9f0" stroke-width="1.035"/>
<line x1="766.25" y1="1240" x2="766.25" y2="1294.75" stroke="#2cd6e6" stroke-width="1.32"/>
<line x1="772.5" y1="1240" x2="772.5" y2="1294.75" stroke="#e6e9f0" stroke-width="1.035"/>
<line x1="801.25" y1="1240" x2="801.25" y2="1294.75" stroke="#cfd3dd" stroke-width="1.32" stroke-dasharray="5 2.5"/>
<rect x="1043.75" y="880" width="25" height="53.75" fill="none" stroke="#e2e43a" stroke-width="1.56"/>
<line x1="1069.28" y1="880" x2="1069.28" y2="933.75" stroke="#e2e43a" stroke-width="0.96"/>
<line x1="1072.1" y1="880" x2="1072.1" y2="933.75" stroke="#e2e43a" stroke-width="0.96"/>
<line x1="1074.92" y1="880" x2="1074.92" y2="927.75" stroke="#e2e43a" stroke-width="0.96"/>
<line x1="1077.75" y1="880" x2="1077.75" y2="924.75" stroke="#e2e43a" stroke-width="0.96"/>
<line x1="1080.58" y1="880" x2="1080.58" y2="921.75" stroke="#e2e43a" stroke-width="0.96"/>
<line x1="1083.4" y1="880" x2="1083.4" y2="918.75" stroke="#e2e43a" stroke-width="0.96"/>
<polyline points="1072.5,880 1072.5,933.75 1068.75,933.75" fill="none" stroke="#e2e43a" stroke-width="1.08"/>
<polyline points="1076,880 1076,930.75 1068.75,930.75" fill="none" stroke="#e2e43a" stroke-width="1.08"/>
<polyline points="1079.5,880 1079.5,927.75 1068.75,927.75" fill="none" stroke="#e2e43a" stroke-width="1.08"/>
<polyline points="1083,880 1083,924.75 1068.75,924.75" fill="none" stroke="#e2e43a" stroke-width="1.08"/>
<polyline points="1086.5,880 1086.5,921.75 1068.75,921.75" fill="none" stroke="#e2e43a" stroke-width="1.08"/>
<polyline points="1087.5,880 1087.5,936.25" fill="none" stroke="#e6e9f0" stroke-width="1.035"/>
<polyline points="1093,880 1093,900 1097.5,900 1097.5,905" fill="none" stroke="#e6e9f0" stroke-width="1.035"/>
<polygon points="1152.5,905 1114.25,943.75 1112.83,942.345 1151.08,903.595" fill="none" stroke="#e2e43a" stroke-width="1.2"/>
<path d="M1114.25,943.75 A54.4484,54.4484 0 0 1 1098.75,905" fill="none" stroke="#e2e43a" stroke-width="1.2"/>
<polyline points="1152.5,901.25 1182.5,901.25" fill="none" stroke="#e6e9f0" stroke-width="1.035"/>
<line x1="1152.5" y1="906.25" x2="1182.5" y2="906.25" stroke="#e6e9f0" stroke-width="1.035"/>
<line x1="1152.5" y1="901.25" x2="1152.5" y2="906.25" stroke="#e6e9f0" stroke-width="1.035"/>
<polyline points="908.75,1013.75 908.75,936.25 988.75,936.25" fill="none" stroke="#e6e9f0" stroke-width="1.035"/>
<polyline points="914.5,1013.75 914.5,942 988.75,942" fill="none" stroke="#e6e9f0" stroke-width="1.035"/>
<line x1="988.75" y1="936.25" x2="988.75" y2="942" stroke="#e6e9f0" stroke-width="0.92"/>
<line x1="1042.5" y1="936.25" x2="1042.5" y2="942" stroke="#e6e9f0" stroke-width="0.92"/>
<line x1="988.75" y1="936.25" x2="1042.5" y2="936.25" stroke="#e2e43a" stroke-width="1.32" stroke-dasharray="7 3"/>
<line x1="988.75" y1="942" x2="1042.5" y2="942" stroke="#e2e43a" stroke-width="1.32" stroke-dasharray="7 3"/>
<line x1="1042.5" y1="936.25" x2="1092.5" y2="936.25" stroke="#e6e9f0" stroke-width="1.035"/>
<line x1="1042.5" y1="942" x2="1092.5" y2="942" stroke="#e6e9f0" stroke-width="1.035"/>
<line x1="908.75" y1="951.25" x2="914.5" y2="951.25" stroke="#e6e9f0" stroke-width="0.92"/>
<line x1="908.75" y1="1002.5" x2="914.5" y2="1002.5" stroke="#e6e9f0" stroke-width="0.92"/>
<line x1="908.75" y1="951.25" x2="908.75" y2="1002.5" stroke="#e2e43a" stroke-width="1.32" stroke-dasharray="7 3"/>
<line x1="914.5" y1="951.25" x2="914.5" y2="1002.5" stroke="#e2e43a" stroke-width="1.32" stroke-dasharray="7 3"/>
<line x1="1020" y1="885" x2="1020" y2="997" stroke="#e6e9f0" stroke-width="0.92"/>
<polygon points="1020,998 1018.9,991 1021.1,991" fill="#e6e9f0" stroke="#e6e9f0" stroke-width="0.575"/>
<line x1="1182.5" y1="885" x2="1182.5" y2="1013.75" stroke="#e6e9f0" stroke-width="1.035"/>
<line x1="1188.75" y1="905" x2="1188.75" y2="1013.75" stroke="#e6e9f0" stroke-width="1.035"/>
<rect x="1182" y="880" width="6.75" height="25" fill="url(#h)" stroke="#e6e9f0" stroke-width="0.805"/>
<text x="0" y="3.78" font-size="10.5" fill="#f7f8fc" stroke="#f7f8fc" stroke-width="0.28" text-anchor="middle" transform="translate(1176.25 967.5) rotate(-90)">DJ</text>
<line x1="1188.75" y1="895" x2="1253.75" y2="895" stroke="#2cd6e6" stroke-width="1.32"/>
<line x1="1188.75" y1="908.75" x2="1253.75" y2="908.75" stroke="#2cd6e6" stroke-width="1.32"/>
<line x1="1188.75" y1="923" x2="1253.75" y2="923" stroke="#2cd6e6" stroke-width="1.32"/>
<line x1="1188.75" y1="937" x2="1253.75" y2="937" stroke="#2cd6e6" stroke-width="1.32"/>
<rect x="1184.5" y="945.5" width="74.25" height="6.5" fill="none" stroke="#2cd6e6" stroke-width="1.32"/>
<line x1="1188.75" y1="948.75" x2="1255" y2="948.75" stroke="#e6e9f0" stroke-width="1.39725" stroke-dasharray="6 3"/>
<line x1="1188.75" y1="880" x2="1188.75" y2="945.5" stroke="#2cd6e6" stroke-width="1.32"/>
<line x1="1253.75" y1="880" x2="1253.75" y2="945.5" stroke="#2cd6e6" stroke-width="1.32"/>
<line x1="1158" y1="880" x2="1158" y2="900" stroke="#2cd6e6" stroke-width="1.32"/>
<line x1="1158" y1="900" x2="1182.5" y2="900" stroke="#2cd6e6" stroke-width="1.32"/>
<text x="1221.25" y="944.53" font-size="10.5" fill="#f7f8fc" stroke="#f7f8fc" stroke-width="0.28" text-anchor="middle" textLength="26" lengthAdjust="spacingAndGlyphs">2x10</text>
<line x1="1253.75" y1="952" x2="1253.75" y2="1013.75" stroke="#e6e9f0" stroke-width="1.035"/>
<line x1="1260" y1="880" x2="1260" y2="945.5" stroke="#2cd6e6" stroke-width="1.32"/>
<line x1="1260" y1="952" x2="1260" y2="1013.75" stroke="#e6e9f0" stroke-width="1.035"/>
<line x1="1256.75" y1="952" x2="1256.75" y2="1013.75" stroke="#e6e9f0" stroke-width="1.242" stroke-dasharray="16 3 3 3"/>
<circle cx="1257" cy="1016.25" r="4.5" fill="none" stroke="#e6e9f0" stroke-width="0.92"/>
<line x1="1222.5" y1="1013.75" x2="1292.75" y2="1013.75" stroke="#e6e9f0" stroke-width="1.035"/>
<line x1="1222.5" y1="1019.5" x2="1292.75" y2="1019.5" stroke="#e6e9f0" stroke-width="1.035"/>
<line x1="1222.5" y1="1016.5" x2="1292.75" y2="1016.5" stroke="#e6e9f0" stroke-width="1.242" stroke-dasharray="16 3 3 3"/>
<line x1="1222.5" y1="1026.25" x2="1292.75" y2="1026.25" stroke="#2cd6e6" stroke-width="1.32"/>
<path d="M1223.75,1021.25 C1237.5,1032.5 1240.0,1031.25 1248.75,1031.25" fill="none" stroke="#e6e9f0" stroke-width="0.92"/>
<line x1="1221.25" y1="1049.5" x2="1292.75" y2="1049.5" stroke="#e6e9f0" stroke-width="1.035"/>
<line x1="1221.25" y1="1055" x2="1292.75" y2="1055" stroke="#e6e9f0" stroke-width="1.035"/>
<polyline points="1223,1056.25 1223,1176.25 1257.5,1176.25" fill="none" stroke="#e2e43a" stroke-width="1.08"/>
<polyline points="1226.25,1056.25 1226.25,1174.3 1257.5,1174.3" fill="none" stroke="#e2e43a" stroke-width="1.08"/>
<polyline points="1229.5,1056.25 1229.5,1172.35 1257.5,1172.35" fill="none" stroke="#e2e43a" stroke-width="1.08"/>
<polyline points="1232.75,1056.25 1232.75,1170.4 1257.5,1170.4" fill="none" stroke="#e2e43a" stroke-width="1.08"/>
<polyline points="1236,1056.25 1236,1168.45 1257.5,1168.45" fill="none" stroke="#e2e43a" stroke-width="1.08"/>
<polyline points="1239.25,1056.25 1239.25,1166.5 1257.5,1166.5" fill="none" stroke="#e2e43a" stroke-width="1.08"/>
<polyline points="1257.5,1056.25 1257.5,1120 1282.5,1142.5 1292.75,1142.5" fill="none" stroke="#e2e43a" stroke-width="1.32"/>
<polyline points="1255,1160 1262.5,1167.5 1257.5,1176.25" fill="none" stroke="#e2e43a" stroke-width="1.2"/>
<path d="M1263.75,1056.25 L1263.75,1115.0 Q1265.0,1127.5 1273.75,1128.75" fill="none" stroke="#e6e9f0" stroke-width="1.035" stroke-dasharray="7 3"/>
<path d="M1285.0,1056.25 L1285.0,1115.0 Q1283.75,1127.5 1275.0,1128.75" fill="none" stroke="#e6e9f0" stroke-width="1.035" stroke-dasharray="7 3"/>
<line x1="1262.5" y1="1057.5" x2="1286.25" y2="1057.5" stroke="#e6e9f0" stroke-width="1.035"/>
<polygon points="1252.5,1122.5 1275,1146.25 1261.25,1159.5 1239.25,1135.5" fill="none" stroke="#2cd6e6" stroke-width="1.56"/>
<polygon points="1252.5,1127.5 1270.5,1146.25 1261.25,1155 1243.5,1136" fill="none" stroke="#2cd6e6" stroke-width="1.08"/>
<rect x="1263.75" y="1178.75" width="29" height="7.5" fill="none" stroke="#e2e43a" stroke-width="1.32"/>
<line x1="1263.75" y1="1182.5" x2="1292.75" y2="1182.5" stroke="#e2e43a" stroke-width="1.2"/>
<polyline points="1292.75,1192.5 1265,1192.5 1265,1228 1292.75,1228" fill="none" stroke="#e2e43a" stroke-width="1.44" stroke-dasharray="7 3"/>
<line x1="1263.75" y1="898" x2="1292.75" y2="898" stroke="#e6e9f0" stroke-width="0.92"/>
<polygon points="1262.5,898 1269.5,896.9 1269.5,899.1" fill="#e6e9f0" stroke="#e6e9f0" stroke-width="0.575"/>
<polygon points="1336.25,613.75 1373.75,653.75 1372.29,655.118 1334.79,615.118" fill="none" stroke="#e2e43a" stroke-width="1.2"/>
<path d="M1373.75,653.75 A54.8293,54.8293 0 0 1 1337.5,667.5" fill="none" stroke="#e2e43a" stroke-width="1.2"/>
<polyline points="1331.25,667.5 1331.25,785" fill="none" stroke="#e6e9f0" stroke-width="1.035"/>
<polyline points="1331.25,667.5 1337.5,667.5 1337.5,676.25 1378.75,676.25 1378.75,691.25 1372.5,691.25 1372.5,682.5 1337.5,682.5 1337.5,772.5 1372.5,772.5 1372.5,763.75 1378.75,763.75 1378.75,826.25" fill="none" stroke="#e6e9f0" stroke-width="1.035"/>
<polyline points="1377.5,692.5 1404.5,716.25 1386.25,725 1380,728.75 1386.25,732.5 1404.5,737 1377.5,762.5" fill="none" stroke="#e2e43a" stroke-width="1.32"/>
<polyline points="1379.25,691 1407,715.5 1388,726.25" fill="none" stroke="#e2e43a" stroke-width="1.32"/>
<polyline points="1388,731.25 1407,736.25 1379.25,764" fill="none" stroke="#e2e43a" stroke-width="1.32"/>
<line x1="1350.75" y1="682.5" x2="1350.75" y2="772.5" stroke="#cfd3dd" stroke-width="1.8" stroke-dasharray="6 2.5"/>
<line x1="1354.5" y1="682.5" x2="1354.5" y2="772.5" stroke="#2cd6e6" stroke-width="1.32"/>
<rect x="1337.5" y="778.75" width="36.25" height="47.5" fill="none" stroke="#e6e9f0" stroke-width="1.035"/>
<line x1="1355.5" y1="778.75" x2="1355.5" y2="826.25" stroke="#2cd6e6" stroke-width="1.32" stroke-dasharray="7 3"/>
<line x1="1359.5" y1="778.75" x2="1359.5" y2="826.25" stroke="#cfd3dd" stroke-width="1.8" stroke-dasharray="6 2.5"/>
<line x1="1331.25" y1="785" x2="1337.5" y2="785" stroke="#e6e9f0" stroke-width="1.035"/>
<line x1="1337.5" y1="772.5" x2="1337.5" y2="778.75" stroke="#e6e9f0" stroke-width="1.035"/>
<polygon points="1331.25,785 1307,808.75 1305.6,807.321 1329.85,783.571" fill="none" stroke="#e2e43a" stroke-width="1.2"/>
<path d="M1307,808.75 A33.943,33.943 0 0 0 1331.25,820" fill="none" stroke="#e2e43a" stroke-width="1.2"/>
<polyline points="1331.25,820 1331.25,885 1337.5,885 1337.5,832" fill="none" stroke="#e6e9f0" stroke-width="1.035"/>
<line x1="1331.25" y1="820" x2="1337.5" y2="820" stroke="#e6e9f0" stroke-width="1.035"/>
<line x1="1337.5" y1="820" x2="1337.5" y2="826.25" stroke="#e6e9f0" stroke-width="1.035"/>
<line x1="1337.5" y1="826.25" x2="1385" y2="826.25" stroke="#e6e9f0" stroke-width="1.035"/>
<line x1="1337.5" y1="832" x2="1385" y2="832" stroke="#e6e9f0" stroke-width="1.035"/>
<text x="1414.5" y="748.28" font-size="10.5" fill="#f7f8fc" stroke="#f7f8fc" stroke-width="0.28" textLength="65" lengthAdjust="spacingAndGlyphs">(2) 2x10 CJ</text>
<text x="1414.5" y="761.28" font-size="10.5" fill="#f7f8fc" stroke="#f7f8fc" stroke-width="0.28" textLength="65" lengthAdjust="spacingAndGlyphs">@ 19.2" O.C.</text>
<line x1="1290" y1="751.25" x2="1587.5" y2="751.25" stroke="#e6e9f0" stroke-width="0.92"/>
<polygon points="1588.75,751.25 1581.75,752.35 1581.75,750.15" fill="#e6e9f0" stroke="#e6e9f0" stroke-width="0.575"/>
<rect x="1602.5" y="612.5" width="14.5" height="88.75" fill="none" stroke="#e2e43a" stroke-width="1.32"/>
<line x1="1606.25" y1="612.5" x2="1606.25" y2="701.25" stroke="#e2e43a" stroke-width="1.2"/>
<line x1="1602.5" y1="657.5" x2="1608.75" y2="657.5" stroke="#e6e9f0" stroke-width="0.92"/>
<polyline points="1602.5,701.25 1602.5,716.25" fill="none" stroke="#e6e9f0" stroke-width="1.035"/>
<polyline points="1608.75,701.25 1608.75,710" fill="none" stroke="#e6e9f0" stroke-width="1.035"/>
<rect x="1602.5" y="716.25" width="6.25" height="115" fill="url(#h)" stroke="#e6e9f0" stroke-width="0.805"/>
<rect x="1385" y="826.25" width="217.5" height="5.75" fill="url(#h)" stroke="#e6e9f0" stroke-width="0.805"/>
<rect x="1592.5" y="826.25" width="8.75" height="5.75" fill="#e6e9f0" stroke="#e6e9f0" stroke-width="1.15"/>
<text x="1593.75" y="820.24" font-size="9" fill="#f7f8fc" stroke="#f7f8fc" stroke-width="0.28" text-anchor="middle">4</text>
<rect x="1385" y="832" width="6.25" height="182.75" fill="url(#h)" stroke="#e6e9f0" stroke-width="0.805"/>
<rect x="1385" y="882.5" width="6.25" height="8.75" fill="#e6e9f0" stroke="#e6e9f0" stroke-width="1.15"/>
<rect x="1385" y="981.25" width="6.25" height="6.25" fill="#e6e9f0" stroke="#e6e9f0" stroke-width="1.15"/>
<text x="1396.25" y="901.99" font-size="9" fill="#f7f8fc" stroke="#f7f8fc" stroke-width="0.28" text-anchor="middle">2</text>
<text x="1396.25" y="985.74" font-size="9" fill="#f7f8fc" stroke="#f7f8fc" stroke-width="0.28" text-anchor="middle">2</text>
<polyline points="1608.75,702.5 1817.5,702.5 1817.5,757.5" fill="none" stroke="#e6e9f0" stroke-width="1.035"/>
<polyline points="1608.75,710 1811.25,710 1811.25,760 1817.5,757.5" fill="none" stroke="#e6e9f0" stroke-width="1.035"/>
<polyline points="1608.75,716.25 1805,716.25 1805,762.5 1811.25,760" fill="none" stroke="#e6e9f0" stroke-width="1.035"/>
<text x="1700.5" y="769.28" font-size="10.5" fill="#f7f8fc" stroke="#f7f8fc" stroke-width="0.28" text-anchor="middle" textLength="108" lengthAdjust="spacingAndGlyphs">2x10 CJ @ 16" O.C.</text>
<line x1="1618" y1="770.75" x2="1783.75" y2="770.75" stroke="#e6e9f0" stroke-width="0.92"/>
<polygon points="1617,770.75 1624,769.65 1624,771.85" fill="#e6e9f0" stroke="#e6e9f0" stroke-width="0.575"/>
<polygon points="1785,770.75 1778,771.85 1778,769.65" fill="#e6e9f0" stroke="#e6e9f0" stroke-width="0.575"/>
<polygon points="1806.25,762.5 1767.5,800 1766.11,798.563 1804.86,761.063" fill="none" stroke="#e2e43a" stroke-width="1.2"/>
<path d="M1767.5,800 A53.9241,53.9241 0 0 0 1806.25,815" fill="none" stroke="#e2e43a" stroke-width="1.2"/>
<line x1="1820" y1="757.5" x2="1820" y2="817.5" stroke="#e2e43a" stroke-width="1.32"/>
<line x1="1817.5" y1="757.5" x2="1820" y2="757.5" stroke="#e2e43a" stroke-width="1.2"/>
<line x1="1817.5" y1="817.5" x2="1820" y2="817.5" stroke="#e2e43a" stroke-width="1.2"/>
<polyline points="1805,815 1811.25,817.5 1817.5,820 1817.5,865 1811.25,865" fill="none" stroke="#e6e9f0" stroke-width="1.035"/>
<line x1="1805" y1="815" x2="1805" y2="861.25" stroke="#e6e9f0" stroke-width="1.035"/>
<line x1="1811.25" y1="817.5" x2="1811.25" y2="861.25" stroke="#e6e9f0" stroke-width="1.035"/>
<text x="1750.5" y="831.78" font-size="10.5" fill="#f7f8fc" stroke="#f7f8fc" stroke-width="0.28" text-anchor="middle" textLength="42" lengthAdjust="spacingAndGlyphs">(4) 2x6</text>
<text x="1750.5" y="843.78" font-size="10.5" fill="#f7f8fc" stroke="#f7f8fc" stroke-width="0.28" text-anchor="middle" textLength="38" lengthAdjust="spacingAndGlyphs">STUDS</text>
<path d="M1775.0,828.75 C1792.5,828.75 1790.0,847.5 1802.0,859.5" fill="none" stroke="#e6e9f0" stroke-width="0.92"/>
<polygon points="1803,861 1798.66,856.716 1800.46,855.454" fill="#e6e9f0" stroke="#e6e9f0" stroke-width="0.575"/>
<text x="1703.75" y="857.53" font-size="10.5" fill="#f7f8fc" stroke="#f7f8fc" stroke-width="0.28" text-anchor="middle" textLength="32" lengthAdjust="spacingAndGlyphs">12'-0"</text>
<line x1="1596.25" y1="860" x2="1802.5" y2="860" stroke="#e6e9f0" stroke-width="0.92"/>
<line x1="1591.25" y1="863.75" x2="1601.25" y2="856.25" stroke="#e6e9f0" stroke-width="0.92"/>
<line x1="1807.5" y1="862.5" x2="1815" y2="856.25" stroke="#e6e9f0" stroke-width="0.92"/>
<rect x="1801.25" y="861.25" width="10" height="8.75" fill="#e6e9f0" stroke="#e6e9f0" stroke-width="1.15"/>
<polyline points="1802.5,868.75 1679.5,868.75 1679.5,1014.75" fill="none" stroke="#e2e43a" stroke-width="1.56" stroke-dasharray="8 3"/>
<line x1="1802.5" y1="870" x2="1802.5" y2="1014.75" stroke="#e2e43a" stroke-width="1.32"/>
<line x1="1805" y1="870" x2="1805" y2="1014.75" stroke="#e2e43a" stroke-width="1.32"/>
<line x1="1808.75" y1="870" x2="1808.75" y2="1014.75" stroke="#e6e9f0" stroke-width="1.39725" stroke-dasharray="7 3"/>
<line x1="1811.25" y1="870" x2="1811.25" y2="1014.75" stroke="#e6e9f0" stroke-width="1.035"/>
<polyline points="1817.5,865 1830,857.5 1830,1014.75" fill="none" stroke="#e2e43a" stroke-width="1.32"/>
<line x1="1817.5" y1="865" x2="1826.25" y2="865" stroke="#e2e43a" stroke-width="1.2"/>
<text x="1702.5" y="889.53" font-size="10.5" fill="#f7f8fc" stroke="#f7f8fc" stroke-width="0.28" text-anchor="middle">DJ</text>
<line x1="1596.25" y1="892.5" x2="1807.5" y2="892.5" stroke="#e6e9f0" stroke-width="1.035"/>
<line x1="1596.25" y1="898.75" x2="1807.5" y2="898.75" stroke="#e6e9f0" stroke-width="1.035"/>
<line x1="1596.25" y1="895.5" x2="1807.5" y2="895.5" stroke="#e6e9f0" stroke-width="1.242" stroke-dasharray="16 3 3 3"/>
<line x1="1592.5" y1="832" x2="1592.5" y2="1014.75" stroke="#e6e9f0" stroke-width="1.035"/>
<line x1="1600" y1="832" x2="1600" y2="1014.75" stroke="#e6e9f0" stroke-width="1.035"/>
<line x1="1596.25" y1="832" x2="1596.25" y2="1014.75" stroke="#e6e9f0" stroke-width="1.242" stroke-dasharray="16 3 3 3"/>
<line x1="1391.25" y1="882.5" x2="1596.25" y2="882.5" stroke="#e6e9f0" stroke-width="1.035"/>
<line x1="1391.25" y1="891.25" x2="1596.25" y2="891.25" stroke="#e6e9f0" stroke-width="1.035"/>
<line x1="1391.25" y1="885" x2="1592.5" y2="885" stroke="#e6e9f0" stroke-width="1.39725" stroke-dasharray="14 5"/>
<line x1="1391.25" y1="888.75" x2="1592.5" y2="888.75" stroke="#e6e9f0" stroke-width="1.39725" stroke-dasharray="14 5"/>
<text x="1494.5" y="878.24" font-size="9" fill="#f7f8fc" stroke="#f7f8fc" stroke-width="0.28" text-anchor="middle">TJ</text>
<circle cx="1597" cy="887" r="4.5" fill="none" stroke="#e6e9f0" stroke-width="0.92"/>
<line x1="1427.5" y1="883.25" x2="1435" y2="890.75" stroke="#e6e9f0" stroke-width="1.38"/>
<line x1="1435" y1="883.25" x2="1427.5" y2="890.75" stroke="#e6e9f0" stroke-width="1.38"/>
<text x="1465" y="851.28" font-size="10.5" fill="#f7f8fc" stroke="#f7f8fc" stroke-width="0.28" text-anchor="middle" textLength="47" lengthAdjust="spacingAndGlyphs">VALLEY</text>
<text x="1465" y="864.28" font-size="10.5" fill="#f7f8fc" stroke="#f7f8fc" stroke-width="0.28" text-anchor="middle" textLength="30" lengthAdjust="spacingAndGlyphs">BRG.</text>
<path d="M1440.0,848.0 C1410.0,846.25 1425.0,865.0 1429.5,882.0" fill="none" stroke="#e6e9f0" stroke-width="0.92"/>
<polygon points="1430,883.75 1427.38,878.239 1429.51,877.67" fill="#e6e9f0" stroke="#e6e9f0" stroke-width="0.575"/>
<text x="1530.75" y="919.28" font-size="10.5" fill="#f7f8fc" stroke="#f7f8fc" stroke-width="0.28" text-anchor="middle" textLength="52" lengthAdjust="spacingAndGlyphs">SIMPSON</text>
<text x="1530.75" y="931.78" font-size="10.5" fill="#f7f8fc" stroke="#f7f8fc" stroke-width="0.28" text-anchor="middle" textLength="57" lengthAdjust="spacingAndGlyphs">LUS 210-3</text>
<text x="1530.75" y="944.28" font-size="10.5" fill="#f7f8fc" stroke="#f7f8fc" stroke-width="0.28" text-anchor="middle" textLength="50" lengthAdjust="spacingAndGlyphs">FOR LVL</text>
<text x="1530.75" y="956.78" font-size="10.5" fill="#f7f8fc" stroke="#f7f8fc" stroke-width="0.28" text-anchor="middle" textLength="44" lengthAdjust="spacingAndGlyphs">OPTION</text>
<path d="M1560.0,915.5 C1585.0,916.25 1580.0,905.0 1593.0,892.5" fill="none" stroke="#e6e9f0" stroke-width="0.92"/>
<text x="1439.5" y="995.03" font-size="10.5" fill="#f7f8fc" stroke="#f7f8fc" stroke-width="0.28" text-anchor="middle" textLength="46" lengthAdjust="spacingAndGlyphs">(2) 2x10</text>
<path d="M1415.0,990.75 C1402.5,990.75 1402.5,995.0 1394.5,1000.0" fill="none" stroke="#e6e9f0" stroke-width="0.92"/>
<polygon points="1393,1001 1397.65,997.047 1398.75,998.953" fill="#e6e9f0" stroke="#e6e9f0" stroke-width="0.575"/>
<path d="M1346.25,833.75 L1376.25,833.75 L1376.25,846.25 Q1361.25,851.25 1346.25,846.25 Z" fill="none" stroke="#2cd6e6" stroke-width="1.32"/>
<ellipse cx="1361.25" cy="865.5" rx="11" ry="14" fill="none" stroke="#2cd6e6" stroke-width="1.32"/>
<ellipse cx="1360.75" cy="938.75" rx="12.5" ry="11" fill="none" stroke="#2cd6e6" stroke-width="1.32"/>
<ellipse cx="1360.75" cy="939.5" rx="9" ry="7.5" fill="none" stroke="#2cd6e6" stroke-width="1.08"/>
<circle cx="1360.75" cy="945" r="1.3" fill="none" stroke="#2cd6e6" stroke-width="1.2"/>
<line x1="1337.5" y1="936.25" x2="1348.25" y2="936.25" stroke="#2cd6e6" stroke-width="1.32"/>
<line x1="1373.25" y1="936.25" x2="1385" y2="936.25" stroke="#2cd6e6" stroke-width="1.32"/>
<line x1="1337.5" y1="832" x2="1337.5" y2="885" stroke="#e6e9f0" stroke-width="1.035"/>
<polyline points="1337.5,927.5 1337.5,956.25 1385,956.25" fill="none" stroke="#e6e9f0" stroke-width="1.035"/>
<polyline points="1331.25,927.5 1331.25,962.5 1385,962.5" fill="none" stroke="#e6e9f0" stroke-width="1.035"/>
<line x1="1331.25" y1="927.5" x2="1337.5" y2="927.5" stroke="#e6e9f0" stroke-width="1.035"/>
<polygon points="1331.25,885 1303.75,913.75 1302.3,912.368 1329.8,883.618" fill="none" stroke="#e2e43a" stroke-width="1.2"/>
<path d="M1303.75,913.75 A39.7846,39.7846 0 0 0 1331.25,927.5" fill="none" stroke="#e2e43a" stroke-width="1.2"/>
<text x="0" y="3.78" font-size="10.5" fill="#f7f8fc" stroke="#f7f8fc" stroke-width="0.28" text-anchor="middle" transform="translate(1585 1001) rotate(-90)" textLength="127" lengthAdjust="spacingAndGlyphs">W12x22 DROPPED OR</text>
<text x="0" y="3.78" font-size="10.5" fill="#f7f8fc" stroke="#f7f8fc" stroke-width="0.28" text-anchor="middle" transform="translate(1610 993.5) rotate(-90)" textLength="157" lengthAdjust="spacingAndGlyphs">(2) 1.75x20 LVL TOP FLUSH</text>
<text x="0" y="3.78" font-size="10.5" fill="#f7f8fc" stroke="#f7f8fc" stroke-width="0.28" text-anchor="middle" transform="translate(1823.5 1022) rotate(-90)" textLength="205" lengthAdjust="spacingAndGlyphs">W10x26 w/ 1/4"x10 PLATE WELDED</text>
<text x="0" y="3.78" font-size="10.5" fill="#f7f8fc" stroke="#f7f8fc" stroke-width="0.28" text-anchor="middle" transform="translate(1837 1017.7) rotate(-90)" textLength="109" lengthAdjust="spacingAndGlyphs">TO BOTTOM FLANGE</text>
<text x="1490" y="1028.78" font-size="10.5" fill="#f7f8fc" stroke="#f7f8fc" stroke-width="0.28" text-anchor="middle" textLength="108" lengthAdjust="spacingAndGlyphs">2x10 CJ @ 16" O.C.</text>
<line x1="1407" y1="1030" x2="1573" y2="1030" stroke="#e6e9f0" stroke-width="0.92"/>
<polygon points="1406,1030 1413,1028.9 1413,1031.1" fill="#e6e9f0" stroke="#e6e9f0" stroke-width="0.575"/>
<polygon points="1574,1030 1567,1031.1 1567,1028.9" fill="#e6e9f0" stroke="#e6e9f0" stroke-width="0.575"/>
<rect x="1385" y="1040" width="6.25" height="7" fill="#e6e9f0" stroke="#e6e9f0" stroke-width="1.15"/>
<text x="1397" y="1046.24" font-size="9" fill="#f7f8fc" stroke="#f7f8fc" stroke-width="0.28" text-anchor="middle">2</text>
<text x="1702.5" y="1080.03" font-size="10.5" fill="#f7f8fc" stroke="#f7f8fc" stroke-width="0.28" text-anchor="middle">DJ</text>
<line x1="1596.25" y1="1083.75" x2="1807.5" y2="1083.75" stroke="#e6e9f0" stroke-width="1.035"/>
<line x1="1596.25" y1="1090" x2="1807.5" y2="1090" stroke="#e6e9f0" stroke-width="1.035"/>
<line x1="1596.25" y1="1086.75" x2="1807.5" y2="1086.75" stroke="#e6e9f0" stroke-width="1.242" stroke-dasharray="16 3 3 3"/>
<text x="1703.75" y="1120.03" font-size="10.5" fill="#f7f8fc" stroke="#f7f8fc" stroke-width="0.28" text-anchor="middle" textLength="108" lengthAdjust="spacingAndGlyphs">2x10 CJ @ 16" O.C.</text>
<line x1="1621" y1="1121.25" x2="1788" y2="1121.25" stroke="#e6e9f0" stroke-width="0.92"/>
<polygon points="1620,1121.25 1627,1120.15 1627,1122.35" fill="#e6e9f0" stroke="#e6e9f0" stroke-width="0.575"/>
<polygon points="1789,1121.25 1782,1122.35 1782,1120.15" fill="#e6e9f0" stroke="#e6e9f0" stroke-width="0.575"/>
<text x="1737" y="1142.53" font-size="10.5" fill="#f7f8fc" stroke="#f7f8fc" stroke-width="0.28" text-anchor="middle" textLength="42" lengthAdjust="spacingAndGlyphs">(4) 2x6</text>
<text x="1737" y="1154.28" font-size="10.5" fill="#f7f8fc" stroke="#f7f8fc" stroke-width="0.28" text-anchor="middle" textLength="38" lengthAdjust="spacingAndGlyphs">STUDS</text>
<path d="M1762.5,1139.5 C1790.0,1137.5 1790.0,1165.0 1802.0,1187.0" fill="none" stroke="#e6e9f0" stroke-width="0.92"/>
<polygon points="1803,1189 1799.21,1184.22 1801.15,1183.19" fill="#e6e9f0" stroke="#e6e9f0" stroke-width="0.575"/>
<polyline points="1679.5,1010 1679.5,1190 1802.5,1190" fill="none" stroke="#e2e43a" stroke-width="1.56" stroke-dasharray="8 3"/>
<polyline points="1802.5,1244.25 1679.5,1244.25 1679.5,1404.5 1802.5,1404.5" fill="none" stroke="#e2e43a" stroke-width="1.56" stroke-dasharray="8 3"/>
<line x1="1802.5" y1="1010" x2="1802.5" y2="1190" stroke="#e2e43a" stroke-width="1.32"/>
<line x1="1805" y1="1010" x2="1805" y2="1190" stroke="#e2e43a" stroke-width="1.32"/>
<line x1="1808.75" y1="1010" x2="1808.75" y2="1190" stroke="#e6e9f0" stroke-width="1.39725" stroke-dasharray="7 3"/>
<line x1="1811.25" y1="1010" x2="1811.25" y2="1190" stroke="#e6e9f0" stroke-width="1.035"/>
<line x1="1802.5" y1="1244.25" x2="1802.5" y2="1405" stroke="#e2e43a" stroke-width="1.32"/>
<line x1="1805" y1="1244.25" x2="1805" y2="1405" stroke="#e2e43a" stroke-width="1.32"/>
<line x1="1808.75" y1="1244.25" x2="1808.75" y2="1405" stroke="#e6e9f0" stroke-width="1.39725" stroke-dasharray="7 3"/>
<line x1="1811.25" y1="1244.25" x2="1811.25" y2="1405" stroke="#e6e9f0" stroke-width="1.035"/>
<line x1="1811.25" y1="1190" x2="1811.25" y2="1244.25" stroke="#e6e9f0" stroke-width="1.035"/>
<rect x="1802" y="1190" width="9.25" height="7.5" fill="#e6e9f0" stroke="#e6e9f0" stroke-width="1.15"/>
<rect x="1803.75" y="1211.25" width="7.5" height="8.75" fill="#e6e9f0" stroke="#e6e9f0" stroke-width="1.15"/>
<rect x="1803.75" y="1238" width="7.5" height="6.25" fill="#e6e9f0" stroke="#e6e9f0" stroke-width="1.15"/>
<rect x="1803.75" y="1405" width="7.5" height="7" fill="#e6e9f0" stroke="#e6e9f0" stroke-width="1.15"/>
<polyline points="1830,1010 1830,1202.5 1817.5,1202.5 1817.5,1193.75 1830,1202.5" fill="none" stroke="#e2e43a" stroke-width="1.32"/>
<line x1="1811.25" y1="1193.75" x2="1817.5" y2="1193.75" stroke="#e6e9f0" stroke-width="1.035"/>
<polyline points="1817.5,1241.25 1830,1232.5 1830,1417.5 1817.5,1408.75 1817.5,1417.5 1830,1417.5" fill="none" stroke="#e2e43a" stroke-width="1.32"/>
<polyline points="1811.25,1241.25 1817.5,1241.25 1817.5,1202.5" fill="none" stroke="#e6e9f0" stroke-width="1.035"/>
<line x1="1817.5" y1="1232.5" x2="1830" y2="1232.5" stroke="#e2e43a" stroke-width="1.2"/>
<line x1="1811.25" y1="1408.75" x2="1817.5" y2="1408.75" stroke="#e6e9f0" stroke-width="1.035"/>
<text x="1493.75" y="1177.53" font-size="10.5" fill="#f7f8fc" stroke="#f7f8fc" stroke-width="0.28" text-anchor="middle">DJ</text>
<line x1="1391.25" y1="1180" x2="1596.25" y2="1180" stroke="#e6e9f0" stroke-width="1.035"/>
<line x1="1391.25" y1="1186.25" x2="1596.25" y2="1186.25" stroke="#e6e9f0" stroke-width="1.035"/>
<line x1="1391.25" y1="1183" x2="1596.25" y2="1183" stroke="#e6e9f0" stroke-width="1.242" stroke-dasharray="16 3 3 3"/>
<text x="1622" y="1176.28" font-size="10.5" fill="#f7f8fc" stroke="#f7f8fc" stroke-width="0.28" textLength="130" lengthAdjust="spacingAndGlyphs">DETAIL Ⓒ FOR STEEL</text>
<text x="1622" y="1188.28" font-size="10.5" fill="#f7f8fc" stroke="#f7f8fc" stroke-width="0.28" textLength="130" lengthAdjust="spacingAndGlyphs">OPTION: SIMPSON HWU</text>
<text x="1622" y="1200.78" font-size="10.5" fill="#f7f8fc" stroke="#f7f8fc" stroke-width="0.28" textLength="118" lengthAdjust="spacingAndGlyphs">FOR (3) 1.75x20 LVL</text>
<path d="M1621.25,1172.5 C1607.5,1172.5 1612.5,1190.0 1604.25,1205.5" fill="none" stroke="#e6e9f0" stroke-width="0.92"/>
<polygon points="1603.5,1207.5 1604.73,1201.52 1606.77,1202.35" fill="#e6e9f0" stroke="#e6e9f0" stroke-width="0.575"/>
<polyline points="1580,1208.75 1589.5,1208.75 1589.5,1200" fill="none" stroke="#e6e9f0" stroke-width="0.805"/>
<polyline points="1603.75,1208.75 1612.5,1208.75" fill="none" stroke="#e6e9f0" stroke-width="0.805"/>
<line x1="1385" y1="1211.25" x2="1811.25" y2="1211.25" stroke="#e6e9f0" stroke-width="1.035"/>
<line x1="1385" y1="1221.25" x2="1811.25" y2="1221.25" stroke="#e6e9f0" stroke-width="1.035"/>
<line x1="1391.25" y1="1216.25" x2="1803.75" y2="1216.25" stroke="#e6e9f0" stroke-width="1.242" stroke-dasharray="16 3 3 3"/>
<rect x="1385" y="1211.25" width="6.25" height="10" fill="#e6e9f0" stroke="#e6e9f0" stroke-width="1.15"/>
<line x1="1592.5" y1="1010" x2="1592.5" y2="1211.25" stroke="#e6e9f0" stroke-width="1.035"/>
<line x1="1600" y1="1010" x2="1600" y2="1211.25" stroke="#e6e9f0" stroke-width="1.035"/>
<line x1="1596.25" y1="1010" x2="1596.25" y2="1216.25" stroke="#e6e9f0" stroke-width="1.242" stroke-dasharray="16 3 3 3"/>
<text x="1398.75" y="1233.74" font-size="9" fill="#f7f8fc" stroke="#f7f8fc" stroke-width="0.28" text-anchor="middle">5</text>
<text x="1800" y="1229.49" font-size="9" fill="#f7f8fc" stroke="#f7f8fc" stroke-width="0.28" text-anchor="middle">5</text>
<text x="1800" y="1241.24" font-size="9" fill="#f7f8fc" stroke="#f7f8fc" stroke-width="0.28" text-anchor="middle">2</text>
<text x="1800" y="1415.24" font-size="9" fill="#f7f8fc" stroke="#f7f8fc" stroke-width="0.28" text-anchor="middle">2</text>
<text x="1595.5" y="1233.28" font-size="10.5" fill="#f7f8fc" stroke="#f7f8fc" stroke-width="0.28" text-anchor="middle" textLength="132" lengthAdjust="spacingAndGlyphs">W12x30 DROPPED OR</text>
<text x="1598" y="1245.78" font-size="10.5" fill="#f7f8fc" stroke="#f7f8fc" stroke-width="0.28" text-anchor="middle" textLength="159" lengthAdjust="spacingAndGlyphs">(3) 1.75x20 LVL TOP FLUSH</text>
<text x="0" y="3.78" font-size="10.5" fill="#f7f8fc" stroke="#f7f8fc" stroke-width="0.28" text-anchor="middle" transform="translate(1470 1335) rotate(-90)" textLength="34" lengthAdjust="spacingAndGlyphs">13'-0"</text>
<line x1="1477" y1="1221.25" x2="1477" y2="1424.75" stroke="#e6e9f0" stroke-width="0.92"/>
<line x1="1472.5" y1="1211.25" x2="1481.25" y2="1220" stroke="#e6e9f0" stroke-width="0.92"/>
<text x="0" y="3.78" font-size="10.5" fill="#f7f8fc" stroke="#f7f8fc" stroke-width="0.28" text-anchor="middle" transform="translate(1585.5 1349.5) rotate(-90)" textLength="45" lengthAdjust="spacingAndGlyphs">2x10 CJ</text>
<text x="0" y="3.78" font-size="10.5" fill="#f7f8fc" stroke="#f7f8fc" stroke-width="0.28" text-anchor="middle" transform="translate(1599 1349.5) rotate(-90)" textLength="56" lengthAdjust="spacingAndGlyphs">@ 16" O.C.</text>
<line x1="1592.5" y1="1269.5" x2="1592.5" y2="1424.75" stroke="#e6e9f0" stroke-width="0.92"/>
<polygon points="1592.5,1268.5 1593.6,1275.5 1591.4,1275.5" fill="#e6e9f0" stroke="#e6e9f0" stroke-width="0.575"/>
<text x="0" y="3.78" font-size="10.5" fill="#f7f8fc" stroke="#f7f8fc" stroke-width="0.28" text-anchor="middle" transform="translate(1825 1318) rotate(-90)" textLength="101" lengthAdjust="spacingAndGlyphs">(2) 2x12 w/ LINTEL</text>
<text x="0" y="3.78" font-size="10.5" fill="#f7f8fc" stroke="#f7f8fc" stroke-width="0.28" text-anchor="middle" transform="translate(1837.5 1320) rotate(-90)" textLength="66" lengthAdjust="spacingAndGlyphs">6"x4"x5/16"</text>
<text x="0" y="3.78" font-size="10.5" fill="#f7f8fc" stroke="#f7f8fc" stroke-width="0.28" text-anchor="middle" transform="translate(1890.6 1164) rotate(-90)" textLength="207" lengthAdjust="spacingAndGlyphs">SHEATH OUTER AND INNER FACE</text>
<text x="0" y="3.78" font-size="10.5" fill="#f7f8fc" stroke="#f7f8fc" stroke-width="0.28" text-anchor="middle" transform="translate(1903.3 1169.9) rotate(-90)" textLength="230.7" lengthAdjust="spacingAndGlyphs">OF ENTIRE GARAGE ENTRY WALL WITH</text>
<text x="0" y="3.78" font-size="10.5" fill="#f7f8fc" stroke="#f7f8fc" stroke-width="0.28" text-anchor="middle" transform="translate(1916.5 1169) rotate(-90)" textLength="233.5" lengthAdjust="spacingAndGlyphs">MINIMUM 3/8" OSB OR CDX PLYWOOD.</text>
<path d="M1889.4048376830044,1054.506683640993 L1889.4048376830044,947.0910248249522 C1889.4048376830044,879.4589433481858 1859.5671546785486,851.6104392106938 1823.7619350732018,834.9013367281987" fill="none" stroke="#e6e9f0" stroke-width="0.92"/>
<polygon points="1820.98,833.31 1826.88,834.849 1825.95,836.843" fill="#e6e9f0" stroke="#e6e9f0" stroke-width="0.575"/>
<path d="M1888.2113303628262,1271.3271801400383 C1883.4373010821132,1293.208147676639 1869.5130490133672,1297.1865054105665 1857.577975811585,1277.2947167409293 C1843.653723742839,1253.4245703373647 1835.697008274984,1221.5977084659453 1822.9662635264162,1208.071292170592" fill="none" stroke="#e6e9f0" stroke-width="0.92"/>
<polygon points="1821.37,1205.68 1825.72,1209.97 1823.92,1211.23" fill="#e6e9f0" stroke="#e6e9f0" stroke-width="0.575"/>
<path d="M1888.2113303628262,1271.3271801400383 C1889.4048376830044,1344.9267982176957 1871.502227880331,1392.667091024825 1825.3532781667727,1418.9242520687462" fill="none" stroke="#e6e9f0" stroke-width="0.92"/>
<polygon points="1822.57,1420.91 1827.21,1416.96 1828.31,1418.87" fill="#e6e9f0" stroke="#e6e9f0" stroke-width="0.575"/>
<line x1="1385" y1="1221.25" x2="1385" y2="1424.75" stroke="#e6e9f0" stroke-width="1.035"/>
<line x1="1391.25" y1="1221.25" x2="1391.25" y2="1424.75" stroke="#e6e9f0" stroke-width="1.035"/>
<rect x="1385" y="1047" width="6.25" height="130.5" fill="url(#h)" stroke="#e6e9f0" stroke-width="0.805"/>
<line x1="1385" y1="1177.5" x2="1385" y2="1211.25" stroke="#e6e9f0" stroke-width="1.035"/>
<line x1="1391.25" y1="1186.25" x2="1391.25" y2="1211.25" stroke="#e6e9f0" stroke-width="1.035"/>
<line x1="1380" y1="1185" x2="1385" y2="1185" stroke="#e6e9f0" stroke-width="1.035"/>
<polyline points="1391.25,1290 1391.25,1442 1487.5,1442" fill="none" stroke="#e6e9f0" stroke-width="1.035"/>
<line x1="1541.25" y1="1442" x2="1654.5" y2="1442" stroke="#e6e9f0" stroke-width="1.035"/>
<polyline points="1708,1442 1806.25,1442 1806.25,1412" fill="none" stroke="#e6e9f0" stroke-width="1.035"/>
<polyline points="1385.5,1290 1385.5,1448.75 1487.5,1448.75" fill="none" stroke="#e6e9f0" stroke-width="1.035"/>
<line x1="1541.25" y1="1448.75" x2="1654.5" y2="1448.75" stroke="#e6e9f0" stroke-width="1.035"/>
<polyline points="1708,1448.75 1811.25,1448.75 1811.25,1412" fill="none" stroke="#e6e9f0" stroke-width="1.035"/>
<polyline points="1377.5,1290 1377.5,1455.75 1818.75,1455.75 1818.75,1417.5" fill="none" stroke="#e6e9f0" stroke-width="1.035"/>
<line x1="1377.5" y1="1448.75" x2="1385.5" y2="1448.75" stroke="#e6e9f0" stroke-width="1.035"/>
<line x1="1811.25" y1="1448.75" x2="1818.75" y2="1448.75" stroke="#e6e9f0" stroke-width="1.035"/>
<line x1="1487.5" y1="1442" x2="1541.25" y2="1442" stroke="#e2e43a" stroke-width="1.32"/>
<line x1="1487.5" y1="1445.5" x2="1541.25" y2="1445.5" stroke="#e2e43a" stroke-width="1.32"/>
<line x1="1487.5" y1="1448.75" x2="1541.25" y2="1448.75" stroke="#e2e43a" stroke-width="1.32"/>
<line x1="1487.5" y1="1442" x2="1487.5" y2="1448.75" stroke="#e6e9f0" stroke-width="0.92"/>
<line x1="1541.25" y1="1442" x2="1541.25" y2="1448.75" stroke="#e6e9f0" stroke-width="0.92"/>
<line x1="1654.5" y1="1442" x2="1708" y2="1442" stroke="#e2e43a" stroke-width="1.32"/>
<line x1="1654.5" y1="1445.5" x2="1708" y2="1445.5" stroke="#e2e43a" stroke-width="1.32"/>
<line x1="1654.5" y1="1448.75" x2="1708" y2="1448.75" stroke="#e2e43a" stroke-width="1.32"/>
<line x1="1654.5" y1="1442" x2="1654.5" y2="1448.75" stroke="#e6e9f0" stroke-width="0.92"/>
<line x1="1708" y1="1442" x2="1708" y2="1448.75" stroke="#e6e9f0" stroke-width="0.92"/>
<polyline points="1480,1448.75 1480,1451.75 1485,1451.75 1485,1448.75" fill="none" stroke="#e6e9f0" stroke-width="0.805"/>
<polyline points="1544.25,1448.75 1544.25,1451.75 1651.75,1451.75 1651.75,1448.75" fill="none" stroke="#e6e9f0" stroke-width="0.805"/>
<polyline points="1711.25,1448.75 1711.25,1451.75 1818.75,1451.75" fill="none" stroke="#e6e9f0" stroke-width="0.805"/>
<line x1="1477" y1="1290" x2="1477" y2="1448.75" stroke="#e6e9f0" stroke-width="0.92"/>
<line x1="1472" y1="1443.75" x2="1481.25" y2="1453" stroke="#e6e9f0" stroke-width="0.92"/>
<line x1="1592.5" y1="1290" x2="1592.5" y2="1430" stroke="#e6e9f0" stroke-width="0.92"/>
<polygon points="1592.5,1431.5 1591.4,1424.5 1593.6,1424.5" fill="#e6e9f0" stroke="#e6e9f0" stroke-width="0.575"/>
<line x1="1818.75" y1="1417.5" x2="1830" y2="1417.5" stroke="#e2e43a" stroke-width="1.32"/>
<text x="1286.83" y="922.225" font-size="10.5" fill="#f7f8fc" stroke="#f7f8fc" stroke-width="0.28" textLength="94.9892" lengthAdjust="spacingAndGlyphs">(2) 1.75x9.25 LVL</text>
<path d="M1285.296649246849,917.6759913925607 C1276.0743928681218,917.6759913925607 1271.4632646787582,923.0556409468184 1262.5484168459884,927.9741776821396" fill="none" stroke="#e6e9f0" stroke-width="0.92"/>
<polygon points="1261.47,928.589 1266.25,924.801 1267.29,926.743" fill="#e6e9f0" stroke="#e6e9f0" stroke-width="0.575"/>
<text x="1288.37" y="975.252" font-size="10.5" fill="#f7f8fc" stroke="#f7f8fc" stroke-width="0.28" textLength="52.2595" lengthAdjust="spacingAndGlyphs">SIMPSON</text>
<text x="1274.23" y="987.549" font-size="10.5" fill="#f7f8fc" stroke="#f7f8fc" stroke-width="0.28" textLength="81.0022" lengthAdjust="spacingAndGlyphs">HU 410 (MAX)</text>
<path d="M1287.6022133415308,971.4724869351368 C1263.7780510298187,970.7039655702429 1269.9262219489701,992.2225637872733 1259.9354442053489,1012.9726406394097" fill="none" stroke="#e6e9f0" stroke-width="0.92"/>
<text x="1271.46" y="1010.6" font-size="10.5" fill="#f7f8fc" stroke="#f7f8fc" stroke-width="0.28" textLength="95.2966" lengthAdjust="spacingAndGlyphs">(2) 1.75x9.25 LVL</text>
<text x="1249.18" y="1034.89" font-size="10.5" fill="#f7f8fc" stroke="#f7f8fc" stroke-width="0.28" textLength="52.2595" lengthAdjust="spacingAndGlyphs">SIMPSON</text>
<text x="1235.34" y="1047.49" font-size="10.5" fill="#f7f8fc" stroke="#f7f8fc" stroke-width="0.28" textLength="80.6947" lengthAdjust="spacingAndGlyphs">HU 410 (MAX)</text>
<line x1="1293" y1="1013.74" x2="1385.2" y2="1013.74" stroke="#e6e9f0" stroke-width="1.035"/>
<line x1="1293" y1="1019.89" x2="1385.2" y2="1019.89" stroke="#e6e9f0" stroke-width="1.035"/>
<line x1="1293" y1="1016.82" x2="1385.2" y2="1016.82" stroke="#e6e9f0" stroke-width="1.242" stroke-dasharray="16 3 3 3"/>
<line x1="1293" y1="1025.27" x2="1301.44" y2="1025.27" stroke="#2cd6e6" stroke-width="1.32"/>
<line x1="1301.44" y1="1025.27" x2="1301.44" y2="1049.09" stroke="#2cd6e6" stroke-width="1.32"/>
<line x1="1293" y1="1049.09" x2="1322.19" y2="1049.09" stroke="#e6e9f0" stroke-width="1.035"/>
<line x1="1293" y1="1055.24" x2="1322.19" y2="1055.24" stroke="#e6e9f0" stroke-width="1.035"/>
<line x1="1322.19" y1="1049.09" x2="1322.19" y2="1055.24" stroke="#e6e9f0" stroke-width="1.035"/>
<rect x="1376.75" y="1049.86" width="8.45374" height="4.61113" fill="none" stroke="#e6e9f0" stroke-width="1.035"/>
<polyline points="1331.41,927.667 1331.41,963.019 1385.2,963.019" fill="none" stroke="#e6e9f0" stroke-width="1.035"/>
<polyline points="1337.56,927.667 1337.56,957.639 1385.2,957.639" fill="none" stroke="#e6e9f0" stroke-width="1.035"/>
<line x1="1331.41" y1="927.667" x2="1337.56" y2="927.667" stroke="#e6e9f0" stroke-width="1.035"/>
<path d="M1303.7411620043038,913.0648632031971 Q1312.963418383031,926.1297264063941 1331.4079311404857,927.666769136182" fill="none" stroke="#e2e43a" stroke-width="1.32"/>
<line x1="1303.74" y1="913.065" x2="1317.57" y2="900" stroke="#e2e43a" stroke-width="1.32"/>
<line x1="1305.59" y1="914.602" x2="1319.42" y2="901.537" stroke="#e2e43a" stroke-width="1.32"/>
<rect x="1385.2" y="980.695" width="6.14817" height="6.91669" fill="#e6e9f0" stroke="#e6e9f0" stroke-width="1.15"/>
<rect x="1385.2" y="1040.64" width="6.14817" height="6.91669" fill="#e6e9f0" stroke="#e6e9f0" stroke-width="1.15"/>
<rect x="1384.9" y="987.611" width="6.76299" height="53.028" fill="#24293c" stroke="#24293c" stroke-width="0.1"/>
<line x1="1385.97" y1="987.611" x2="1385.97" y2="1040.64" stroke="#e6e9f0" stroke-width="1.035"/>
<line x1="1389.82" y1="987.611" x2="1389.82" y2="1040.64" stroke="#e6e9f0" stroke-width="1.035"/>
<line x1="1392.89" y1="986.074" x2="1392.89" y2="1041.41" stroke="#e2e43a" stroke-width="1.32"/>
<polygon points="1388.28,1042.94 1348.32,1000.68 1350.68,998.444 1390.64,1040.71" fill="none" stroke="#e2e43a" stroke-width="1.2"/>
<path d="M1348.32,1000.68 A58.1695,58.1695 0 0 1 1386.74,986.843" fill="none" stroke="#e2e43a" stroke-width="1.2"/>
<polygon points="1375.21,1053.7 1337.56,1092.9 1335.21,1090.65 1372.87,1051.45" fill="none" stroke="#e2e43a" stroke-width="1.2"/>
<path d="M1337.56,1092.9 A54.3535,54.3535 0 0 1 1322.19,1054.47" fill="none" stroke="#e2e43a" stroke-width="1.2"/>
<line x1="1363.38" y1="1028.34" x2="1363.38" y2="1241.07" stroke="#e6e9f0" stroke-width="0.92"/>
<polygon points="1363.38,1027.27 1364.48,1034.27 1362.28,1034.27" fill="#e6e9f0" stroke="#e6e9f0" stroke-width="0.575"/>
<text x="0" y="3.78" font-size="10.5" fill="#f7f8fc" stroke="#f7f8fc" stroke-width="0.28" text-anchor="middle" transform="translate(1357.08 1099.82) rotate(-90)" textLength="45" lengthAdjust="spacingAndGlyphs">2x10 CJ</text>
<text x="0" y="3.78" font-size="10.5" fill="#f7f8fc" stroke="#f7f8fc" stroke-width="0.28" text-anchor="middle" transform="translate(1369.37 1104.43) rotate(-90)" textLength="56" lengthAdjust="spacingAndGlyphs">@ 16" O.C.</text>
<text x="1324.5" y="896.78" font-size="10.5" fill="#f7f8fc" stroke="#f7f8fc" stroke-width="0.28" text-anchor="middle" textLength="90" lengthAdjust="spacingAndGlyphs">2x10 CJ @ 16" O.C.</text>
<line x1="1300" y1="898.25" x2="1377" y2="898.25" stroke="#e6e9f0" stroke-width="0.92"/>
<polygon points="1381,898.25 1374,899.35 1374,897.15" fill="#e6e9f0" stroke="#e6e9f0" stroke-width="0.575"/>
<rect x="1295.75" y="1123.77" width="41.8076" height="41.5002" fill="none" stroke="#e2e43a" stroke-width="1.32"/>
<rect x="1301.44" y="1129.46" width="29.9723" height="28.1279" fill="none" stroke="#e2e43a" stroke-width="1.32"/>
<polyline points="1349.85,1162.96 1340.63,1162.96 1340.63,1123.77 1382.9,1123.77 1382.9,1159.89" fill="none" stroke="#e2e43a" stroke-width="1.32"/>
<line x1="1349.85" y1="1159.89" x2="1385.2" y2="1159.89" stroke="#e2e43a" stroke-width="1.08"/>
<line x1="1349.85" y1="1162.66" x2="1385.2" y2="1162.66" stroke="#e2e43a" stroke-width="1.08"/>
<line x1="1349.85" y1="1165.42" x2="1385.2" y2="1165.42" stroke="#e2e43a" stroke-width="1.08"/>
<line x1="1349.85" y1="1168.19" x2="1385.2" y2="1168.19" stroke="#e2e43a" stroke-width="1.08"/>
<line x1="1349.85" y1="1170.96" x2="1385.2" y2="1170.96" stroke="#e2e43a" stroke-width="1.08"/>
<line x1="1349.85" y1="1173.72" x2="1385.2" y2="1173.72" stroke="#e2e43a" stroke-width="1.08"/>
<line x1="1349.85" y1="1176.49" x2="1385.2" y2="1176.49" stroke="#e2e43a" stroke-width="1.08"/>
<line x1="1349.85" y1="1159.89" x2="1349.85" y2="1176.8" stroke="#e2e43a" stroke-width="1.08"/>
<line x1="1292.67" y1="1141.44" x2="1292.67" y2="1176.8" stroke="#e2e43a" stroke-width="1.32"/>
<line x1="1221.51" y1="1177.57" x2="1391.35" y2="1177.57" stroke="#e6e9f0" stroke-width="1.035"/>
<line x1="1221.51" y1="1186.79" x2="1261.47" y2="1186.79" stroke="#e6e9f0" stroke-width="1.035"/>
<line x1="1344.47" y1="1186.79" x2="1385.2" y2="1186.79" stroke="#e6e9f0" stroke-width="1.035"/>
<line x1="1264.55" y1="1178.33" x2="1299.9" y2="1178.33" stroke="#e2e43a" stroke-width="1.2"/>
<line x1="1264.55" y1="1181.41" x2="1299.9" y2="1181.41" stroke="#e2e43a" stroke-width="1.2"/>
<line x1="1264.55" y1="1184.48" x2="1299.9" y2="1184.48" stroke="#e2e43a" stroke-width="1.2"/>
<line x1="1264.55" y1="1186.79" x2="1299.9" y2="1186.79" stroke="#e2e43a" stroke-width="1.2"/>
<line x1="1264.55" y1="1177.57" x2="1264.55" y2="1186.79" stroke="#e6e9f0" stroke-width="0.92"/>
<line x1="1299.9" y1="1177.57" x2="1299.9" y2="1186.79" stroke="#e6e9f0" stroke-width="0.92"/>
<rect x="1264.55" y="1192.17" width="36.1205" height="36.1205" fill="none" stroke="#e2e43a" stroke-width="1.56" stroke-dasharray="7 3"/>
<line x1="1306.82" y1="1178.33" x2="1342.17" y2="1178.33" stroke="#e2e43a" stroke-width="1.2"/>
<line x1="1306.82" y1="1181.41" x2="1342.17" y2="1181.41" stroke="#e2e43a" stroke-width="1.2"/>
<line x1="1306.82" y1="1184.48" x2="1342.17" y2="1184.48" stroke="#e2e43a" stroke-width="1.2"/>
<line x1="1306.82" y1="1186.79" x2="1342.17" y2="1186.79" stroke="#e2e43a" stroke-width="1.2"/>
<line x1="1306.82" y1="1177.57" x2="1306.82" y2="1186.79" stroke="#e6e9f0" stroke-width="0.92"/>
<line x1="1342.17" y1="1177.57" x2="1342.17" y2="1186.79" stroke="#e6e9f0" stroke-width="0.92"/>
<rect x="1306.82" y="1192.17" width="36.1205" height="36.1205" fill="none" stroke="#e2e43a" stroke-width="1.56" stroke-dasharray="7 3"/>
<polyline points="1261.47,1186.79 1261.47,1193.7 1229.19,1193.7 1229.19,1253.65 1194.61,1253.65" fill="none" stroke="#e6e9f0" stroke-width="1.035"/>
<polyline points="1344.47,1186.79 1344.47,1193.7 1377.52,1193.7 1377.52,1295" fill="none" stroke="#e6e9f0" stroke-width="1.035"/>
<line x1="1385.2" y1="1186.79" x2="1385.2" y2="1211.38" stroke="#e6e9f0" stroke-width="1.035"/>
<line x1="1391.35" y1="1186.79" x2="1391.35" y2="1211.38" stroke="#e6e9f0" stroke-width="1.035"/>
<polyline points="1221.51,1186.79 1221.51,1245.96 1197.69,1245.96" fill="none" stroke="#e6e9f0" stroke-width="1.035"/>
<line x1="1215.36" y1="1186.79" x2="1215.36" y2="1236.74" stroke="#e6e9f0" stroke-width="1.035"/>
<line x1="1197.69" y1="1236.74" x2="1215.36" y2="1236.74" stroke="#e6e9f0" stroke-width="1.035"/>
<rect x="1215.36" y="1177.57" width="6.14817" height="9.22226" fill="#e6e9f0" stroke="#e6e9f0" stroke-width="1.15"/>
<rect x="1385.2" y="1211.38" width="6.14817" height="9.22226" fill="#e6e9f0" stroke="#e6e9f0" stroke-width="1.15"/>
<rect x="1385.2" y="1044.61" width="6.14817" height="132.954" fill="url(#h)" stroke="#e6e9f0" stroke-width="0.805"/>
<polyline points="1244.5,383.75 1244.5,280.5 1292,280.5 1292,289.5" fill="none" stroke="#e2e43a" stroke-width="1.44"/>
<polyline points="1253.75,383.75 1253.75,289.5 1290,289.5" fill="none" stroke="#e2e43a" stroke-width="1.32"/>
<polyline points="1259.5,383.75 1259.5,295 1290,295" fill="none" stroke="#e2e43a" stroke-width="1.32"/>
<polyline points="1256.5,383.75 1256.5,292.25 1290,292.25" fill="none" stroke="#e2e43a" stroke-width="1.08"/>
<line x1="1244.5" y1="383.75" x2="1260.5" y2="383.75" stroke="#e2e43a" stroke-width="1.2"/>
<line x1="1290" y1="289.5" x2="1290" y2="295" stroke="#e6e9f0" stroke-width="0.92"/>
<rect x="1254.5" y="333.75" width="5.5" height="3.75" fill="#24293c" stroke="#e6e9f0" stroke-width="0.92"/>
<polyline points="1292,282.5 1616.25,282.5 1616.25,363.75" fill="none" stroke="#e6e9f0" stroke-width="1.035"/>
<polyline points="1290,289.5 1608.75,289.5 1608.75,363.75" fill="none" stroke="#e6e9f0" stroke-width="1.035"/>
<line x1="1290" y1="295" x2="1495" y2="295" stroke="#e6e9f0" stroke-width="1.035"/>
<line x1="1500.75" y1="295" x2="1602.5" y2="295" stroke="#e6e9f0" stroke-width="1.035"/>
<polyline points="1602.5,295 1602.5,358.75 1500.75,358.75" fill="none" stroke="#e6e9f0" stroke-width="1.035"/>
<line x1="1602.5" y1="363.75" x2="1616.25" y2="363.75" stroke="#e6e9f0" stroke-width="1.035"/>
<line x1="1602.5" y1="406.25" x2="1616.25" y2="406.25" stroke="#e6e9f0" stroke-width="1.035"/>
<line x1="1616.25" y1="406.25" x2="1616.25" y2="608.75" stroke="#e6e9f0" stroke-width="1.035"/>
<line x1="1608.75" y1="406.25" x2="1608.75" y2="608.75" stroke="#e6e9f0" stroke-width="1.035"/>
<line x1="1602.5" y1="406.25" x2="1602.5" y2="536.25" stroke="#e6e9f0" stroke-width="1.035"/>
<rect x="1602.5" y="365" width="15" height="38.75" fill="none" stroke="#e2e43a" stroke-width="1.32"/>
<line x1="1606.25" y1="365" x2="1606.25" y2="403.75" stroke="#e2e43a" stroke-width="1.08"/>
<line x1="1609.5" y1="365" x2="1609.5" y2="403.75" stroke="#e2e43a" stroke-width="1.08"/>
<rect x="1602.5" y="610" width="15" height="64.75" fill="none" stroke="#e2e43a" stroke-width="1.32"/>
<line x1="1606.25" y1="610" x2="1606.25" y2="674.75" stroke="#e2e43a" stroke-width="1.08"/>
<line x1="1609.5" y1="610" x2="1609.5" y2="674.75" stroke="#e2e43a" stroke-width="1.08"/>
<line x1="1602.5" y1="608.75" x2="1616.25" y2="608.75" stroke="#e6e9f0" stroke-width="1.035"/>
<rect x="1501.25" y="295.5" width="88.75" height="63.25" fill="none" stroke="#2cd6e6" stroke-width="1.32"/>
<ellipse cx="1545.75" cy="327.5" rx="40.5" ry="24" fill="none" stroke="#2cd6e6" stroke-width="1.32"/>
<rect x="1596.25" y="295.5" width="6.25" height="57" fill="none" stroke="#e6e9f0" stroke-width="1.035"/>
<ellipse cx="1568.25" cy="385" rx="14" ry="11" fill="none" stroke="#2cd6e6" stroke-width="1.32"/>
<path d="M1586.25,370.0 L1598.75,370.0 L1598.75,400.0 L1586.25,400.0 Q1583.75,385.0 1586.25,370.0 Z" fill="none" stroke="#2cd6e6" stroke-width="1.32"/>
<rect x="1566.25" y="411.25" width="35.75" height="125" fill="none" stroke="#2cd6e6" stroke-width="1.32"/>
<ellipse cx="1581.25" cy="438.75" rx="11.5" ry="15" fill="none" stroke="#2cd6e6" stroke-width="1.32"/>
<circle cx="1583" cy="438.75" r="1.2" fill="none" stroke="#2cd6e6" stroke-width="1.2"/>
<rect x="1591.25" y="431.75" width="5.75" height="14" fill="none" stroke="#2cd6e6" stroke-width="1.32"/>
<line x1="1585" y1="438.75" x2="1592.5" y2="438.75" stroke="#2cd6e6" stroke-width="1.32"/>
<ellipse cx="1581.25" cy="510" rx="11.5" ry="15" fill="none" stroke="#2cd6e6" stroke-width="1.32"/>
<circle cx="1583" cy="510" r="1.2" fill="none" stroke="#2cd6e6" stroke-width="1.2"/>
<rect x="1591.25" y="503" width="5.75" height="14" fill="none" stroke="#2cd6e6" stroke-width="1.32"/>
<line x1="1585" y1="510" x2="1592.5" y2="510" stroke="#2cd6e6" stroke-width="1.32"/>
<line x1="1495" y1="295" x2="1495" y2="467.5" stroke="#e6e9f0" stroke-width="1.035"/>
<line x1="1500.75" y1="358.75" x2="1500.75" y2="467.5" stroke="#e6e9f0" stroke-width="1.035"/>
<line x1="1495" y1="467.5" x2="1500.75" y2="467.5" stroke="#e6e9f0" stroke-width="1.035"/>
<polygon points="1500.75,512.5 1532.5,481.25 1533.9,482.675 1502.15,513.925" fill="none" stroke="#e2e43a" stroke-width="1.2"/>
<path d="M1532.5,481.25 A44.5491,44.5491 0 0 0 1500.75,467.5" fill="none" stroke="#e2e43a" stroke-width="1.2"/>
<polyline points="1500.75,528.75 1500.75,512.5 1495,512.5 1495,522.5 1417.5,522.5" fill="none" stroke="#e6e9f0" stroke-width="1.035"/>
<line x1="1246.25" y1="385" x2="1246.25" y2="501.25" stroke="#e6e9f0" stroke-width="1.035"/>
<rect x="1254.5" y="383.75" width="6" height="212.5" fill="url(#h)" stroke="#e6e9f0" stroke-width="0.805"/>
<rect x="1254.5" y="596.25" width="6" height="78.5" fill="none" stroke="#e2e43a" stroke-width="1.32"/>
<line x1="1257.5" y1="596.25" x2="1257.5" y2="674.75" stroke="#e2e43a" stroke-width="1.08"/>
<text x="1413.75" y="404.28" font-size="10.5" fill="#f7f8fc" stroke="#f7f8fc" stroke-width="0.28" text-anchor="middle" textLength="65" lengthAdjust="spacingAndGlyphs">(2) 2x10 CJ</text>
<text x="1413.75" y="416.78" font-size="10.5" fill="#f7f8fc" stroke="#f7f8fc" stroke-width="0.28" text-anchor="middle" textLength="65" lengthAdjust="spacingAndGlyphs">@ 19.2" O.C.</text>
<line x1="1273.5" y1="407.5" x2="1554" y2="407.5" stroke="#e6e9f0" stroke-width="0.92"/>
<polygon points="1272.5,407.5 1279.5,406.4 1279.5,408.6" fill="#e6e9f0" stroke="#e6e9f0" stroke-width="0.575"/>
<polygon points="1555,407.5 1548,408.6 1548,406.4" fill="#e6e9f0" stroke="#e6e9f0" stroke-width="0.575"/>
<line x1="1180" y1="501.25" x2="1246.25" y2="501.25" stroke="#e6e9f0" stroke-width="1.035"/>
<line x1="1235" y1="507.5" x2="1254.5" y2="507.5" stroke="#e6e9f0" stroke-width="1.035"/>
<line x1="1188.75" y1="501.25" x2="1235" y2="501.25" stroke="#e2e43a" stroke-width="1.32"/>
<line x1="1188.75" y1="507.5" x2="1235" y2="507.5" stroke="#e2e43a" stroke-width="1.32"/>
<polygon points="1268.75,558.75 1307.5,520 1308.91,521.414 1270.16,560.164" fill="none" stroke="#e2e43a" stroke-width="1.2"/>
<path d="M1307.5,520 A54.8008,54.8008 0 0 1 1323.75,557.5" fill="none" stroke="#e2e43a" stroke-width="1.2"/>
<rect x="1260.5" y="557.5" width="8.25" height="6.25" fill="none" stroke="#e6e9f0" stroke-width="1.035"/>
<polyline points="1323.75,557.5 1331.25,557.5 1331.25,522.5 1375,522.5" fill="none" stroke="#e6e9f0" stroke-width="1.035"/>
<polyline points="1323.75,557.5 1323.75,563.75 1331.25,563.75 1331.25,605" fill="none" stroke="#e6e9f0" stroke-width="1.035"/>
<polygon points="1417.5,522.5 1388,493 1389.41,491.586 1418.91,521.086" fill="none" stroke="#e2e43a" stroke-width="1.2"/>
<path d="M1388,493 A41.7193,41.7193 0 0 0 1376.25,522.5" fill="none" stroke="#e2e43a" stroke-width="1.2"/>
<line x1="1375" y1="522.5" x2="1375" y2="528.75" stroke="#e6e9f0" stroke-width="1.035"/>
<line x1="1417.5" y1="522.5" x2="1417.5" y2="528.75" stroke="#e6e9f0" stroke-width="1.035"/>
<polyline points="1375,528.75 1337,528.75 1337,598.75 1426.25,598.75 1426.25,528.75 1417.5,528.75" fill="none" stroke="#e6e9f0" stroke-width="1.035"/>
<line x1="1351.25" y1="528.75" x2="1351.25" y2="598.75" stroke="#cfd3dd" stroke-width="1.8" stroke-dasharray="6 2.5"/>
<polyline points="1355,528.75 1355,581.25 1426.25,581.25" fill="none" stroke="#2cd6e6" stroke-width="1.32"/>
<line x1="1370" y1="585" x2="1426.25" y2="585" stroke="#cfd3dd" stroke-width="1.8" stroke-dasharray="6 2.5"/>
<rect x="1432.5" y="528.75" width="62.5" height="70" fill="none" stroke="#2cd6e6" stroke-width="1.32"/>
<line x1="1432.5" y1="528.75" x2="1495" y2="598.75" stroke="#2cd6e6" stroke-width="1.2"/>
<line x1="1495" y1="528.75" x2="1432.5" y2="598.75" stroke="#2cd6e6" stroke-width="1.2"/>
<circle cx="1463.75" cy="563.75" r="2.2" fill="none" stroke="#2cd6e6" stroke-width="1.2"/>
<rect x="1495" y="528.75" width="6.25" height="70" fill="none" stroke="#2cd6e6" stroke-width="1.32"/>
<line x1="1498" y1="528.75" x2="1498" y2="598.75" stroke="#2cd6e6" stroke-width="1.08"/>
<path d="M1501.25,529.5 Q1517.5,531.25 1526.25,540.0 L1501.25,566.25" fill="none" stroke="#2cd6e6" stroke-width="1.32"/>
<path d="M1501.25,533.75 Q1515.0,535.0 1522.0,541.25" fill="none" stroke="#2cd6e6" stroke-width="1.08"/>
<line x1="1426.25" y1="528.75" x2="1432.5" y2="528.75" stroke="#e6e9f0" stroke-width="1.035"/>
<line x1="1426.25" y1="598.75" x2="1432.5" y2="598.75" stroke="#e6e9f0" stroke-width="1.035"/>
<line x1="1331.25" y1="605" x2="1507.5" y2="605" stroke="#e6e9f0" stroke-width="1.035"/>
<line x1="1501.25" y1="598.75" x2="1507.5" y2="598.75" stroke="#e6e9f0" stroke-width="1.035"/>
<line x1="1507.5" y1="598.75" x2="1507.5" y2="605" stroke="#e6e9f0" stroke-width="1.035"/>
<polygon points="1561.25,592.5 1531.25,562.5 1532.66,561.086 1562.66,591.086" fill="none" stroke="#e2e43a" stroke-width="1.2"/>
<path d="M1531.25,562.5 A42.4264,42.4264 0 0 1 1561.25,551.25" fill="none" stroke="#e2e43a" stroke-width="1.2"/>
<polygon points="1552.5,600 1521.25,568.75 1522.66,567.336 1553.91,598.586" fill="none" stroke="#e2e43a" stroke-width="1.2"/>
<path d="M1521.25,568.75 A44.1942,44.1942 0 0 0 1507.5,597.5" fill="none" stroke="#e2e43a" stroke-width="1.2"/>
<polyline points="1602.5,536.25 1561.25,536.25 1561.25,551.25" fill="none" stroke="#e6e9f0" stroke-width="1.035"/>
<polyline points="1561.25,543.75 1566.25,543.75 1566.25,598.75 1602.5,598.75 1602.5,543.75 1566.25,543.75" fill="none" stroke="#e6e9f0" stroke-width="1.035"/>
<line x1="1572.5" y1="543.75" x2="1572.5" y2="598.75" stroke="#2cd6e6" stroke-width="1.32"/>
<polyline points="1561.25,592.5 1566.25,592.5" fill="none" stroke="#e6e9f0" stroke-width="1.035"/>
<polyline points="1552.5,600 1552.5,605 1602.5,605 1602.5,610" fill="none" stroke="#e6e9f0" stroke-width="1.035"/>
<line x1="1552.5" y1="600" x2="1561.25" y2="600" stroke="#e6e9f0" stroke-width="1.035"/>
<line x1="1561.25" y1="592.5" x2="1561.25" y2="600" stroke="#e6e9f0" stroke-width="1.035"/>
<line x1="1331.25" y1="605" x2="1331.25" y2="613.75" stroke="#e6e9f0" stroke-width="1.035"/>
<line x1="1337" y1="605" x2="1337" y2="613.75" stroke="#e6e9f0" stroke-width="1.035"/>
<line x1="1331.25" y1="613.75" x2="1337" y2="613.75" stroke="#e6e9f0" stroke-width="1.035"/>
<polygon points="1335,613.75 1373.75,652.5 1372.34,653.914 1333.59,615.164" fill="none" stroke="#e2e43a" stroke-width="1.2"/>
<path d="M1373.75,652.5 A54.8008,54.8008 0 0 1 1337,668.75" fill="none" stroke="#e2e43a" stroke-width="1.2"/>
<polyline points="1331.25,674.75 1331.25,668.75 1337,668.75 1337,674.75" fill="none" stroke="#e6e9f0" stroke-width="1.035"/>
<rect x="767" y="1307.5" width="35.5" height="35" fill="none" stroke="#e6e9f0" stroke-width="1.035"/>
<rect x="770.5" y="1311.25" width="29" height="28.25" fill="none" stroke="#e6e9f0" stroke-width="0.92"/>
<rect x="775" y="1315.5" width="20" height="19" fill="none" stroke="#e6e9f0" stroke-width="1.035"/>
<rect x="982" y="1307.5" width="35.5" height="35" fill="none" stroke="#e6e9f0" stroke-width="1.035"/>
<rect x="985.5" y="1311.25" width="29" height="28.25" fill="none" stroke="#e6e9f0" stroke-width="0.92"/>
<rect x="990" y="1315.5" width="20" height="19" fill="none" stroke="#e6e9f0" stroke-width="1.035"/>
<rect x="775" y="1222.5" width="19.5" height="10" fill="none" stroke="#e6e9f0" stroke-width="1.035"/>
<polyline points="767,1221.25 767,1241.25 802.5,1241.25 802.5,1221.25" fill="none" stroke="#e6e9f0" stroke-width="1.035"/>
<rect x="990" y="1247.5" width="18.75" height="10" fill="none" stroke="#e6e9f0" stroke-width="1.035"/>
<polyline points="982,1246.25 982,1265.5 1017.5,1265.5 1017.5,1253.75" fill="none" stroke="#e6e9f0" stroke-width="1.035"/>
<polyline points="985,1250 985,1262.5 1014.5,1262.5 1014.5,1253.75" fill="none" stroke="#e6e9f0" stroke-width="0.92"/>
<line x1="767" y1="1241.25" x2="767" y2="1307.5" stroke="#2cd6e6" stroke-width="1.44"/>
<line x1="770.5" y1="1241.25" x2="770.5" y2="1307.5" stroke="#e6e9f0" stroke-width="1.035"/>
<line x1="773.75" y1="1241.25" x2="773.75" y2="1307.5" stroke="#e6e9f0" stroke-width="1.242" stroke-dasharray="16 3 3 3"/>
<line x1="1017.5" y1="1265.5" x2="1017.5" y2="1307.5" stroke="#2cd6e6" stroke-width="1.44"/>
<line x1="1014.5" y1="1265.5" x2="1014.5" y2="1307.5" stroke="#e6e9f0" stroke-width="1.035"/>
<line x1="1011.25" y1="1265.5" x2="1011.25" y2="1307.5" stroke="#e6e9f0" stroke-width="1.242" stroke-dasharray="16 3 3 3"/>
<line x1="802.5" y1="1241.25" x2="802.5" y2="1307.5" stroke="#cfd3dd" stroke-width="1.32" stroke-dasharray="5 2.5"/>
<line x1="982" y1="1265.5" x2="982" y2="1307.5" stroke="#cfd3dd" stroke-width="1.32" stroke-dasharray="5 2.5"/>
<line x1="802.5" y1="1307.5" x2="982" y2="1307.5" stroke="#cfd3dd" stroke-width="1.32" stroke-dasharray="5 2.5"/>
<line x1="802.5" y1="1342.5" x2="982" y2="1342.5" stroke="#2cd6e6" stroke-width="1.56"/>
<text x="0" y="3.78" font-size="10.5" fill="#f7f8fc" stroke="#f7f8fc" stroke-width="0.28" text-anchor="middle" transform="translate(760.75 1282.5) rotate(-90)" textLength="40" lengthAdjust="spacingAndGlyphs">(2) 2x8</text>
<text x="0" y="3.78" font-size="10.5" fill="#f7f8fc" stroke="#f7f8fc" stroke-width="0.28" text-anchor="middle" transform="translate(1025 1293.75) rotate(-90)" textLength="40" lengthAdjust="spacingAndGlyphs">(2) 2x6</text>
<text x="897.5" y="1367.53" font-size="10.5" fill="#f7f8fc" stroke="#f7f8fc" stroke-width="0.28" text-anchor="middle" textLength="52" lengthAdjust="spacingAndGlyphs">MIN. 6x6</text>
<text x="897.5" y="1379.53" font-size="10.5" fill="#f7f8fc" stroke="#f7f8fc" stroke-width="0.28" text-anchor="middle" textLength="30" lengthAdjust="spacingAndGlyphs">POST</text>
<path d="M870.0,1363.0 C830.0,1363.0 812.5,1355.0 788.0,1336.25" fill="none" stroke="#e6e9f0" stroke-width="0.92"/>
<polygon points="786.25,1335 791.655,1337.83 790.301,1339.56" fill="#e6e9f0" stroke="#e6e9f0" stroke-width="0.575"/>
<path d="M925.0,1363.0 C962.5,1363.0 975.0,1355.0 995.75,1336.25" fill="none" stroke="#e6e9f0" stroke-width="0.92"/>
<polygon points="997.5,1335 993.449,1339.56 992.095,1337.83" fill="#e6e9f0" stroke="#e6e9f0" stroke-width="0.575"/>
<text x="658" y="1439.5" font-size="22" fill="#f7f8fc" fill-opacity="0.86" textLength="449.5" lengthAdjust="spacingAndGlyphs">FIRST FLOOR CEILING STRUCTURAL PLAN</text>
<line x1="658" y1="1442.5" x2="1108" y2="1442.5" stroke="#e6e9f0" stroke-width="1.15"/>
<text x="794.5" y="1458.26" font-size="11" fill="#2cd6e6" stroke="#2cd6e6" stroke-width="0.28" textLength="176.8" lengthAdjust="spacingAndGlyphs" font-weight="bold">SCALE: ------------ 1/4" = 1'-0"</text>
<text x="793" y="1500.56" font-size="8.5" fill="#f7f8fc" stroke="#f7f8fc" stroke-width="0.28" textLength="31" lengthAdjust="spacingAndGlyphs" font-weight="bold">NOTES:</text>
<line x1="793" y1="1501.5" x2="824" y2="1501.5" stroke="#e6e9f0" stroke-width="0.92"/>
<text x="793" y="1517.56" font-size="8.5" fill="#f7f8fc" stroke="#f7f8fc" stroke-width="0.28" textLength="232.8" lengthAdjust="spacingAndGlyphs" font-weight="bold">1) SHADED WALLS DENOTE LOAD BEARING WALLS.</text>
<text x="793" y="1530.56" font-size="8.5" fill="#f7f8fc" stroke="#f7f8fc" stroke-width="0.28" textLength="135" lengthAdjust="spacingAndGlyphs" font-weight="bold">2) ■ DENOTES SOLID STUDS.</text>
<polyline points="319.5,1636.25 319.5,1602.5 468,1453.75" fill="none" stroke="#e6e9f0" stroke-width="1.035"/>
<polyline points="408,1406 603.75,1602.5 603.75,1636.25" fill="none" stroke="#e6e9f0" stroke-width="1.035"/>
<circle cx="461.75" cy="1460" r="8.5" fill="none" stroke="#e6e9f0" stroke-width="1.035"/>
<line x1="378" y1="1544.25" x2="546.25" y2="1544.25" stroke="#e6e9f0" stroke-width="1.035"/>
<text x="439.5" y="1412.88" font-size="8" fill="#f7f8fc" stroke="#f7f8fc" stroke-width="0.28" text-anchor="middle">12</text>
<polyline points="430.5,1417.5 452.5,1417.5 452.5,1441.75" fill="none" stroke="#e6e9f0" stroke-width="0.92"/>
<text x="457.5" y="1433.38" font-size="8" fill="#f7f8fc" stroke="#f7f8fc" stroke-width="0.28" text-anchor="middle">12</text>
<text x="388.75" y="1494.63" font-size="8" fill="#f7f8fc" stroke="#f7f8fc" stroke-width="0.28" text-anchor="middle">12</text>
<polyline points="398.75,1499.25 376.25,1499.25 376.25,1523" fill="none" stroke="#e6e9f0" stroke-width="0.92"/>
<text x="370.5" y="1515.13" font-size="8" fill="#f7f8fc" stroke="#f7f8fc" stroke-width="0.28" text-anchor="middle">12</text>
<text x="548" y="1470.53" font-size="10.5" fill="#f7f8fc" stroke="#f7f8fc" stroke-width="0.28" text-anchor="middle" textLength="29" lengthAdjust="spacingAndGlyphs">MAIN</text>
<text x="548" y="1483.78" font-size="10.5" fill="#f7f8fc" stroke="#f7f8fc" stroke-width="0.28" text-anchor="middle" textLength="54" lengthAdjust="spacingAndGlyphs">RAFTERS</text>
<polyline points="531.25,1467.25 507.5,1467.25 493.25,1486" fill="none" stroke="#e6e9f0" stroke-width="0.92"/>
<polygon points="492,1487.5 494.827,1482.09 496.561,1483.45" fill="#e6e9f0" stroke="#e6e9f0" stroke-width="0.575"/>
<text x="595" y="1514.28" font-size="10.5" fill="#f7f8fc" stroke="#f7f8fc" stroke-width="0.28" text-anchor="middle" textLength="40" lengthAdjust="spacingAndGlyphs">2x6 CJ</text>
<text x="598.75" y="1526.78" font-size="10.5" fill="#f7f8fc" stroke="#f7f8fc" stroke-width="0.28" text-anchor="middle" textLength="56" lengthAdjust="spacingAndGlyphs">@ 16" O.C.</text>
<polyline points="572.5,1511 550,1511 517.5,1541.75" fill="none" stroke="#e6e9f0" stroke-width="0.92"/>
<polygon points="516,1543.25 519.638,1538.35 521.138,1539.96" fill="#e6e9f0" stroke="#e6e9f0" stroke-width="0.575"/>
<text x="274.5" y="1548.03" font-size="10.5" fill="#f7f8fc" stroke="#f7f8fc" stroke-width="0.28" text-anchor="middle" textLength="63" lengthAdjust="spacingAndGlyphs">2x6 FALSE</text>
<text x="275" y="1560.53" font-size="10.5" fill="#f7f8fc" stroke="#f7f8fc" stroke-width="0.28" text-anchor="middle" textLength="54" lengthAdjust="spacingAndGlyphs">RAFTERS</text>
<text x="273.75" y="1573.53" font-size="10.5" fill="#f7f8fc" stroke="#f7f8fc" stroke-width="0.28" text-anchor="middle" textLength="56" lengthAdjust="spacingAndGlyphs">@ 16" O.C.</text>
<polyline points="309.5,1545 326.25,1545 345.5,1570.5" fill="none" stroke="#e6e9f0" stroke-width="0.92"/>
<polygon points="346.5,1572 342.011,1567.87 343.768,1566.55" fill="#e6e9f0" stroke="#e6e9f0" stroke-width="0.575"/>
<line x1="433.75" y1="1553" x2="433.75" y2="1639.5" stroke="#e6e9f0" stroke-width="0.92"/>
<polygon points="433.75,1551.75 434.85,1558.75 432.65,1558.75" fill="#e6e9f0" stroke="#e6e9f0" stroke-width="0.575"/>
<polygon points="433.75,1640.75 432.65,1633.75 434.85,1633.75" fill="#e6e9f0" stroke="#e6e9f0" stroke-width="0.575"/>
<text x="0" y="3.78" font-size="10.5" fill="#f7f8fc" stroke="#f7f8fc" stroke-width="0.28" text-anchor="middle" transform="translate(427 1596.75) rotate(-90)" textLength="32" lengthAdjust="spacingAndGlyphs">15'-0"</text>
<text x="0" y="3.78" font-size="10.5" fill="#f7f8fc" stroke="#f7f8fc" stroke-width="0.28" text-anchor="middle" transform="translate(440 1596.75) rotate(-90)" textLength="18" lengthAdjust="spacingAndGlyphs">AFF</text>
<path d="M468.75,1455.5 C515.0,1413.0 590.0,1413.0 640.0,1473.0 C677.5,1518.0 702.5,1563.0 730.0,1593.5" fill="none" stroke="#e6e9f0" stroke-width="0.92"/>
<polygon points="731.5,1595.5 726.801,1591.61 728.486,1590.2" fill="#e6e9f0" stroke="#e6e9f0" stroke-width="0.575"/>
<text x="411.25" y="1677.5" font-size="23.5" fill="#f7f8fc" fill-opacity="0.86" textLength="96.25" lengthAdjust="spacingAndGlyphs">SECTION</text>
<line x1="410" y1="1681.75" x2="507.5" y2="1681.75" stroke="#e6e9f0" stroke-width="1.15"/>
<line x1="410" y1="1685.5" x2="507.5" y2="1685.5" stroke="#e6e9f0" stroke-width="1.15"/>
<circle cx="525.5" cy="1673" r="13.5" fill="none" stroke="#e6e9f0" stroke-width="1.15"/>
<text x="525.5" y="1678.9" font-size="15" fill="#f7f8fc" fill-opacity="0.86" text-anchor="middle">A</text>
<line x1="538.75" y1="1681.75" x2="559.5" y2="1681.75" stroke="#e6e9f0" stroke-width="1.15"/>
<text x="547.5" y="1694.63" font-size="8" fill="#f7f8fc" stroke="#f7f8fc" stroke-width="0.28" text-anchor="middle">NTS</text>
<text x="631.646" y="1598.61" font-size="10.5" fill="#f7f8fc" stroke="#f7f8fc" stroke-width="0.28" textLength="54.2495" lengthAdjust="spacingAndGlyphs">2x6 FLAT</text>
<text x="639.783" y="1610.72" font-size="10.5" fill="#f7f8fc" stroke="#f7f8fc" stroke-width="0.28" textLength="38.3363" lengthAdjust="spacingAndGlyphs">PLATE</text>
<text x="647.92" y="1633.51" font-size="10.5" fill="#f7f8fc" stroke="#f7f8fc" stroke-width="0.28" textLength="37.0705" lengthAdjust="spacingAndGlyphs">FALSE</text>
<text x="640.145" y="1645.26" font-size="10.5" fill="#f7f8fc" stroke="#f7f8fc" stroke-width="0.28" textLength="53.8879" lengthAdjust="spacingAndGlyphs">RAFTERS</text>
<text x="804.34" y="1609.46" font-size="10.5" fill="#f7f8fc" stroke="#f7f8fc" stroke-width="0.28" textLength="28.9331" lengthAdjust="spacingAndGlyphs">MAIN</text>
<text x="792.043" y="1622.12" font-size="10.5" fill="#f7f8fc" stroke="#f7f8fc" stroke-width="0.28" textLength="53.5262" lengthAdjust="spacingAndGlyphs">RAFTERS</text>
<polygon points="745.57,1606.58 787.161,1647.27 776.311,1658.12 735.624,1617.79" fill="none" stroke="#e6e9f0" stroke-width="1.035"/>
<line x1="742.857" y1="1609.29" x2="749.186" y2="1603.87" stroke="#e6e9f0" stroke-width="0.92"/>
<line x1="732.911" y1="1620.69" x2="738.336" y2="1615.62" stroke="#e6e9f0" stroke-width="0.92"/>
<line x1="784.448" y1="1649.98" x2="790.235" y2="1644.92" stroke="#e6e9f0" stroke-width="0.92"/>
<line x1="773.96" y1="1660.83" x2="779.024" y2="1655.77" stroke="#e6e9f0" stroke-width="0.92"/>
<line x1="707.595" y1="1672.59" x2="747.378" y2="1632.8" stroke="#e6e9f0" stroke-width="1.035"/>
<line x1="715.732" y1="1681.08" x2="755.877" y2="1641.84" stroke="#e6e9f0" stroke-width="1.035"/>
<line x1="733.816" y1="1620.14" x2="755.877" y2="1642.21" stroke="#e6e9f0" stroke-width="1.035"/>
<polyline points="688.608,1594.83 698.553,1594.83 743.761,1632.8" fill="none" stroke="#e6e9f0" stroke-width="0.92"/>
<polygon points="745.027,1634.07 739.832,1630.87 741.304,1629.24" fill="#e6e9f0" stroke="#e6e9f0" stroke-width="0.575"/>
<polyline points="688.608,1631.9 704.882,1631.9 724.051,1656.85" fill="none" stroke="#e6e9f0" stroke-width="0.92"/>
<polygon points="725.136,1658.3 720.575,1654.25 722.308,1652.89" fill="#e6e9f0" stroke="#e6e9f0" stroke-width="0.575"/>
<polyline points="802.532,1605.68 778.119,1605.68 764.557,1623.4" fill="none" stroke="#e6e9f0" stroke-width="0.92"/>
<polygon points="763.472,1624.85 766.299,1619.44 768.033,1620.8" fill="#e6e9f0" stroke="#e6e9f0" stroke-width="0.575"/>
<rect x="2056.28" y="1535.87" width="98.1429" height="97.5552" fill="none" stroke="#b9bdcb" stroke-width="1.4"/>
<line x1="2105.42" y1="1541.16" x2="2105.42" y2="1628.13" stroke="#b9bdcb" stroke-width="0.9"/>
<line x1="2062.16" y1="1584.41" x2="2148.55" y2="1584.41" stroke="#b9bdcb" stroke-width="0.9"/>
<text x="2083.02" y="1579.94" font-size="47" fill="#30e8f2" text-anchor="middle" font-weight="bold">A</text>
<rect x="2121.75" y="1546.09" width="7.99248" height="33.2628" fill="none" stroke="#30e8f2" stroke-width="0.9"/>
<text x="2087.26" y="1625.2" font-size="47" fill="#30e8f2" text-anchor="middle" font-weight="bold">B</text>
<text x="2130.63" y="1625.2" font-size="47" fill="#30e8f2" text-anchor="middle" font-weight="bold">D</text>
<circle cx="2167.71" cy="1629.31" r="5.8" fill="none" stroke="#d030d0" stroke-width="1"/>
<text x="2167.71" y="1632.06" font-size="7" fill="#30e8f2" stroke="#30e8f2" stroke-width="0.28" text-anchor="middle" font-weight="bold">R</text>
<text x="2104.89" y="1646.97" font-size="11.5" fill="#30e8f2" stroke="#30e8f2" stroke-width="0.28" text-anchor="middle" textLength="130.113" lengthAdjust="spacingAndGlyphs">AMERICAN INSTITUTE</text>
<text x="2104.77" y="1660.48" font-size="11.5" fill="#30e8f2" stroke="#30e8f2" stroke-width="0.28" text-anchor="middle" textLength="15.8674" lengthAdjust="spacingAndGlyphs">OF</text>
<text x="2106.12" y="1673.76" font-size="11.5" fill="#30e8f2" stroke="#30e8f2" stroke-width="0.28" text-anchor="middle" textLength="112.6" lengthAdjust="spacingAndGlyphs">BUILDING DESIGN</text>
</svg></body></html>
